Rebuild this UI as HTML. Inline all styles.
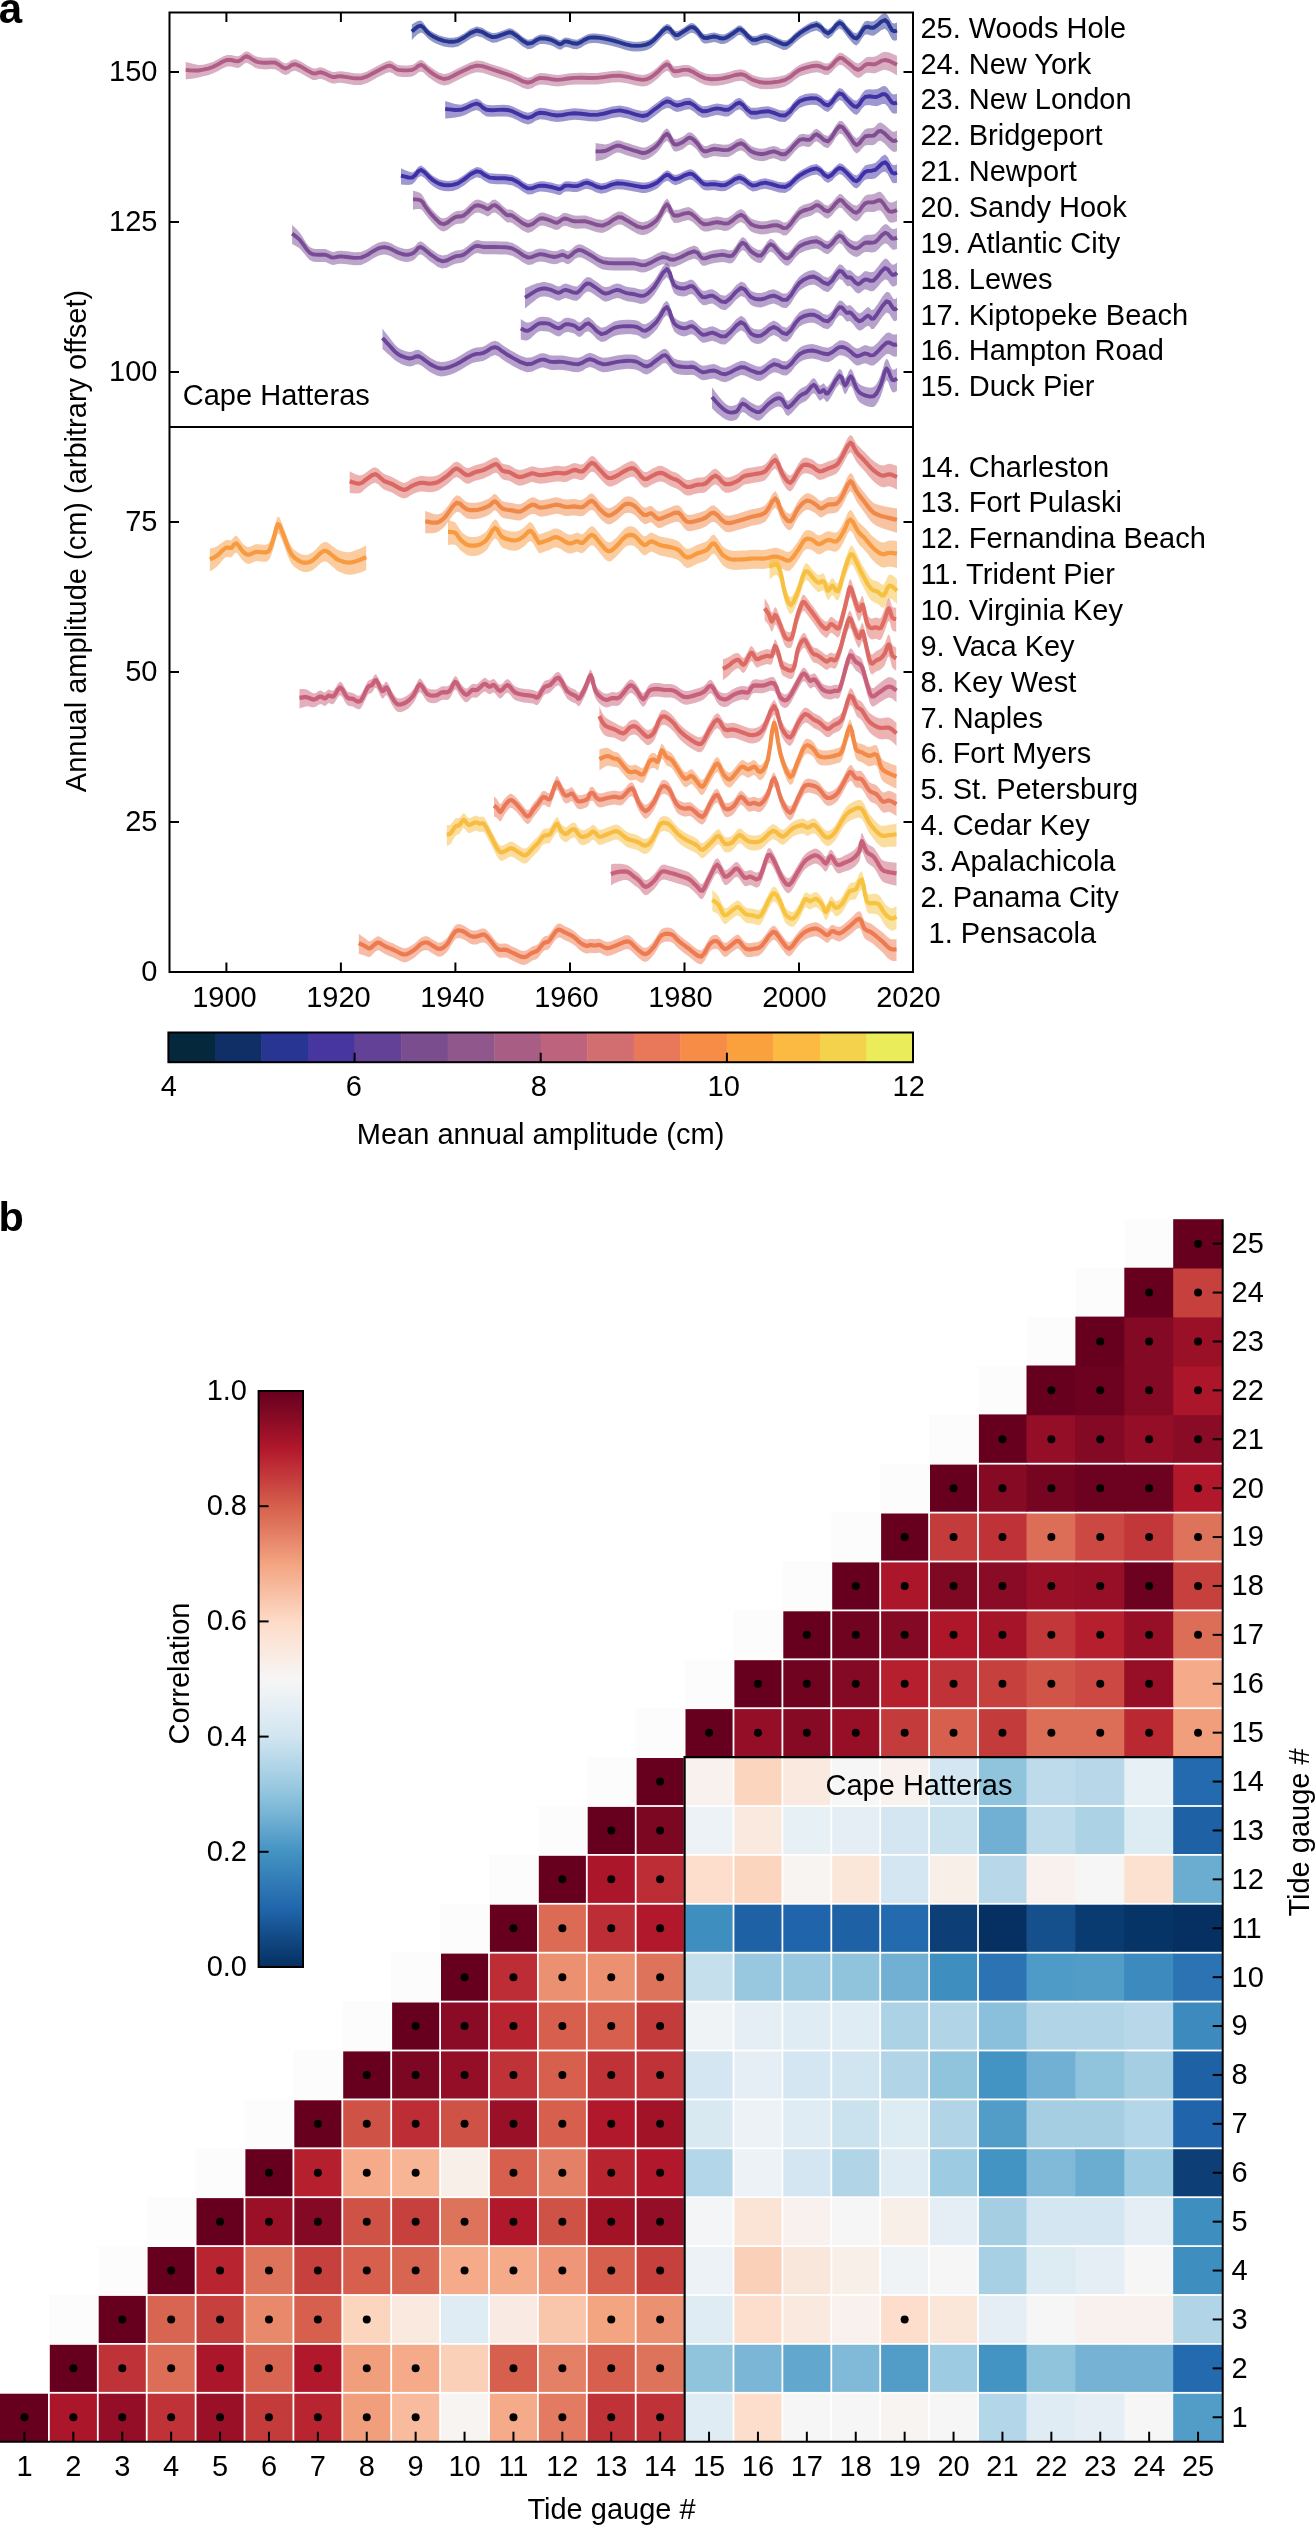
<!DOCTYPE html><html><head><meta charset="utf-8"><style>html,body{margin:0;padding:0;background:#fff;}svg{display:block;will-change:transform;}text{font-family:"Liberation Sans", sans-serif;}</style></head><body>
<svg width="1315" height="2526" viewBox="0 0 1315 2526">
<rect width="1315" height="2526" fill="#fff"/>
<text x="-1.2" y="23.3" font-size="42" font-weight="bold">a</text>
<g>
<path d="M411.8,24.4 L414.2,22.9 L417.6,20.9 L421.0,20.5 L423.6,22.9 L426.3,26.9 L429.5,30.2 L433.8,32.8 L438.8,35.2 L443.8,36.8 L448.4,37.7 L453.0,37.8 L458.0,36.8 L464.0,33.5 L470.4,29.1 L476.6,26.5 L482.2,27.8 L487.4,31.0 L492.2,33.1 L496.5,32.8 L500.2,31.4 L503.7,30.2 L506.4,29.2 L508.9,28.3 L512.2,28.8 L517.0,32.1 L522.7,36.8 L527.9,39.7 L532.2,38.9 L536.1,36.3 L540.0,34.5 L544.0,34.4 L547.8,35.0 L551.4,35.9 L554.6,37.4 L557.4,39.2 L560.0,40.2 L561.9,39.6 L563.4,38.2 L565.7,37.4 L569.0,38.0 L573.1,39.3 L577.1,39.7 L580.9,38.1 L584.7,35.7 L588.5,33.9 L592.2,33.4 L595.9,33.5 L599.9,33.9 L604.3,34.6 L609.1,35.6 L614.1,36.8 L619.7,38.5 L625.7,40.4 L631.3,41.6 L636.4,41.9 L641.3,41.6 L645.5,40.8 L648.6,39.7 L651.1,38.3 L654.1,35.9 L658.2,31.7 L662.8,26.6 L666.9,23.7 L670.1,25.1 L672.9,28.7 L675.5,31.1 L677.9,31.0 L680.2,29.7 L682.6,28.2 L685.4,26.4 L688.4,24.3 L691.1,23.1 L693.2,23.3 L694.9,24.3 L696.8,26.0 L699.0,28.6 L701.3,31.8 L704.0,33.9 L707.1,34.0 L710.5,33.1 L714.0,32.5 L717.3,33.2 L720.6,34.3 L723.9,34.5 L727.4,33.1 L730.8,30.8 L733.9,28.8 L736.3,27.0 L738.5,25.4 L741.0,25.4 L744.5,28.4 L748.4,32.9 L752.5,35.9 L756.7,35.7 L761.1,34.0 L765.3,33.1 L769.2,34.0 L773.0,35.8 L776.7,37.4 L780.0,38.9 L783.2,40.3 L786.7,40.2 L790.6,37.5 L794.8,33.3 L799.5,29.4 L805.1,25.7 L811.2,22.3 L816.6,20.8 L820.8,23.1 L824.4,27.3 L828.0,29.4 L831.9,26.6 L835.8,21.6 L839.4,18.7 L842.5,20.0 L845.2,23.4 L848.0,26.7 L850.8,29.6 L853.7,32.5 L856.5,33.2 L859.4,30.2 L862.2,25.0 L865.1,21.2 L867.8,20.7 L870.6,21.4 L873.7,21.2 L877.4,18.4 L881.5,14.5 L885.1,12.8 L887.8,15.2 L890.1,19.6 L892.2,22.9 L894.2,23.5 L895.9,23.0 L897.0,22.5 L897.0,40.1 L895.9,40.4 L894.2,40.7 L892.2,39.8 L890.1,36.3 L887.8,31.5 L885.1,28.8 L881.5,30.1 L877.4,33.3 L873.7,35.7 L870.6,35.5 L867.8,34.4 L865.1,34.6 L862.2,38.0 L859.4,42.7 L856.5,45.4 L853.7,44.3 L850.8,41.1 L848.0,37.7 L845.2,34.1 L842.5,30.3 L839.4,28.6 L835.8,31.2 L831.9,36.2 L828.0,39.0 L824.4,36.9 L820.8,32.7 L816.6,30.4 L811.2,31.9 L805.1,35.3 L799.5,39.0 L794.8,42.9 L790.6,47.1 L786.7,49.8 L783.2,49.9 L780.0,48.5 L776.7,47.0 L773.0,45.4 L769.2,43.6 L765.3,42.7 L761.1,43.6 L756.7,45.3 L752.5,45.5 L748.4,42.5 L744.5,38.0 L741.0,35.0 L738.5,35.0 L736.3,36.6 L733.9,38.4 L730.8,40.4 L727.4,42.7 L723.9,44.1 L720.6,43.9 L717.3,42.8 L714.0,42.1 L710.5,42.7 L707.1,43.6 L704.0,43.5 L701.3,41.4 L699.0,38.2 L696.8,35.6 L694.9,33.9 L693.2,32.9 L691.1,32.7 L688.4,33.9 L685.4,36.0 L682.6,37.8 L680.2,39.3 L677.9,40.6 L675.5,40.7 L672.9,38.3 L670.1,34.7 L666.9,33.3 L662.8,36.2 L658.2,41.3 L654.1,45.5 L651.1,47.9 L648.6,49.3 L645.5,50.4 L641.3,51.2 L636.4,51.5 L631.3,51.2 L625.7,50.0 L619.7,48.1 L614.1,46.4 L609.1,45.2 L604.3,44.2 L599.9,43.5 L595.9,43.1 L592.2,43.0 L588.5,43.5 L584.7,45.3 L580.9,47.7 L577.1,49.3 L573.1,48.9 L569.0,47.6 L565.7,47.0 L563.4,47.8 L561.9,49.2 L560.0,49.8 L557.4,48.8 L554.6,47.0 L551.4,45.5 L547.8,44.6 L544.0,44.0 L540.0,44.1 L536.1,45.9 L532.2,48.5 L527.9,49.3 L522.7,46.4 L517.0,41.7 L512.2,38.4 L508.9,37.9 L506.4,38.8 L503.7,39.8 L500.2,41.0 L496.5,42.4 L492.2,42.7 L487.4,40.6 L482.2,37.4 L476.6,36.1 L470.4,38.7 L464.0,43.1 L458.0,46.4 L453.0,47.4 L448.4,47.3 L443.8,46.4 L438.8,44.8 L433.8,42.4 L429.5,39.8 L426.3,36.7 L423.6,33.8 L421.0,32.5 L417.6,34.2 L414.2,37.5 L411.8,40.0 Z" fill="#263492" fill-opacity="0.5" stroke="none"/>
<path d="M185.7,61.9 L189.0,62.8 L193.7,64.1 L198.5,65.0 L203.2,64.7 L208.0,63.6 L212.8,62.0 L217.6,59.6 L222.5,56.8 L227.0,54.9 L231.2,55.0 L235.0,56.0 L238.4,56.3 L241.3,54.7 L243.8,52.4 L246.4,51.2 L249.4,52.3 L252.5,54.5 L255.6,56.3 L258.3,57.1 L261.1,57.5 L264.1,57.8 L267.8,57.7 L271.7,57.4 L275.5,57.8 L278.9,59.6 L282.2,62.1 L285.5,63.5 L288.6,62.3 L291.6,60.0 L295.5,59.2 L301.0,61.6 L307.3,65.5 L312.6,68.3 L316.0,68.5 L318.4,67.5 L321.1,67.2 L324.8,68.6 L328.9,70.6 L332.5,72.0 L335.2,72.0 L337.5,71.4 L341.1,71.2 L347.0,72.1 L354.2,73.3 L361.1,73.4 L367.2,71.4 L373.0,68.3 L378.2,65.5 L382.5,63.3 L386.2,61.4 L389.6,60.6 L392.4,61.5 L395.0,63.4 L398.1,64.9 L402.7,65.4 L407.9,65.4 L412.4,64.9 L415.7,63.1 L418.3,60.8 L421.0,59.8 L423.6,61.0 L426.2,63.6 L429.5,66.3 L433.8,69.3 L438.8,72.4 L443.8,74.0 L448.4,73.2 L453.0,70.9 L458.0,68.3 L463.9,65.4 L470.3,62.4 L476.6,60.6 L482.3,61.1 L487.9,62.9 L493.7,64.9 L499.8,66.8 L506.2,69.0 L512.2,71.2 L517.8,73.7 L523.0,76.4 L527.9,77.7 L532.0,76.7 L535.7,74.4 L540.0,72.9 L545.3,73.2 L551.2,74.2 L557.1,74.9 L562.6,74.4 L568.1,73.5 L574.2,72.9 L581.4,72.8 L589.2,73.0 L597.0,72.9 L604.6,72.0 L612.2,70.9 L619.8,70.6 L627.9,71.9 L635.9,73.9 L642.7,74.9 L647.3,74.1 L650.6,72.4 L654.1,70.0 L658.5,66.2 L663.0,61.7 L666.9,59.2 L669.4,60.5 L671.3,63.9 L674.0,66.3 L678.1,66.1 L683.1,64.9 L688.3,64.9 L693.8,67.3 L699.6,70.9 L705.4,73.4 L711.0,74.2 L716.7,74.1 L722.5,73.4 L728.8,72.0 L735.3,70.0 L741.0,69.2 L745.3,70.4 L748.8,72.8 L752.5,74.9 L756.4,76.2 L760.4,77.3 L765.3,77.7 L771.6,77.5 L778.8,76.6 L785.2,74.9 L790.3,71.9 L794.8,68.1 L799.5,64.9 L805.2,62.8 L811.2,61.3 L816.6,60.6 L820.8,61.5 L824.4,63.2 L828.0,63.5 L831.9,60.4 L835.8,55.8 L839.4,52.7 L842.4,52.9 L845.1,54.9 L848.0,57.0 L851.3,59.5 L854.7,62.2 L858.0,63.5 L860.9,62.1 L863.7,59.4 L866.5,57.2 L869.3,56.8 L872.1,56.9 L875.1,56.6 L878.2,55.0 L881.5,52.8 L885.1,51.7 L889.3,52.5 L893.9,54.4 L897.0,55.8 L897.0,75.4 L893.9,73.5 L889.3,71.1 L885.1,69.7 L881.5,70.4 L878.2,72.1 L875.1,73.3 L872.1,73.2 L869.3,72.7 L866.5,72.7 L863.7,74.5 L860.9,76.9 L858.0,77.9 L854.7,76.2 L851.3,73.0 L848.0,70.1 L845.1,67.5 L842.4,65.3 L839.4,64.7 L835.8,67.4 L831.9,72.0 L828.0,75.1 L824.4,74.8 L820.8,73.1 L816.6,72.2 L811.2,72.9 L805.2,74.4 L799.5,76.5 L794.8,79.7 L790.3,83.5 L785.2,86.5 L778.8,88.2 L771.6,89.1 L765.3,89.3 L760.4,88.9 L756.4,87.8 L752.5,86.5 L748.8,84.4 L745.3,82.0 L741.0,80.8 L735.3,81.6 L728.8,83.6 L722.5,85.0 L716.7,85.7 L711.0,85.8 L705.4,85.0 L699.6,82.5 L693.8,78.9 L688.3,76.5 L683.1,76.5 L678.1,77.7 L674.0,77.9 L671.3,75.5 L669.4,72.1 L666.9,70.8 L663.0,73.3 L658.5,77.8 L654.1,81.6 L650.6,84.0 L647.3,85.7 L642.7,86.5 L635.9,85.5 L627.9,83.5 L619.8,82.2 L612.2,82.5 L604.6,83.6 L597.0,84.5 L589.2,84.6 L581.4,84.4 L574.2,84.5 L568.1,85.1 L562.6,86.0 L557.1,86.5 L551.2,85.8 L545.3,84.8 L540.0,84.5 L535.7,86.0 L532.0,88.3 L527.9,89.3 L523.0,88.0 L517.8,85.3 L512.2,82.8 L506.2,80.6 L499.8,78.4 L493.7,76.5 L487.9,74.5 L482.3,72.7 L476.6,72.2 L470.3,74.0 L463.9,77.0 L458.0,79.9 L453.0,82.5 L448.4,84.8 L443.8,85.6 L438.8,84.0 L433.8,80.9 L429.5,77.9 L426.2,75.2 L423.6,72.6 L421.0,71.4 L418.3,72.4 L415.7,74.7 L412.4,76.5 L407.9,77.0 L402.7,77.0 L398.1,76.5 L395.0,75.0 L392.4,73.1 L389.6,72.2 L386.2,73.0 L382.5,74.9 L378.2,77.1 L373.0,79.9 L367.2,83.0 L361.1,85.0 L354.2,84.9 L347.0,83.7 L341.1,82.8 L337.5,83.0 L335.2,83.6 L332.5,83.6 L328.9,82.2 L324.8,80.2 L321.1,78.8 L318.4,79.1 L316.0,80.1 L312.6,79.9 L307.3,77.1 L301.0,73.2 L295.5,70.8 L291.6,71.6 L288.6,73.9 L285.5,75.1 L282.2,73.7 L278.9,71.2 L275.5,69.4 L271.7,69.0 L267.8,69.3 L264.1,69.4 L261.1,69.1 L258.3,68.7 L255.6,67.9 L252.5,66.1 L249.4,63.9 L246.4,62.8 L243.8,64.0 L241.3,66.3 L238.4,67.9 L235.0,67.6 L231.2,66.6 L227.0,66.5 L222.5,68.4 L217.6,71.2 L212.8,73.6 L208.0,75.2 L203.2,76.3 L198.5,77.5 L193.7,78.5 L189.0,79.1 L185.7,79.5 Z" fill="#b05e86" fill-opacity="0.5" stroke="none"/>
<path d="M445.2,101.0 L449.3,102.3 L455.1,104.0 L460.9,104.8 L466.3,102.8 L471.8,100.0 L476.6,98.5 L480.0,99.9 L482.9,102.7 L486.5,104.8 L492.0,105.2 L498.3,104.9 L503.7,104.8 L506.9,105.0 L509.1,105.3 L512.2,106.2 L517.0,108.5 L522.7,111.3 L527.9,112.8 L532.0,111.7 L535.7,109.2 L540.0,107.7 L545.3,108.2 L551.2,109.6 L557.1,110.5 L562.6,110.0 L568.1,108.9 L574.2,108.2 L581.4,108.7 L589.2,109.7 L597.0,109.9 L604.6,108.5 L612.2,106.4 L619.8,105.4 L627.9,107.0 L635.9,109.7 L642.7,111.1 L647.3,110.0 L650.6,107.5 L654.1,104.8 L658.3,101.7 L662.8,98.2 L666.9,96.3 L670.3,97.0 L673.4,99.2 L676.9,100.5 L680.9,99.7 L685.3,98.1 L689.7,97.7 L693.9,100.1 L698.2,103.8 L702.5,106.2 L707.3,106.0 L712.2,104.4 L716.8,103.4 L720.8,103.9 L724.5,104.8 L728.2,104.8 L732.0,102.4 L735.8,99.1 L739.6,97.7 L743.2,100.2 L746.8,104.5 L751.0,107.7 L756.3,107.8 L762.2,106.7 L768.1,106.2 L773.9,107.9 L779.8,110.2 L785.2,110.5 L790.1,106.7 L794.6,100.8 L799.5,96.3 L805.2,94.1 L811.2,93.2 L816.6,93.4 L820.8,95.8 L824.4,99.2 L828.0,100.5 L831.9,97.2 L835.8,91.6 L839.4,88.1 L842.5,89.0 L845.2,92.0 L848.0,95.0 L850.8,97.5 L853.7,100.0 L856.5,100.7 L859.3,98.0 L862.0,93.5 L865.1,90.1 L868.8,89.2 L872.8,89.4 L876.5,89.3 L879.6,88.0 L882.4,86.3 L885.1,85.9 L887.6,88.1 L890.0,91.5 L892.2,94.0 L894.2,94.5 L895.9,94.1 L897.0,93.7 L897.0,113.3 L895.9,113.5 L894.2,113.7 L892.2,113.0 L890.0,110.2 L887.6,106.4 L885.1,103.9 L882.4,104.0 L879.6,105.3 L876.5,106.2 L872.8,105.8 L868.8,105.1 L865.1,105.4 L862.0,108.4 L859.3,112.5 L856.5,114.9 L853.7,113.8 L850.8,111.0 L848.0,108.0 L845.2,104.7 L842.5,101.3 L839.4,100.0 L835.8,103.2 L831.9,108.8 L828.0,112.1 L824.4,110.8 L820.8,107.4 L816.6,105.0 L811.2,104.8 L805.2,105.7 L799.5,107.9 L794.6,112.4 L790.1,118.3 L785.2,122.1 L779.8,121.8 L773.9,119.5 L768.1,117.8 L762.2,118.3 L756.3,119.4 L751.0,119.3 L746.8,116.1 L743.2,111.8 L739.6,109.3 L735.8,110.7 L732.0,114.0 L728.2,116.4 L724.5,116.4 L720.8,115.5 L716.8,115.0 L712.2,116.0 L707.3,117.6 L702.5,117.8 L698.2,115.4 L693.9,111.7 L689.7,109.3 L685.3,109.7 L680.9,111.3 L676.9,112.1 L673.4,110.8 L670.3,108.6 L666.9,107.9 L662.8,109.8 L658.3,113.3 L654.1,116.4 L650.6,119.1 L647.3,121.6 L642.7,122.7 L635.9,121.3 L627.9,118.6 L619.8,117.0 L612.2,118.0 L604.6,120.1 L597.0,121.5 L589.2,121.3 L581.4,120.3 L574.2,119.8 L568.1,120.5 L562.6,121.6 L557.1,122.1 L551.2,121.2 L545.3,119.8 L540.0,119.3 L535.7,120.8 L532.0,123.3 L527.9,124.4 L522.7,122.9 L517.0,120.1 L512.2,117.8 L509.1,116.9 L506.9,116.6 L503.7,116.4 L498.3,116.5 L492.0,116.8 L486.5,116.4 L482.9,114.3 L480.0,111.5 L476.6,110.1 L471.8,111.6 L466.3,114.4 L460.9,116.4 L455.1,117.6 L449.3,118.2 L445.2,118.6 Z" fill="#4032a2" fill-opacity="0.5" stroke="none"/>
<path d="M595.6,142.9 L598.1,143.5 L601.8,144.1 L605.6,144.4 L609.4,143.5 L613.4,141.6 L617.0,140.2 L620.0,140.4 L622.6,141.4 L625.6,142.5 L629.2,143.6 L633.3,144.9 L637.0,145.9 L639.9,146.9 L642.6,147.6 L645.5,147.4 L649.2,145.8 L653.1,143.3 L656.9,140.2 L660.5,135.8 L663.8,130.8 L666.9,128.3 L669.4,130.6 L671.7,135.4 L674.0,138.8 L676.8,139.2 L679.8,138.1 L682.6,136.8 L685.1,135.1 L687.4,133.1 L689.7,132.2 L692.1,133.1 L694.5,135.1 L696.8,137.4 L699.1,140.4 L701.4,143.8 L704.0,145.9 L706.9,145.9 L710.2,144.6 L714.0,143.6 L718.4,144.0 L723.4,144.7 L728.2,144.5 L732.7,142.3 L737.0,139.3 L741.0,137.9 L744.5,139.7 L747.7,143.1 L751.0,145.9 L754.7,147.5 L758.6,148.4 L762.4,148.8 L766.2,148.0 L770.0,146.7 L773.8,145.9 L777.5,147.1 L781.2,148.9 L785.2,148.8 L789.9,144.8 L795.0,138.9 L799.5,134.5 L803.3,133.7 L806.5,134.4 L809.5,134.5 L811.9,132.6 L814.0,130.0 L816.6,128.8 L820.1,131.1 L824.1,134.7 L828.0,135.9 L831.9,131.7 L835.8,125.0 L839.4,120.7 L842.5,121.3 L845.2,124.5 L848.0,128.1 L850.8,132.0 L853.7,136.3 L856.5,138.4 L859.4,136.5 L862.2,132.4 L865.1,129.2 L868.0,128.3 L870.9,128.3 L873.7,127.8 L876.0,125.8 L878.1,123.3 L880.8,122.5 L884.5,124.8 L888.7,128.6 L892.2,131.4 L894.5,131.8 L896.0,131.1 L897.0,130.5 L897.0,150.9 L896.0,151.4 L894.5,151.9 L892.2,151.2 L888.7,147.9 L884.5,143.5 L880.8,140.7 L878.1,141.2 L876.0,143.4 L873.7,145.1 L870.9,145.2 L868.0,144.9 L865.1,145.4 L862.2,148.2 L859.4,151.8 L856.5,153.4 L853.7,150.9 L850.8,146.3 L848.0,142.0 L845.2,138.0 L842.5,134.4 L839.4,133.4 L835.8,137.4 L831.9,144.1 L828.0,148.3 L824.1,147.1 L820.1,143.5 L816.6,141.2 L814.0,142.4 L811.9,145.0 L809.5,146.9 L806.5,146.8 L803.3,146.1 L799.5,146.9 L795.0,151.3 L789.9,157.2 L785.2,161.2 L781.2,161.3 L777.5,159.5 L773.8,158.3 L770.0,159.1 L766.2,160.4 L762.4,161.2 L758.6,160.8 L754.7,159.9 L751.0,158.3 L747.7,155.5 L744.5,152.1 L741.0,150.3 L737.0,151.7 L732.7,154.7 L728.2,156.9 L723.4,157.1 L718.4,156.4 L714.0,156.0 L710.2,157.0 L706.9,158.3 L704.0,158.3 L701.4,156.2 L699.1,152.8 L696.8,149.8 L694.5,147.5 L692.1,145.5 L689.7,144.6 L687.4,145.5 L685.1,147.5 L682.6,149.2 L679.8,150.5 L676.8,151.6 L674.0,151.2 L671.7,147.8 L669.4,143.0 L666.9,140.7 L663.8,143.2 L660.5,148.2 L656.9,152.6 L653.1,155.7 L649.2,158.2 L645.5,159.8 L642.6,160.0 L639.9,159.3 L637.0,158.3 L633.3,157.3 L629.2,156.0 L625.6,154.9 L622.6,153.8 L620.0,152.8 L617.0,152.6 L613.4,154.0 L609.4,156.4 L605.6,158.8 L601.8,160.1 L598.1,160.8 L595.6,161.3 Z" fill="#804c92" fill-opacity="0.5" stroke="none"/>
<path d="M401.0,168.2 L404.1,169.7 L408.4,171.6 L412.4,172.4 L415.4,170.5 L418.0,167.1 L421.0,165.5 L424.5,167.7 L428.4,171.8 L432.4,175.4 L436.1,177.8 L439.8,179.6 L443.8,180.6 L448.1,180.9 L452.8,180.5 L458.0,178.9 L464.1,175.0 L470.6,169.9 L476.6,166.9 L480.9,167.8 L484.6,170.7 L489.4,173.2 L496.5,173.8 L504.8,173.9 L512.2,174.9 L518.1,177.8 L523.2,181.6 L527.9,184.0 L532.2,183.8 L536.1,182.2 L540.0,181.2 L544.0,181.3 L547.8,181.9 L551.4,182.6 L554.6,183.4 L557.4,184.3 L560.0,184.6 L561.9,183.7 L563.4,182.2 L565.7,181.2 L569.1,181.2 L573.2,181.7 L577.1,181.7 L580.3,180.6 L583.5,179.0 L587.1,178.3 L591.4,179.7 L596.3,182.1 L601.3,183.4 L606.4,182.4 L611.6,180.2 L617.0,178.9 L622.8,179.2 L628.8,180.2 L634.1,181.2 L638.3,181.9 L641.9,182.6 L645.5,182.6 L649.4,181.7 L653.2,180.2 L656.9,178.3 L660.4,175.4 L663.7,172.2 L666.9,170.3 L669.6,171.3 L672.2,173.7 L675.5,174.9 L680.1,173.4 L685.3,170.7 L689.7,169.2 L692.6,169.7 L694.7,171.3 L696.8,173.2 L699.1,175.4 L701.4,177.9 L704.0,179.7 L707.0,180.2 L710.4,179.9 L714.0,179.7 L717.5,180.3 L721.3,180.9 L725.4,180.6 L730.0,178.2 L734.9,174.8 L739.6,173.2 L744.0,175.1 L748.2,178.7 L752.5,181.2 L756.5,180.7 L760.5,179.1 L765.3,178.3 L771.6,179.8 L778.8,182.0 L785.2,182.6 L790.3,179.8 L794.8,175.2 L799.5,171.2 L805.2,167.9 L811.2,165.1 L816.6,164.0 L820.8,166.4 L824.4,170.5 L828.0,172.6 L831.9,170.3 L835.8,166.0 L839.4,163.3 L842.5,164.0 L845.2,166.5 L848.0,169.0 L850.8,171.7 L853.7,174.6 L856.5,175.6 L859.3,173.2 L862.1,169.0 L865.1,165.6 L868.3,164.4 L871.7,164.0 L875.1,162.9 L878.5,159.9 L881.9,156.2 L885.1,154.6 L887.7,156.9 L890.1,161.4 L892.2,164.6 L894.2,165.3 L895.9,164.8 L897.0,164.3 L897.0,182.7 L895.9,183.0 L894.2,183.3 L892.2,182.4 L890.1,178.8 L887.7,174.1 L885.1,171.4 L881.9,172.6 L878.5,175.8 L875.1,178.4 L871.7,179.0 L868.3,178.9 L865.1,179.7 L862.1,182.7 L859.3,186.6 L856.5,188.6 L853.7,187.2 L850.8,184.0 L848.0,180.9 L845.2,178.0 L842.5,175.2 L839.4,174.0 L835.8,176.4 L831.9,180.7 L828.0,183.0 L824.4,180.9 L820.8,176.8 L816.6,174.4 L811.2,175.5 L805.2,178.3 L799.5,181.6 L794.8,185.6 L790.3,190.2 L785.2,193.0 L778.8,192.4 L771.6,190.2 L765.3,188.7 L760.5,189.5 L756.5,191.1 L752.5,191.6 L748.2,189.1 L744.0,185.5 L739.6,183.6 L734.9,185.2 L730.0,188.6 L725.4,191.0 L721.3,191.3 L717.5,190.7 L714.0,190.1 L710.4,190.3 L707.0,190.6 L704.0,190.1 L701.4,188.3 L699.1,185.8 L696.8,183.6 L694.7,181.7 L692.6,180.1 L689.7,179.6 L685.3,181.1 L680.1,183.8 L675.5,185.3 L672.2,184.1 L669.6,181.7 L666.9,180.7 L663.7,182.6 L660.4,185.8 L656.9,188.7 L653.2,190.6 L649.4,192.1 L645.5,193.0 L641.9,193.0 L638.3,192.3 L634.1,191.6 L628.8,190.6 L622.8,189.6 L617.0,189.3 L611.6,190.6 L606.4,192.8 L601.3,193.8 L596.3,192.5 L591.4,190.1 L587.1,188.7 L583.5,189.4 L580.3,191.0 L577.1,192.1 L573.2,192.1 L569.1,191.6 L565.7,191.6 L563.4,192.6 L561.9,194.1 L560.0,195.0 L557.4,194.7 L554.6,193.8 L551.4,193.0 L547.8,192.3 L544.0,191.7 L540.0,191.6 L536.1,192.6 L532.2,194.2 L527.9,194.4 L523.2,192.0 L518.1,188.2 L512.2,185.3 L504.8,184.3 L496.5,184.2 L489.4,183.6 L484.6,181.1 L480.9,178.2 L476.6,177.3 L470.6,180.3 L464.1,185.4 L458.0,189.3 L452.8,190.9 L448.1,191.3 L443.8,191.0 L439.8,190.0 L436.1,188.2 L432.4,185.8 L428.4,182.2 L424.5,178.1 L421.0,175.9 L418.0,177.5 L415.4,181.2 L412.4,184.3 L408.4,185.1 L404.1,184.8 L401.0,184.6 Z" fill="#3e30a6" fill-opacity="0.5" stroke="none"/>
<path d="M413.0,190.7 L415.1,191.2 L418.2,191.9 L421.0,193.4 L422.9,195.9 L424.6,199.1 L426.7,202.6 L429.3,206.2 L432.3,209.7 L435.2,212.8 L438.0,215.5 L440.7,217.7 L443.8,218.5 L447.5,216.9 L451.5,213.8 L455.2,211.4 L458.1,210.8 L460.8,210.8 L463.7,209.9 L467.4,206.8 L471.4,202.8 L475.1,200.0 L478.4,199.6 L481.3,200.5 L483.7,201.4 L485.3,202.2 L486.5,203.1 L488.0,203.4 L490.0,202.0 L492.3,199.9 L495.1,199.4 L498.8,201.9 L503.0,206.0 L506.5,209.1 L508.5,209.7 L509.8,209.3 L512.2,209.9 L516.8,213.2 L522.6,217.5 L527.9,219.9 L532.3,218.5 L536.4,215.2 L540.0,212.8 L543.1,212.6 L545.8,213.3 L548.6,214.2 L551.5,215.3 L554.4,216.6 L557.1,217.1 L559.5,215.9 L561.7,214.0 L564.2,212.8 L567.3,213.3 L570.7,214.6 L574.2,215.6 L577.7,215.7 L581.3,215.4 L585.6,215.6 L591.0,217.2 L596.9,219.3 L602.7,219.9 L608.3,217.6 L613.7,213.7 L618.4,211.4 L622.0,211.8 L625.0,213.6 L628.4,215.6 L632.8,218.2 L637.8,221.0 L642.7,222.2 L647.6,220.9 L652.5,218.0 L656.9,214.2 L660.7,208.6 L663.9,202.0 L666.9,198.5 L669.2,200.9 L671.2,206.2 L674.0,209.9 L678.5,209.8 L683.8,208.0 L688.3,207.1 L691.1,207.9 L693.2,209.5 L695.4,211.4 L698.0,213.9 L700.8,216.7 L704.0,218.5 L708.0,218.4 L712.5,217.3 L716.8,216.5 L720.7,217.0 L724.4,217.9 L728.2,217.6 L732.5,214.8 L736.9,211.0 L741.0,209.1 L744.5,211.1 L747.7,215.2 L751.0,218.5 L754.6,220.1 L758.4,221.0 L762.4,221.4 L767.1,220.9 L772.2,219.8 L776.7,219.4 L780.2,220.6 L783.3,222.4 L786.7,222.2 L790.8,218.1 L795.2,212.0 L799.5,207.1 L803.6,204.8 L807.5,203.8 L810.9,202.8 L813.5,201.3 L815.6,199.8 L818.0,199.4 L821.1,201.4 L824.5,204.5 L828.0,205.7 L831.9,202.5 L835.9,197.5 L839.4,194.1 L842.0,194.5 L844.1,196.9 L846.6,199.3 L849.7,202.0 L853.2,204.8 L856.5,205.8 L859.5,203.4 L862.3,199.1 L865.1,195.8 L868.0,194.6 L870.9,194.4 L873.7,194.1 L876.1,192.9 L878.4,191.7 L880.8,191.9 L883.6,194.9 L886.5,199.2 L889.3,202.2 L892.2,202.4 L895.1,201.2 L897.0,200.2 L897.0,221.2 L895.1,221.9 L892.2,222.7 L889.3,222.2 L886.5,218.8 L883.6,214.1 L880.8,210.7 L878.4,210.2 L876.1,211.2 L873.7,212.0 L870.9,211.9 L868.0,211.8 L865.1,212.6 L862.3,215.5 L859.5,219.4 L856.5,221.4 L853.2,220.0 L849.7,216.7 L846.6,213.6 L844.1,210.8 L842.0,208.2 L839.4,207.4 L835.9,210.5 L831.9,215.5 L828.0,218.7 L824.5,217.5 L821.1,214.4 L818.0,212.4 L815.6,212.8 L813.5,214.3 L810.9,215.8 L807.5,216.8 L803.6,217.8 L799.5,220.1 L795.2,225.0 L790.8,231.1 L786.7,235.2 L783.3,235.4 L780.2,233.6 L776.7,232.4 L772.2,232.8 L767.1,233.9 L762.4,234.4 L758.4,234.0 L754.6,233.1 L751.0,231.5 L747.7,228.2 L744.5,224.1 L741.0,222.1 L736.9,224.0 L732.5,227.8 L728.2,230.6 L724.4,230.9 L720.7,230.0 L716.8,229.5 L712.5,230.3 L708.0,231.4 L704.0,231.5 L700.8,229.7 L698.0,226.9 L695.4,224.4 L693.2,222.5 L691.1,220.9 L688.3,220.1 L683.8,221.0 L678.5,222.8 L674.0,222.9 L671.2,219.2 L669.2,213.9 L666.9,211.5 L663.9,215.0 L660.7,221.6 L656.9,227.2 L652.5,231.0 L647.6,233.9 L642.7,235.2 L637.8,234.0 L632.8,231.2 L628.4,228.6 L625.0,226.6 L622.0,224.8 L618.4,224.4 L613.7,226.7 L608.3,230.6 L602.7,232.9 L596.9,232.3 L591.0,230.2 L585.6,228.6 L581.3,228.4 L577.7,228.7 L574.2,228.6 L570.7,227.6 L567.3,226.3 L564.2,225.8 L561.7,227.0 L559.5,228.9 L557.1,230.1 L554.4,229.6 L551.5,228.3 L548.6,227.2 L545.8,226.3 L543.1,225.6 L540.0,225.8 L536.4,228.2 L532.3,231.5 L527.9,232.9 L522.6,230.5 L516.8,226.2 L512.2,222.9 L509.8,222.3 L508.5,222.7 L506.5,222.1 L503.0,219.0 L498.8,214.9 L495.1,212.4 L492.3,212.9 L490.0,215.0 L488.0,216.4 L486.5,216.1 L485.3,215.2 L483.7,214.4 L481.3,213.5 L478.4,212.6 L475.1,213.0 L471.4,215.8 L467.4,219.8 L463.7,222.9 L460.8,223.8 L458.1,223.8 L455.2,224.4 L451.5,226.8 L447.5,229.9 L443.8,231.5 L440.7,230.7 L438.0,228.5 L435.2,225.8 L432.3,222.7 L429.3,219.2 L426.7,216.1 L424.6,213.4 L422.9,210.9 L421.0,209.2 L418.2,208.9 L415.1,209.3 L413.0,209.7 Z" fill="#845092" fill-opacity="0.5" stroke="none"/>
<path d="M292.1,224.9 L294.0,226.7 L296.7,229.3 L299.8,232.7 L303.0,237.6 L306.4,243.2 L309.7,247.0 L312.7,248.6 L315.6,248.9 L318.3,249.0 L320.8,249.1 L323.1,248.9 L325.4,249.0 L327.7,249.9 L330.1,251.1 L332.5,251.9 L334.9,251.7 L337.4,251.1 L341.1,250.7 L347.0,251.3 L354.2,252.2 L361.1,251.9 L367.2,249.3 L373.1,245.5 L378.2,242.7 L382.0,241.7 L385.1,241.6 L388.2,242.2 L391.5,243.5 L394.9,245.4 L398.1,247.0 L401.1,248.0 L404.0,248.8 L406.7,249.0 L409.2,248.8 L411.5,248.1 L413.8,247.0 L416.0,244.9 L418.0,242.4 L420.4,241.3 L423.1,242.6 L426.1,245.1 L429.5,247.9 L433.5,250.8 L437.9,253.9 L442.3,255.6 L446.8,254.8 L451.2,252.6 L455.2,250.7 L458.2,250.2 L460.8,250.0 L463.7,249.0 L467.4,246.3 L471.4,242.9 L475.1,240.5 L478.1,240.1 L480.7,240.7 L483.7,241.3 L487.1,241.3 L490.8,241.2 L495.1,241.3 L500.4,241.4 L506.4,241.6 L512.2,242.7 L517.7,245.7 L523.0,249.5 L527.9,251.9 L532.1,251.4 L535.9,249.6 L540.0,248.4 L544.8,249.1 L549.8,250.5 L554.3,251.3 L557.6,250.7 L560.4,249.6 L562.8,249.0 L564.8,249.8 L566.4,251.1 L568.5,251.3 L571.5,249.2 L574.9,246.0 L578.5,244.2 L582.1,244.8 L585.9,246.8 L589.9,249.0 L593.9,251.5 L598.1,254.3 L602.7,256.4 L608.2,257.3 L614.2,257.5 L619.8,257.6 L624.9,257.6 L629.7,257.5 L634.1,257.6 L637.9,258.4 L641.4,259.4 L645.5,259.3 L651.0,256.9 L657.1,253.5 L662.6,251.3 L666.5,251.9 L669.8,253.6 L674.0,254.1 L680.5,251.6 L687.9,247.7 L694.0,245.6 L697.7,247.1 L700.1,250.4 L702.5,252.7 L705.3,252.7 L708.0,251.7 L711.1,250.7 L714.7,250.0 L718.7,249.4 L722.5,249.0 L725.9,249.6 L729.2,250.5 L732.5,249.9 L735.9,245.8 L739.3,240.2 L742.5,237.0 L745.4,238.5 L748.1,242.3 L751.0,245.6 L754.3,247.9 L757.7,249.8 L761.0,249.9 L764.2,246.5 L767.3,241.4 L770.4,238.5 L773.5,239.9 L776.6,243.6 L779.5,247.0 L782.3,249.8 L785.1,252.3 L788.1,252.7 L791.5,249.7 L795.2,244.7 L799.5,240.5 L805.0,237.9 L811.1,236.2 L816.6,235.6 L820.8,237.4 L824.4,240.3 L828.0,241.3 L831.9,238.0 L835.8,232.9 L839.4,229.7 L842.5,231.1 L845.2,234.6 L848.0,237.7 L850.8,239.7 L853.7,241.1 L856.5,241.4 L859.3,239.9 L862.1,237.3 L865.1,235.2 L868.3,234.7 L871.7,234.8 L875.1,233.9 L878.5,230.7 L881.9,226.4 L885.1,223.9 L887.7,224.7 L890.1,227.2 L892.2,229.1 L894.2,229.1 L895.9,228.4 L897.0,227.9 L897.0,248.9 L895.9,249.3 L894.2,249.7 L892.2,249.4 L890.1,247.3 L887.7,244.5 L885.1,243.3 L881.9,245.4 L878.5,249.2 L875.1,252.0 L871.7,252.4 L868.3,251.9 L865.1,251.9 L862.1,253.6 L859.3,255.9 L856.5,257.0 L853.7,256.3 L850.8,254.5 L848.0,252.2 L845.2,248.7 L842.5,244.8 L839.4,243.1 L835.8,245.9 L831.9,251.0 L828.0,254.3 L824.4,253.3 L820.8,250.4 L816.6,248.6 L811.1,249.2 L805.0,250.9 L799.5,253.5 L795.2,257.7 L791.5,262.7 L788.1,265.7 L785.1,265.3 L782.3,262.8 L779.5,260.0 L776.6,256.6 L773.5,252.9 L770.4,251.5 L767.3,254.4 L764.2,259.5 L761.0,262.9 L757.7,262.8 L754.3,260.9 L751.0,258.6 L748.1,255.3 L745.4,251.5 L742.5,250.0 L739.3,253.2 L735.9,258.8 L732.5,262.9 L729.2,263.5 L725.9,262.6 L722.5,262.0 L718.7,262.4 L714.7,263.0 L711.1,263.7 L708.0,264.7 L705.3,265.7 L702.5,265.7 L700.1,263.4 L697.7,260.1 L694.0,258.6 L687.9,260.7 L680.5,264.6 L674.0,267.1 L669.8,266.6 L666.5,264.9 L662.6,264.3 L657.1,266.5 L651.0,269.9 L645.5,272.3 L641.4,272.4 L637.9,271.4 L634.1,270.6 L629.7,270.5 L624.9,270.6 L619.8,270.6 L614.2,270.5 L608.2,270.3 L602.7,269.4 L598.1,267.3 L593.9,264.5 L589.9,262.0 L585.9,259.8 L582.1,257.8 L578.5,257.2 L574.9,259.0 L571.5,262.2 L568.5,264.3 L566.4,264.1 L564.8,262.8 L562.8,262.0 L560.4,262.6 L557.6,263.7 L554.3,264.3 L549.8,263.5 L544.8,262.1 L540.0,261.4 L535.9,262.6 L532.1,264.4 L527.9,264.9 L523.0,262.5 L517.7,258.7 L512.2,255.7 L506.4,254.6 L500.4,254.4 L495.1,254.3 L490.8,254.2 L487.1,254.3 L483.7,254.3 L480.7,253.7 L478.1,253.1 L475.1,253.5 L471.4,255.9 L467.4,259.3 L463.7,262.0 L460.8,263.0 L458.2,263.2 L455.2,263.7 L451.2,265.6 L446.8,267.8 L442.3,268.6 L437.9,266.9 L433.5,263.8 L429.5,260.9 L426.1,258.1 L423.1,255.6 L420.4,254.3 L418.0,255.4 L416.0,257.9 L413.8,260.0 L411.5,261.1 L409.2,261.8 L406.7,262.0 L404.0,261.8 L401.1,261.0 L398.1,260.0 L394.9,258.4 L391.5,256.5 L388.2,255.2 L385.1,254.6 L382.0,254.7 L378.2,255.7 L373.1,258.5 L367.2,262.3 L361.1,264.9 L354.2,265.2 L347.0,264.3 L341.1,263.7 L337.4,264.1 L334.9,264.7 L332.5,264.9 L330.1,264.1 L327.7,262.9 L325.4,262.0 L323.1,261.9 L320.8,262.1 L318.3,262.0 L315.6,261.9 L312.7,261.6 L309.7,260.0 L306.4,256.4 L303.0,252.2 L299.8,248.6 L296.7,246.4 L294.0,244.9 L292.1,243.9 Z" fill="#7a4c96" fill-opacity="0.5" stroke="none"/>
<path d="M525.0,288.2 L527.8,287.0 L531.7,285.3 L535.0,284.0 L537.0,283.3 L538.5,282.9 L540.0,282.7 L541.6,282.3 L543.2,282.1 L545.0,282.1 L547.0,282.4 L549.2,282.9 L551.4,283.5 L553.7,284.6 L556.1,285.8 L558.5,286.4 L560.8,285.7 L563.0,284.3 L565.7,283.5 L569.2,284.5 L573.2,286.1 L577.1,286.4 L580.5,283.6 L583.8,279.5 L587.1,277.0 L590.4,277.6 L593.8,279.9 L597.0,282.1 L599.9,284.2 L602.6,286.2 L605.6,287.3 L609.3,286.4 L613.3,284.6 L617.0,283.5 L620.1,284.1 L622.8,285.3 L625.6,286.4 L628.4,287.0 L631.1,287.4 L634.1,287.8 L637.3,288.7 L640.7,289.5 L644.1,289.2 L647.3,287.5 L650.5,284.6 L654.1,280.7 L658.3,274.1 L662.9,266.5 L666.9,262.7 L669.6,266.0 L671.7,273.0 L674.0,278.7 L677.2,281.0 L680.7,281.9 L684.0,282.1 L686.9,281.3 L689.7,279.8 L692.6,279.8 L695.8,282.9 L699.2,287.5 L702.5,290.7 L705.8,290.8 L709.0,289.6 L712.5,289.2 L716.5,291.6 L720.8,294.9 L725.4,295.8 L730.6,291.7 L736.1,285.3 L741.0,281.5 L744.8,283.1 L747.9,287.3 L751.0,290.7 L754.2,292.2 L757.5,292.9 L761.0,293.0 L765.1,291.9 L769.5,290.1 L773.8,289.2 L778.1,290.9 L782.4,293.4 L786.7,293.5 L790.9,289.0 L795.1,282.1 L799.5,276.4 L804.2,273.0 L809.0,270.8 L813.8,270.1 L818.6,272.5 L823.5,276.3 L828.0,277.8 L832.2,274.2 L836.0,268.2 L839.4,264.3 L842.2,264.9 L844.6,267.8 L846.6,270.1 L848.1,270.4 L849.3,270.0 L850.8,270.4 L853.0,272.4 L855.5,275.0 L858.0,276.4 L860.3,275.3 L862.6,272.9 L865.1,271.1 L867.7,271.4 L870.5,272.3 L873.7,271.7 L877.4,267.6 L881.5,261.9 L885.1,258.4 L887.8,259.4 L890.1,262.5 L892.2,264.8 L894.2,264.5 L895.9,263.4 L897.0,262.4 L897.0,284.8 L895.9,285.6 L894.2,286.6 L892.2,286.5 L890.1,284.0 L887.8,280.5 L885.1,279.2 L881.5,282.2 L877.4,287.3 L873.7,291.0 L870.5,291.2 L867.7,289.9 L865.1,289.3 L862.6,290.7 L860.3,292.8 L858.0,293.6 L855.5,291.9 L853.0,288.9 L850.8,286.6 L849.3,286.1 L848.1,286.2 L846.6,285.7 L844.6,283.2 L842.2,280.0 L839.4,279.0 L836.0,282.6 L832.2,288.6 L828.0,292.2 L823.5,290.7 L818.6,286.9 L813.8,284.5 L809.0,285.2 L804.2,287.4 L799.5,290.8 L795.1,296.5 L790.9,303.4 L786.7,307.9 L782.4,307.8 L778.1,305.3 L773.8,303.6 L769.5,304.5 L765.1,306.3 L761.0,307.4 L757.5,307.3 L754.2,306.6 L751.0,305.1 L747.9,301.7 L744.8,297.5 L741.0,295.9 L736.1,299.7 L730.6,306.1 L725.4,310.2 L720.8,309.3 L716.5,306.0 L712.5,303.6 L709.0,304.0 L705.8,305.2 L702.5,305.1 L699.2,301.9 L695.8,297.3 L692.6,294.2 L689.7,294.2 L686.9,295.7 L684.0,296.5 L680.7,296.3 L677.2,295.4 L674.0,293.1 L671.7,287.4 L669.6,280.4 L666.9,277.1 L662.9,280.9 L658.3,288.5 L654.1,295.1 L650.5,299.0 L647.3,301.9 L644.1,303.6 L640.7,303.9 L637.3,303.1 L634.1,302.2 L631.1,301.8 L628.4,301.4 L625.6,300.8 L622.8,299.7 L620.1,298.5 L617.0,297.9 L613.3,299.0 L609.3,300.8 L605.6,301.7 L602.6,300.6 L599.9,298.6 L597.0,296.5 L593.8,294.3 L590.4,292.0 L587.1,291.4 L583.8,293.9 L580.5,298.0 L577.1,300.8 L573.2,300.5 L569.2,298.9 L565.7,297.9 L563.0,298.7 L560.8,300.1 L558.5,300.8 L556.1,300.2 L553.7,299.0 L551.4,297.9 L549.2,297.3 L547.0,296.8 L545.0,296.5 L543.2,296.5 L541.6,296.7 L540.0,297.1 L538.5,297.9 L537.0,298.8 L535.0,300.4 L531.7,303.1 L527.8,306.3 L525.0,308.6 Z" fill="#6c4499" fill-opacity="0.5" stroke="none"/>
<path d="M520.8,319.0 L522.6,320.3 L525.1,321.9 L527.9,322.7 L530.8,321.9 L533.9,320.2 L536.4,318.6 L537.9,317.7 L538.9,317.2 L540.0,316.9 L541.6,316.7 L543.3,316.8 L545.0,316.9 L546.5,317.0 L548.1,317.2 L550.0,317.8 L552.6,319.3 L555.7,321.1 L558.5,322.0 L561.0,321.0 L563.2,319.1 L565.7,317.8 L568.5,317.7 L571.5,318.4 L574.2,319.2 L576.2,320.5 L577.9,322.1 L579.9,322.6 L582.4,320.8 L585.2,317.9 L588.5,316.9 L592.4,319.9 L596.9,324.8 L601.3,327.7 L605.6,326.8 L610.0,323.9 L614.1,321.5 L618.1,320.5 L621.8,320.0 L625.6,319.8 L629.5,319.7 L633.4,320.0 L637.0,320.6 L639.9,322.1 L642.6,324.0 L645.5,324.3 L649.2,322.3 L653.1,318.9 L656.9,314.9 L660.5,309.4 L663.8,303.3 L666.9,300.7 L669.4,304.2 L671.5,311.2 L674.0,316.9 L677.2,319.7 L680.7,321.3 L684.0,322.0 L686.9,321.4 L689.7,320.0 L692.6,319.8 L695.8,322.2 L699.2,325.8 L702.5,328.3 L705.8,328.2 L709.0,327.0 L712.5,326.3 L716.5,327.8 L720.8,329.9 L725.4,330.0 L730.6,325.7 L736.1,319.3 L741.0,315.8 L744.8,318.0 L747.9,323.1 L751.0,327.2 L754.2,328.9 L757.5,329.6 L761.0,329.2 L765.1,326.5 L769.5,322.7 L773.8,320.6 L778.1,322.7 L782.4,326.5 L786.7,327.7 L790.9,323.8 L795.1,317.2 L799.5,312.1 L804.2,309.6 L809.0,308.4 L813.8,308.4 L818.6,310.5 L823.5,313.9 L828.0,314.9 L832.2,311.0 L836.0,304.7 L839.4,300.5 L842.2,300.9 L844.6,303.6 L846.6,305.7 L848.0,305.7 L849.2,305.1 L850.8,305.4 L853.4,308.0 L856.4,311.5 L859.4,313.4 L862.3,312.1 L865.3,309.1 L867.9,307.1 L869.8,308.1 L871.3,310.0 L873.7,309.6 L877.6,304.2 L882.4,296.5 L886.5,291.7 L889.4,292.5 L891.7,296.2 L893.6,298.9 L895.2,299.0 L896.3,298.2 L897.0,297.5 L897.0,319.9 L896.3,320.5 L895.2,321.2 L893.6,320.8 L891.7,317.9 L889.4,313.9 L886.5,312.6 L882.4,317.0 L877.6,324.0 L873.7,328.9 L871.3,329.0 L869.8,326.8 L867.9,325.7 L865.3,327.3 L862.3,329.8 L859.4,330.8 L856.4,328.5 L853.4,324.6 L850.8,321.7 L849.2,321.1 L848.0,321.6 L846.6,321.4 L844.6,319.0 L842.2,316.0 L839.4,315.2 L836.0,319.1 L832.2,325.4 L828.0,329.3 L823.5,328.3 L818.6,324.9 L813.8,322.8 L809.0,322.8 L804.2,324.0 L799.5,326.5 L795.1,331.6 L790.9,338.2 L786.7,342.1 L782.4,340.9 L778.1,337.1 L773.8,335.0 L769.5,337.1 L765.1,340.9 L761.0,343.6 L757.5,344.0 L754.2,343.3 L751.0,341.6 L747.9,337.5 L744.8,332.4 L741.0,330.2 L736.1,333.7 L730.6,340.1 L725.4,344.4 L720.8,344.3 L716.5,342.2 L712.5,340.7 L709.0,341.4 L705.8,342.6 L702.5,342.7 L699.2,340.2 L695.8,336.6 L692.6,334.2 L689.7,334.4 L686.9,335.8 L684.0,336.4 L680.7,335.7 L677.2,334.1 L674.0,331.3 L671.5,325.6 L669.4,318.6 L666.9,315.1 L663.8,317.7 L660.5,323.8 L656.9,329.3 L653.1,333.3 L649.2,336.7 L645.5,338.7 L642.6,338.4 L639.9,336.5 L637.0,335.0 L633.4,334.4 L629.5,334.1 L625.6,334.2 L621.8,334.4 L618.1,334.9 L614.1,335.9 L610.0,338.3 L605.6,341.2 L601.3,342.1 L596.9,339.2 L592.4,334.3 L588.5,331.3 L585.2,332.3 L582.4,335.2 L579.9,337.0 L577.9,336.5 L576.2,334.9 L574.2,333.6 L571.5,332.8 L568.5,332.1 L565.7,332.2 L563.2,333.5 L561.0,335.4 L558.5,336.4 L555.7,335.5 L552.6,333.7 L550.0,332.2 L548.1,331.6 L546.5,331.4 L545.0,331.3 L543.3,331.2 L541.6,331.1 L540.0,331.3 L538.9,331.6 L537.9,332.1 L536.4,333.0 L533.9,335.3 L530.8,338.3 L527.9,340.3 L525.1,340.6 L522.6,340.0 L520.8,339.4 Z" fill="#6c4499" fill-opacity="0.5" stroke="none"/>
<path d="M382.5,328.6 L384.2,330.9 L386.8,334.2 L389.6,337.7 L392.2,341.2 L395.0,344.8 L398.1,347.8 L401.8,349.8 L405.8,351.3 L409.5,352.1 L412.7,351.5 L415.6,350.1 L418.7,349.8 L422.1,351.7 L425.8,354.6 L429.5,357.3 L433.2,359.4 L436.9,361.2 L440.9,362.1 L445.3,361.7 L450.1,360.4 L455.2,358.4 L460.9,355.3 L466.9,351.6 L472.3,348.7 L476.5,347.5 L480.1,347.2 L483.7,346.4 L487.5,344.3 L491.3,341.8 L495.1,340.7 L498.6,342.0 L502.1,344.8 L506.5,347.8 L512.8,351.5 L520.0,355.4 L526.5,357.8 L531.8,357.3 L536.4,355.2 L540.0,353.5 L542.2,353.2 L543.5,353.2 L545.0,353.5 L546.8,354.1 L548.8,354.9 L551.4,355.5 L554.7,355.6 L558.5,355.4 L562.8,355.5 L567.9,356.4 L573.4,357.5 L578.5,357.8 L582.6,356.3 L586.2,353.9 L589.9,352.7 L594.0,353.9 L598.3,356.3 L602.7,357.8 L607.5,357.6 L612.4,356.5 L617.0,355.5 L621.1,355.0 L624.9,354.6 L628.4,354.4 L631.4,354.5 L634.1,354.8 L637.0,355.5 L640.2,357.2 L643.6,359.3 L646.9,360.1 L650.3,358.7 L653.7,356.0 L656.9,353.5 L659.9,351.3 L662.7,349.2 L665.5,348.7 L668.2,351.1 L671.0,355.2 L674.0,358.4 L677.7,359.8 L681.7,360.4 L685.4,360.7 L688.5,360.7 L691.2,360.4 L694.0,360.7 L696.7,362.3 L699.5,364.4 L702.5,365.8 L706.1,365.5 L710.0,364.5 L714.0,364.1 L717.6,365.3 L721.2,367.2 L725.4,367.8 L730.5,365.8 L736.1,362.7 L741.0,360.7 L744.8,361.1 L747.9,362.6 L751.0,364.1 L754.2,365.3 L757.5,366.5 L761.0,366.4 L765.1,363.9 L769.5,360.2 L773.8,357.8 L778.1,358.7 L782.4,360.9 L786.7,361.2 L791.0,357.7 L795.2,352.2 L799.5,347.8 L803.7,345.6 L807.8,344.5 L812.3,344.1 L817.5,345.2 L823.0,347.1 L828.0,347.8 L832.2,345.9 L836.0,342.8 L839.4,340.6 L842.5,340.2 L845.2,341.0 L848.0,342.3 L850.8,344.4 L853.7,347.0 L856.5,348.5 L859.4,347.9 L862.2,346.3 L865.1,345.1 L867.8,345.7 L870.5,346.8 L873.7,346.3 L877.8,342.4 L882.5,337.0 L886.5,333.1 L889.4,332.6 L891.7,333.8 L893.6,334.7 L895.2,334.5 L896.3,334.2 L897.0,333.9 L897.0,356.3 L896.3,356.5 L895.2,356.7 L893.6,356.6 L891.7,355.5 L889.4,354.0 L886.5,354.1 L882.5,357.4 L877.8,362.2 L873.7,365.5 L870.5,365.6 L867.8,364.2 L865.1,363.3 L862.2,364.0 L859.4,365.3 L856.5,365.5 L853.7,363.6 L850.8,360.6 L848.0,358.1 L845.2,356.5 L842.5,355.4 L839.4,355.3 L836.0,357.2 L832.2,360.3 L828.0,362.2 L823.0,361.5 L817.5,359.6 L812.3,358.5 L807.8,358.9 L803.7,360.0 L799.5,362.2 L795.2,366.6 L791.0,372.1 L786.7,375.6 L782.4,375.3 L778.1,373.1 L773.8,372.2 L769.5,374.6 L765.1,378.3 L761.0,380.8 L757.5,380.9 L754.2,379.7 L751.0,378.5 L747.9,377.0 L744.8,375.5 L741.0,375.1 L736.1,377.1 L730.5,380.2 L725.4,382.2 L721.2,381.6 L717.6,379.7 L714.0,378.5 L710.0,378.9 L706.1,379.9 L702.5,380.2 L699.5,378.8 L696.7,376.7 L694.0,375.1 L691.2,374.8 L688.5,375.1 L685.4,375.1 L681.7,374.8 L677.7,374.2 L674.0,372.8 L671.0,369.6 L668.2,365.5 L665.5,363.1 L662.7,363.6 L659.9,365.7 L656.9,367.9 L653.7,370.4 L650.3,373.1 L646.9,374.5 L643.6,373.7 L640.2,371.6 L637.0,369.9 L634.1,369.2 L631.4,368.9 L628.4,368.8 L624.9,369.0 L621.1,369.4 L617.0,369.9 L612.4,370.9 L607.5,372.0 L602.7,372.2 L598.3,370.7 L594.0,368.3 L589.9,367.1 L586.2,368.3 L582.6,370.7 L578.5,372.2 L573.4,371.9 L567.9,370.8 L562.8,369.9 L558.5,369.8 L554.7,370.0 L551.4,369.9 L548.8,369.3 L546.8,368.5 L545.0,367.9 L543.5,367.6 L542.2,367.6 L540.0,367.9 L536.4,369.6 L531.8,371.7 L526.5,372.2 L520.0,369.8 L512.8,365.9 L506.5,362.2 L502.1,359.2 L498.6,356.4 L495.1,355.1 L491.3,356.2 L487.5,358.7 L483.7,360.8 L480.1,361.6 L476.5,361.9 L472.3,363.1 L466.9,366.0 L460.9,369.7 L455.2,372.8 L450.1,374.8 L445.3,376.1 L440.9,376.5 L436.9,375.6 L433.2,373.8 L429.5,371.7 L425.8,369.0 L422.1,366.1 L418.7,364.2 L415.6,364.5 L412.7,365.9 L409.5,366.5 L405.8,365.7 L401.8,364.2 L398.1,362.2 L395.0,360.2 L392.2,357.7 L389.6,355.3 L386.8,352.9 L384.2,350.6 L382.5,349.0 Z" fill="#6c4499" fill-opacity="0.5" stroke="none"/>
<path d="M712.0,387.3 L713.9,390.0 L716.7,393.8 L719.7,397.4 L722.4,400.6 L725.3,403.5 L728.2,405.4 L731.2,405.9 L734.1,405.6 L736.8,404.6 L738.8,402.0 L740.5,398.7 L742.5,396.9 L745.1,397.9 L748.1,400.4 L751.0,402.6 L753.9,404.1 L756.7,405.4 L759.6,405.4 L762.4,403.5 L765.3,400.3 L768.1,397.4 L771.1,395.1 L774.1,393.0 L776.7,391.7 L778.8,391.5 L780.6,392.0 L782.4,393.2 L784.1,396.0 L785.8,399.5 L788.1,400.9 L791.6,398.2 L795.8,393.4 L799.5,389.5 L802.2,387.7 L804.4,386.8 L806.6,385.5 L809.1,382.7 L811.5,379.6 L813.8,378.1 L815.8,379.8 L817.7,383.2 L819.5,385.5 L821.0,385.2 L822.4,383.9 L823.7,383.2 L824.9,384.7 L826.1,386.8 L828.0,386.6 L831.5,381.3 L835.8,373.6 L839.4,368.8 L841.8,370.6 L843.4,375.6 L845.1,378.4 L847.0,375.7 L848.9,371.0 L850.8,368.6 L852.7,371.2 L854.6,376.2 L856.5,380.5 L858.2,382.9 L859.9,384.6 L862.2,385.8 L865.8,387.0 L870.0,387.7 L873.7,387.0 L876.4,384.2 L878.7,379.9 L880.8,375.1 L882.8,368.9 L884.6,362.2 L886.5,358.5 L888.4,360.6 L890.3,365.8 L892.2,369.5 L894.0,369.8 L895.8,368.7 L897.0,367.8 L897.0,390.8 L895.8,391.5 L894.0,392.4 L892.2,391.9 L890.3,387.9 L888.4,382.5 L886.5,380.1 L884.6,383.5 L882.8,390.0 L880.8,396.0 L878.7,400.5 L876.4,404.5 L873.7,406.9 L870.0,407.1 L865.8,405.8 L862.2,404.1 L859.9,402.6 L858.2,400.7 L856.5,398.1 L854.6,393.5 L852.7,388.3 L850.8,385.4 L848.9,387.5 L847.0,392.1 L845.1,394.4 L843.4,391.4 L841.8,386.2 L839.4,384.1 L835.8,388.6 L831.5,396.3 L828.0,401.6 L826.1,401.8 L824.9,399.7 L823.7,398.2 L822.4,398.9 L821.0,400.2 L819.5,400.5 L817.7,398.2 L815.8,394.8 L813.8,393.1 L811.5,394.6 L809.1,397.7 L806.6,400.5 L804.4,401.8 L802.2,402.7 L799.5,404.5 L795.8,408.4 L791.6,413.2 L788.1,415.9 L785.8,414.5 L784.1,411.0 L782.4,408.2 L780.6,407.0 L778.8,406.5 L776.7,406.7 L774.1,408.0 L771.1,410.1 L768.1,412.4 L765.3,415.3 L762.4,418.5 L759.6,420.4 L756.7,420.4 L753.9,419.1 L751.0,417.6 L748.1,415.4 L745.1,412.9 L742.5,411.9 L740.5,413.7 L738.8,417.0 L736.8,419.6 L734.1,420.6 L731.2,420.9 L728.2,420.4 L725.3,419.2 L722.4,417.4 L719.7,415.3 L716.7,412.9 L713.9,410.2 L712.0,408.3 Z" fill="#6c4499" fill-opacity="0.5" stroke="none"/>
<path d="M349.7,471.3 L352.4,472.7 L356.2,474.6 L359.6,475.6 L362.2,475.1 L364.4,473.8 L366.8,472.0 L369.5,470.0 L372.4,468.0 L375.3,467.2 L378.2,468.7 L381.0,471.4 L383.9,473.8 L386.6,475.0 L389.4,476.0 L392.4,477.2 L396.1,479.3 L400.1,481.6 L403.8,482.9 L406.9,482.1 L409.6,480.3 L412.4,478.6 L415.2,477.4 L418.1,476.4 L421.0,475.8 L423.8,475.9 L426.7,476.4 L429.5,476.6 L432.3,476.4 L435.1,475.9 L438.1,474.9 L441.3,473.0 L444.8,470.5 L448.0,468.1 L450.9,465.4 L453.7,462.7 L456.6,461.5 L459.9,463.1 L463.3,466.1 L466.6,468.1 L469.5,467.8 L472.3,466.5 L475.1,465.2 L478.1,464.4 L481.0,463.7 L483.7,462.9 L485.7,462.0 L487.5,461.0 L489.4,460.1 L491.7,458.8 L494.2,457.5 L496.5,457.2 L498.5,458.8 L500.3,461.4 L502.2,463.5 L504.4,464.3 L506.7,464.6 L509.4,465.2 L512.5,466.9 L515.9,468.9 L519.3,470.1 L522.9,469.6 L526.5,468.3 L529.3,467.2 L530.6,466.7 L531.1,466.4 L532.2,466.3 L534.4,466.8 L537.2,467.6 L540.0,468.1 L542.8,468.0 L545.7,467.6 L548.6,467.2 L551.4,466.7 L554.3,466.1 L557.1,465.8 L560.0,466.0 L562.8,466.4 L565.7,466.3 L568.5,465.3 L571.4,463.9 L574.2,462.9 L577.1,463.4 L579.9,464.4 L582.8,464.3 L585.8,461.7 L588.9,457.9 L591.9,455.8 L594.6,457.0 L597.2,459.9 L599.9,462.9 L602.7,465.9 L605.6,469.0 L608.4,470.9 L611.3,471.0 L614.1,470.0 L617.0,468.6 L619.8,467.0 L622.7,465.1 L625.6,463.5 L628.4,462.1 L631.1,461.1 L634.1,461.5 L637.4,464.6 L640.8,469.1 L644.1,472.0 L647.0,471.9 L649.8,470.2 L652.6,468.6 L655.4,467.3 L658.2,466.1 L661.2,465.8 L664.5,467.0 L668.0,469.1 L671.2,470.9 L673.7,471.9 L675.9,472.6 L678.3,473.8 L681.0,475.9 L683.9,478.4 L686.9,480.0 L690.1,479.9 L693.6,478.7 L696.8,477.8 L699.7,477.5 L702.5,477.5 L705.4,476.6 L708.6,473.8 L712.0,470.3 L715.4,468.6 L718.7,470.7 L721.9,474.6 L725.4,477.2 L729.2,477.2 L733.2,475.9 L736.8,474.3 L739.4,472.7 L741.5,470.8 L743.9,469.2 L747.0,468.3 L750.3,467.8 L753.9,467.2 L757.6,466.6 L761.5,466.0 L765.3,464.3 L768.8,460.2 L772.2,455.2 L775.3,452.9 L777.8,456.0 L780.1,461.9 L782.4,467.2 L785.0,471.2 L787.7,474.6 L790.4,475.8 L793.0,473.3 L795.7,468.5 L798.1,464.3 L800.0,461.5 L801.7,459.2 L803.8,457.8 L806.5,457.6 L809.5,458.4 L812.3,459.5 L814.8,461.2 L817.0,463.2 L819.5,464.3 L822.2,464.0 L825.1,462.8 L828.0,461.5 L831.0,460.5 L833.9,459.4 L836.6,457.8 L838.6,455.4 L840.3,452.4 L842.3,448.9 L844.8,443.8 L847.6,438.1 L850.3,435.0 L852.4,436.3 L854.3,440.1 L856.5,443.9 L859.2,446.8 L862.2,449.7 L865.1,452.5 L867.9,455.5 L870.8,458.5 L873.7,461.1 L876.6,463.1 L879.5,464.7 L882.2,465.6 L884.7,465.3 L887.0,464.3 L889.3,463.7 L892.1,464.3 L895.0,465.3 L897.0,466.1 L897.0,489.7 L895.0,488.6 L892.1,487.2 L889.3,486.3 L887.0,486.5 L884.7,487.3 L882.2,487.2 L879.5,486.0 L876.6,484.0 L873.7,481.5 L870.8,478.6 L867.9,475.2 L865.1,471.8 L862.2,468.6 L859.2,465.4 L856.5,462.1 L854.3,458.0 L852.4,453.9 L850.3,452.3 L847.6,455.1 L844.8,460.4 L842.3,465.2 L840.3,468.4 L838.6,471.2 L836.6,473.4 L833.9,475.0 L831.0,476.1 L828.0,477.1 L825.1,478.4 L822.2,479.6 L819.5,479.9 L817.0,478.8 L814.8,476.8 L812.3,475.1 L809.5,474.0 L806.5,473.2 L803.8,473.4 L801.7,474.8 L800.0,477.1 L798.1,479.9 L795.7,484.1 L793.0,488.9 L790.4,491.4 L787.7,490.2 L785.0,486.8 L782.4,482.8 L780.1,477.5 L777.8,471.6 L775.3,468.5 L772.2,470.8 L768.8,475.8 L765.3,479.9 L761.5,481.6 L757.6,482.2 L753.9,482.8 L750.3,483.4 L747.0,483.9 L743.9,484.8 L741.5,486.4 L739.4,488.3 L736.8,489.9 L733.2,491.5 L729.2,492.8 L725.4,492.8 L721.9,490.2 L718.7,486.3 L715.4,484.2 L712.0,485.9 L708.6,489.4 L705.4,492.2 L702.5,493.1 L699.7,493.1 L696.8,493.4 L693.6,494.3 L690.1,495.5 L686.9,495.6 L683.9,494.0 L681.0,491.5 L678.3,489.4 L675.9,488.2 L673.7,487.5 L671.2,486.5 L668.0,484.7 L664.5,482.6 L661.2,481.4 L658.2,481.7 L655.4,482.9 L652.6,484.2 L649.8,485.8 L647.0,487.5 L644.1,487.6 L640.8,484.7 L637.4,480.2 L634.1,477.1 L631.1,476.7 L628.4,477.7 L625.6,479.1 L622.7,480.7 L619.8,482.6 L617.0,484.2 L614.1,485.6 L611.3,486.6 L608.4,486.5 L605.6,484.6 L602.7,481.5 L599.9,478.5 L597.2,475.5 L594.6,472.6 L591.9,471.4 L588.9,473.5 L585.8,477.3 L582.8,479.9 L579.9,480.0 L577.1,479.0 L574.2,478.5 L571.4,479.5 L568.5,480.9 L565.7,481.9 L562.8,482.0 L560.0,481.6 L557.1,481.4 L554.3,481.7 L551.4,482.3 L548.6,482.8 L545.7,483.2 L542.8,483.6 L540.0,483.7 L537.2,483.2 L534.4,482.4 L532.2,481.9 L531.1,482.0 L530.6,482.3 L529.3,482.8 L526.5,483.9 L522.9,485.2 L519.3,485.7 L515.9,484.5 L512.5,482.5 L509.4,480.8 L506.7,480.2 L504.4,479.9 L502.2,479.1 L500.3,477.0 L498.5,474.4 L496.5,472.8 L494.2,473.1 L491.7,474.4 L489.4,475.7 L487.5,476.6 L485.7,477.6 L483.7,478.5 L481.0,479.3 L478.1,480.0 L475.1,480.8 L472.3,482.1 L469.5,483.4 L466.6,483.7 L463.3,481.7 L459.9,478.7 L456.6,477.1 L453.7,478.3 L450.9,481.0 L448.0,483.7 L444.8,486.1 L441.3,488.6 L438.1,490.5 L435.1,491.5 L432.3,492.0 L429.5,492.2 L426.7,492.0 L423.8,491.5 L421.0,491.4 L418.1,492.0 L415.2,493.0 L412.4,494.2 L409.6,495.9 L406.9,497.7 L403.8,498.5 L400.1,497.2 L396.1,494.9 L392.4,492.8 L389.4,491.6 L386.6,490.6 L383.9,489.4 L381.0,487.0 L378.2,484.3 L375.3,482.8 L372.4,483.6 L369.5,485.6 L366.8,487.6 L364.4,489.5 L362.2,491.7 L359.6,493.2 L356.2,493.6 L352.4,493.2 L349.7,492.9 Z" fill="#d96864" fill-opacity="0.5" stroke="none"/>
<path d="M425.2,510.9 L428.3,512.1 L432.6,513.8 L436.6,514.6 L439.6,514.1 L442.2,512.4 L445.2,509.6 L448.8,504.7 L452.8,498.8 L456.6,495.3 L460.0,496.2 L463.2,499.4 L466.6,501.9 L470.3,502.7 L474.1,502.8 L478.0,502.4 L482.0,501.4 L486.0,499.8 L489.4,498.2 L491.7,496.3 L493.3,494.5 L495.1,493.9 L497.3,495.6 L499.6,498.6 L502.2,501.0 L505.4,502.1 L508.9,502.6 L512.2,503.0 L515.1,503.7 L517.8,504.2 L520.8,503.9 L524.5,501.9 L528.5,499.1 L532.2,497.3 L535.0,497.7 L537.5,499.2 L540.0,500.2 L542.8,500.1 L545.7,499.6 L548.6,499.0 L551.4,498.3 L554.3,497.6 L557.1,497.3 L560.0,497.9 L562.8,498.9 L565.7,499.6 L568.5,499.6 L571.4,499.2 L574.2,499.0 L577.1,499.4 L579.9,499.9 L582.8,499.6 L585.8,497.5 L588.9,494.6 L591.9,493.3 L594.6,495.2 L597.2,498.6 L599.9,501.9 L602.7,504.5 L605.6,506.9 L608.4,508.2 L611.3,507.6 L614.1,505.9 L617.0,503.9 L619.8,501.4 L622.7,498.6 L625.6,496.7 L628.4,496.3 L631.1,496.8 L634.1,498.2 L637.4,501.1 L640.9,505.0 L644.1,507.6 L646.7,507.6 L648.9,506.3 L651.2,505.9 L653.5,507.5 L655.9,510.0 L658.3,511.6 L661.0,511.3 L663.8,510.0 L666.9,508.7 L670.6,507.2 L674.6,505.5 L678.3,505.3 L681.3,507.8 L684.0,511.7 L686.9,514.4 L690.1,514.9 L693.6,514.2 L696.8,513.3 L699.8,512.5 L702.6,511.6 L705.4,510.4 L708.1,508.3 L710.9,506.0 L714.0,505.3 L717.5,507.9 L721.5,512.2 L725.4,515.3 L729.1,515.8 L732.8,515.0 L736.8,513.9 L741.3,512.6 L746.2,511.1 L751.0,509.6 L755.9,508.5 L760.8,507.5 L765.3,505.3 L769.0,500.2 L772.3,493.9 L775.3,491.0 L777.8,494.4 L780.1,501.0 L782.4,506.7 L785.0,510.5 L787.7,513.3 L790.4,513.9 L792.9,510.9 L795.5,505.7 L798.1,501.0 L800.9,497.7 L803.8,494.9 L806.6,493.3 L809.6,493.6 L812.5,495.1 L815.2,496.7 L817.2,498.4 L819.0,500.2 L820.9,501.0 L823.1,500.3 L825.5,498.7 L828.0,497.3 L830.9,497.0 L833.9,496.9 L836.6,496.2 L838.6,494.3 L840.3,491.8 L842.3,488.4 L844.8,482.9 L847.6,476.6 L850.3,473.0 L852.4,474.3 L854.3,478.4 L856.5,482.6 L859.2,486.2 L862.2,489.9 L865.1,493.4 L867.8,496.9 L870.6,500.2 L873.7,502.9 L877.2,504.5 L881.1,505.5 L885.1,506.4 L889.5,507.2 L893.9,508.0 L897.0,508.4 L897.0,532.8 L893.9,531.9 L889.5,530.6 L885.1,529.2 L881.1,527.8 L877.2,526.3 L873.7,524.1 L870.6,521.1 L867.8,517.4 L865.1,513.6 L862.2,509.6 L859.2,505.5 L856.5,501.6 L854.3,497.1 L852.4,492.8 L850.3,491.2 L847.6,494.4 L844.8,500.4 L842.3,505.5 L840.3,508.6 L838.6,510.9 L836.6,512.6 L833.9,513.3 L830.9,513.4 L828.0,513.7 L825.5,515.1 L823.1,516.7 L820.9,517.4 L819.0,516.6 L817.2,514.8 L815.2,513.1 L812.5,511.5 L809.6,510.0 L806.6,509.7 L803.8,511.3 L800.9,514.1 L798.1,517.4 L795.5,522.1 L792.9,527.3 L790.4,530.3 L787.7,529.7 L785.0,526.9 L782.4,523.1 L780.1,517.4 L777.8,510.8 L775.3,507.4 L772.3,510.3 L769.0,516.6 L765.3,521.7 L760.8,523.9 L755.9,524.9 L751.0,526.0 L746.2,527.5 L741.3,529.0 L736.8,530.3 L732.8,531.4 L729.1,532.2 L725.4,531.7 L721.5,528.6 L717.5,524.3 L714.0,521.7 L710.9,522.4 L708.1,524.7 L705.4,526.8 L702.6,528.0 L699.8,528.9 L696.8,529.7 L693.6,530.6 L690.1,531.3 L686.9,530.8 L684.0,528.1 L681.3,524.2 L678.3,521.7 L674.6,521.9 L670.6,523.6 L666.9,525.1 L663.8,526.4 L661.0,527.7 L658.3,528.0 L655.9,526.4 L653.5,523.9 L651.2,522.3 L648.9,522.7 L646.7,524.0 L644.1,524.0 L640.9,521.4 L637.4,517.5 L634.1,514.6 L631.1,513.2 L628.4,512.7 L625.6,513.1 L622.7,515.0 L619.8,517.8 L617.0,520.3 L614.1,522.3 L611.3,524.0 L608.4,524.6 L605.6,523.3 L602.7,520.9 L599.9,518.3 L597.2,515.0 L594.6,511.6 L591.9,509.7 L588.9,511.0 L585.8,513.9 L582.8,516.0 L579.9,516.3 L577.1,515.8 L574.2,515.4 L571.4,515.6 L568.5,516.0 L565.7,516.0 L562.8,515.3 L560.0,514.3 L557.1,513.7 L554.3,514.0 L551.4,514.7 L548.6,515.4 L545.7,516.0 L542.8,516.5 L540.0,516.6 L537.5,515.6 L535.0,514.1 L532.2,513.7 L528.5,515.5 L524.5,518.3 L520.8,520.3 L517.8,520.6 L515.1,520.1 L512.2,519.4 L508.9,519.0 L505.4,518.5 L502.2,517.4 L499.6,515.0 L497.3,512.0 L495.1,510.3 L493.3,510.9 L491.7,512.7 L489.4,514.6 L486.0,516.2 L482.0,517.8 L478.0,518.8 L474.1,519.2 L470.3,519.1 L466.6,518.3 L463.2,515.8 L460.0,512.6 L456.6,511.7 L452.8,515.2 L448.8,521.1 L445.2,526.0 L442.2,528.8 L439.6,530.8 L436.6,532.4 L432.6,533.2 L428.3,533.3 L425.2,533.3 Z" fill="#f08848" fill-opacity="0.5" stroke="none"/>
<path d="M448.0,520.2 L449.9,520.6 L452.6,521.2 L455.2,522.5 L457.1,524.9 L458.9,527.9 L460.9,530.8 L463.0,533.3 L465.4,535.1 L468.0,536.4 L471.2,536.9 L474.7,536.9 L478.0,536.4 L480.9,535.3 L483.7,533.6 L486.5,531.2 L489.4,527.0 L492.3,521.9 L495.1,519.2 L497.4,520.9 L499.5,525.0 L502.2,528.4 L506.2,530.2 L510.9,531.4 L515.1,531.8 L518.3,531.1 L521.0,529.5 L523.6,527.8 L526.1,525.4 L528.4,522.9 L530.7,522.1 L533.3,524.7 L535.9,529.2 L537.9,532.6 L538.7,534.0 L539.0,534.3 L540.0,534.1 L542.4,533.4 L545.5,532.3 L548.6,531.2 L551.3,529.9 L554.0,528.6 L557.1,528.4 L560.8,530.1 L564.8,532.8 L568.5,534.6 L571.7,534.5 L574.5,533.4 L577.1,532.6 L579.1,533.2 L580.7,534.2 L582.8,534.1 L585.6,531.5 L588.8,527.9 L591.9,526.1 L594.6,527.5 L597.2,530.8 L599.9,534.1 L602.7,537.4 L605.6,540.8 L608.4,542.6 L611.3,541.9 L614.1,539.6 L617.0,536.9 L619.8,533.8 L622.7,530.4 L625.6,527.8 L628.4,526.5 L631.1,526.2 L634.1,526.9 L637.4,529.8 L640.9,533.8 L644.1,536.4 L646.6,535.8 L648.8,533.8 L651.2,532.6 L653.9,533.4 L656.8,535.0 L659.8,536.4 L663.0,537.1 L666.5,537.7 L669.8,538.4 L672.7,539.1 L675.5,539.9 L678.3,541.2 L681.1,543.8 L683.9,547.0 L686.9,548.9 L690.1,548.4 L693.5,546.7 L696.8,544.9 L700.3,543.8 L703.7,542.6 L706.8,541.2 L709.4,538.6 L711.6,535.6 L714.0,534.6 L716.7,537.4 L719.6,542.1 L722.5,546.1 L725.3,548.2 L728.0,549.7 L731.1,550.6 L734.7,551.0 L738.6,550.8 L742.5,550.6 L746.3,550.4 L750.1,550.0 L753.9,549.8 L757.7,549.8 L761.6,549.9 L765.3,549.8 L768.8,549.1 L772.2,548.2 L775.3,547.8 L777.9,548.1 L780.1,548.9 L782.4,549.8 L784.7,550.9 L787.0,552.0 L789.5,551.8 L792.3,549.2 L795.3,545.2 L798.1,541.2 L800.6,537.3 L802.9,533.3 L805.2,530.7 L807.6,529.9 L810.0,530.3 L812.3,531.2 L814.5,532.7 L816.5,534.6 L818.9,535.5 L821.8,534.5 L824.9,532.5 L828.0,531.2 L831.0,531.7 L833.9,532.8 L836.6,532.6 L839.1,530.1 L841.4,526.3 L843.7,522.2 L845.9,517.3 L848.0,512.3 L850.3,509.8 L852.8,512.0 L855.4,516.9 L858.0,521.3 L860.3,523.7 L862.6,525.7 L865.1,527.9 L867.8,531.0 L870.7,534.4 L873.7,537.3 L876.6,539.6 L879.5,541.4 L882.2,542.5 L884.7,542.3 L887.0,541.3 L889.3,540.6 L892.1,540.5 L895.0,540.7 L897.0,540.9 L897.0,567.9 L895.0,567.5 L892.1,566.9 L889.3,566.5 L887.0,567.0 L884.7,567.6 L882.2,567.5 L879.5,566.1 L876.6,563.9 L873.7,561.2 L870.7,557.9 L867.8,554.1 L865.1,550.7 L862.6,548.1 L860.3,545.9 L858.0,543.1 L855.4,538.4 L852.8,533.1 L850.3,530.6 L848.0,532.7 L845.9,537.5 L843.7,542.1 L841.4,545.9 L839.1,549.4 L836.6,551.6 L833.9,551.8 L831.0,550.7 L828.0,550.2 L824.9,551.5 L821.8,553.5 L818.9,554.5 L816.5,553.6 L814.5,551.7 L812.3,550.2 L810.0,549.3 L807.6,548.9 L805.2,549.7 L802.9,552.3 L800.6,556.3 L798.1,560.2 L795.3,564.2 L792.3,568.2 L789.5,570.8 L787.0,571.0 L784.7,569.9 L782.4,568.8 L780.1,567.9 L777.9,567.1 L775.3,566.8 L772.2,567.2 L768.8,568.1 L765.3,568.8 L761.6,568.9 L757.7,568.8 L753.9,568.8 L750.1,569.0 L746.3,569.4 L742.5,569.6 L738.6,569.8 L734.7,570.0 L731.1,569.6 L728.0,568.7 L725.3,567.2 L722.5,565.1 L719.6,561.1 L716.7,556.4 L714.0,553.6 L711.6,554.6 L709.4,557.6 L706.8,560.2 L703.7,561.6 L700.3,562.8 L696.8,563.9 L693.5,565.7 L690.1,567.4 L686.9,567.9 L683.9,566.0 L681.1,562.8 L678.3,560.2 L675.5,558.9 L672.7,558.1 L669.8,557.4 L666.5,556.7 L663.0,556.1 L659.8,555.4 L656.8,554.0 L653.9,552.4 L651.2,551.6 L648.8,552.8 L646.6,554.8 L644.1,555.4 L640.9,552.8 L637.4,548.8 L634.1,545.9 L631.1,545.2 L628.4,545.5 L625.6,546.8 L622.7,549.4 L619.8,552.8 L617.0,555.9 L614.1,558.6 L611.3,560.9 L608.4,561.6 L605.6,559.8 L602.7,556.4 L599.9,553.1 L597.2,549.8 L594.6,546.5 L591.9,545.1 L588.8,546.9 L585.6,550.5 L582.8,553.1 L580.7,553.2 L579.1,552.2 L577.1,551.6 L574.5,552.4 L571.7,553.5 L568.5,553.6 L564.8,551.8 L560.8,549.1 L557.1,547.4 L554.0,547.6 L551.3,548.9 L548.6,550.2 L545.5,551.3 L542.4,552.4 L540.0,553.1 L539.0,553.3 L538.7,553.0 L537.9,551.6 L535.9,548.2 L533.3,543.7 L530.7,541.1 L528.4,541.9 L526.1,544.4 L523.6,546.8 L521.0,548.5 L518.3,550.1 L515.1,550.8 L510.9,550.4 L506.2,549.2 L502.2,547.4 L499.5,544.0 L497.4,539.9 L495.1,538.2 L492.3,540.9 L489.4,546.0 L486.5,550.2 L483.7,552.6 L480.9,554.3 L478.0,555.4 L474.7,555.9 L471.2,555.9 L468.0,555.4 L465.4,554.1 L463.0,552.3 L460.9,550.7 L458.9,548.6 L457.1,546.3 L455.2,544.7 L452.6,544.4 L449.9,544.8 L448.0,545.2 Z" fill="#f89a40" fill-opacity="0.5" stroke="none"/>
<path d="M209.9,548.6 L211.7,548.2 L214.3,547.5 L217.1,546.3 L219.9,544.3 L222.9,542.0 L225.6,540.2 L227.8,539.8 L229.6,540.3 L231.3,540.2 L232.9,538.6 L234.4,536.4 L236.2,535.6 L238.3,537.5 L240.5,540.8 L242.7,543.6 L244.6,545.3 L246.4,546.5 L248.4,547.1 L250.7,546.5 L253.2,545.2 L255.6,544.2 L257.5,544.1 L259.3,544.4 L261.3,544.5 L263.6,544.7 L266.1,544.7 L268.4,543.6 L270.2,540.8 L271.7,536.7 L273.2,532.2 L274.8,526.4 L276.3,520.1 L277.8,516.5 L279.3,517.2 L280.8,520.6 L282.6,525.1 L284.9,531.0 L287.4,537.9 L289.8,543.6 L291.7,547.0 L293.4,549.0 L295.5,550.8 L298.1,552.6 L301.1,554.2 L304.0,555.0 L306.8,555.0 L309.5,554.1 L312.6,552.3 L316.3,548.9 L320.3,544.5 L324.0,541.9 L327.2,542.2 L330.0,544.2 L332.5,546.2 L334.5,547.5 L336.1,548.9 L338.3,550.0 L341.3,551.1 L344.7,552.0 L348.2,552.2 L351.6,551.7 L355.0,550.5 L358.2,549.3 L361.3,547.9 L364.2,546.4 L366.2,545.3 L366.2,570.3 L364.2,571.1 L361.3,572.2 L358.2,573.2 L355.0,574.0 L351.6,574.7 L348.2,574.8 L344.7,574.1 L341.3,572.8 L338.3,571.3 L336.1,569.9 L334.5,568.3 L332.5,566.7 L330.0,564.4 L327.2,562.0 L324.0,561.2 L320.3,563.4 L316.3,567.2 L312.6,570.2 L309.5,571.5 L306.8,572.1 L304.0,572.0 L301.1,571.2 L298.1,569.6 L295.5,567.8 L293.4,566.0 L291.7,564.0 L289.8,560.6 L287.4,554.9 L284.9,548.0 L282.6,542.1 L280.8,537.6 L279.3,534.2 L277.8,533.5 L276.3,537.1 L274.8,543.4 L273.2,549.2 L271.7,553.7 L270.2,557.8 L268.4,560.6 L266.1,561.7 L263.6,561.7 L261.3,561.5 L259.3,561.4 L257.5,561.1 L255.6,561.2 L253.2,562.2 L250.7,563.5 L248.4,564.1 L246.4,563.5 L244.6,562.3 L242.7,560.6 L240.5,557.8 L238.3,554.5 L236.2,552.6 L234.4,553.4 L232.9,555.6 L231.3,557.2 L229.6,557.3 L227.8,556.8 L225.6,557.2 L222.9,559.8 L219.9,563.4 L217.1,566.5 L214.3,568.7 L211.7,570.4 L209.9,571.6 Z" fill="#f89a40" fill-opacity="0.5" stroke="none"/>
<path d="M769.6,556.3 L771.5,555.5 L774.3,554.5 L776.7,554.9 L778.3,557.2 L779.6,560.9 L781.0,565.7 L782.3,572.3 L783.7,579.9 L785.2,586.4 L787.0,591.6 L788.9,595.8 L791.0,597.2 L793.2,594.7 L795.7,589.5 L798.1,583.6 L800.5,576.4 L802.8,568.6 L805.2,563.6 L807.6,563.6 L810.1,566.4 L812.3,569.3 L814.3,571.5 L816.2,573.6 L818.0,575.0 L820.0,574.7 L821.9,573.5 L823.7,573.6 L825.3,576.4 L826.6,580.5 L828.0,583.0 L829.4,581.9 L830.8,579.3 L832.3,577.9 L834.1,579.8 L836.0,583.0 L838.0,583.5 L839.9,579.0 L841.7,571.8 L843.7,564.6 L846.0,557.3 L848.5,549.9 L850.8,545.6 L852.8,546.0 L854.7,549.4 L856.5,553.2 L858.3,556.7 L860.1,560.6 L862.2,564.8 L864.9,569.6 L867.9,574.6 L870.8,578.5 L873.3,580.2 L875.7,580.8 L877.9,581.4 L879.9,583.0 L881.8,584.6 L883.6,584.7 L885.5,581.7 L887.3,577.2 L889.3,574.4 L892.0,575.0 L895.0,577.2 L897.0,579.0 L897.0,604.0 L895.0,602.0 L892.0,599.3 L889.3,598.3 L887.3,600.9 L885.5,605.2 L883.6,607.9 L881.8,607.6 L879.9,605.7 L877.9,603.9 L875.7,602.9 L873.3,602.1 L870.8,600.0 L867.9,595.7 L864.9,590.3 L862.2,585.1 L860.1,580.7 L858.3,576.5 L856.5,572.8 L854.7,568.7 L852.8,565.1 L850.8,564.4 L848.5,568.5 L846.0,575.5 L843.7,582.5 L841.7,589.4 L839.9,596.4 L838.0,600.6 L836.0,600.0 L834.1,596.8 L832.3,594.9 L830.8,596.3 L829.4,598.9 L828.0,600.0 L826.6,597.5 L825.3,593.4 L823.7,590.6 L821.9,590.5 L820.0,591.7 L818.0,592.0 L816.2,590.6 L814.3,588.5 L812.3,586.3 L810.1,583.4 L807.6,580.6 L805.2,580.6 L802.8,585.6 L800.5,593.4 L798.1,600.6 L795.7,606.5 L793.2,611.7 L791.0,614.2 L788.9,612.8 L787.0,608.6 L785.2,603.4 L783.7,597.2 L782.3,590.1 L781.0,584.2 L779.6,579.9 L778.3,576.7 L776.7,575.0 L774.3,575.6 L771.5,577.7 L769.6,579.3 Z" fill="#f7c040" fill-opacity="0.5" stroke="none"/>
<path d="M764.6,598.2 L765.7,599.9 L767.2,602.2 L768.7,604.8 L769.8,607.8 L770.9,611.1 L771.9,612.8 L773.0,611.4 L774.1,608.5 L775.2,606.9 L776.3,608.0 L777.4,610.5 L778.5,613.3 L779.6,616.0 L780.7,618.8 L781.7,621.7 L782.8,624.6 L783.9,627.5 L785.0,629.8 L786.4,631.3 L787.8,632.1 L789.1,632.3 L790.2,632.1 L791.3,631.3 L792.4,629.0 L793.7,624.1 L795.1,617.5 L796.5,611.8 L797.6,607.9 L798.6,604.9 L799.7,602.0 L800.9,599.0 L802.0,596.1 L803.3,594.7 L804.8,595.3 L806.3,597.4 L807.9,599.6 L809.5,601.7 L811.2,603.9 L812.8,606.1 L814.2,608.1 L815.5,609.9 L816.9,611.8 L818.5,614.1 L820.1,616.4 L821.8,618.4 L823.5,620.0 L825.1,621.3 L826.7,621.7 L828.1,620.4 L829.5,618.1 L830.8,616.8 L832.2,617.1 L833.5,618.2 L834.9,619.2 L836.2,620.4 L837.6,621.4 L839.0,620.7 L840.3,617.2 L841.7,612.0 L843.1,606.5 L844.5,600.9 L845.9,595.1 L847.1,589.9 L848.2,585.1 L849.1,581.0 L850.1,579.0 L851.3,580.4 L852.5,584.0 L853.7,587.8 L854.8,591.4 L855.9,595.2 L857.0,598.2 L857.8,600.4 L858.6,601.8 L859.4,602.1 L860.4,599.9 L861.5,596.5 L862.7,595.7 L864.0,600.2 L865.4,607.3 L866.8,613.1 L868.1,616.0 L869.4,617.6 L870.9,618.5 L872.4,618.6 L874.1,617.9 L875.8,617.4 L877.4,617.8 L879.1,618.4 L880.7,617.9 L882.1,615.6 L883.4,612.2 L884.8,608.6 L886.1,604.4 L887.5,599.9 L888.8,597.7 L890.0,599.5 L891.0,603.4 L892.1,606.5 L893.6,607.5 L895.1,607.8 L896.2,607.8 L896.2,631.8 L895.1,631.6 L893.6,631.2 L892.1,629.9 L891.0,626.7 L890.0,622.6 L888.8,620.7 L887.5,622.8 L886.1,627.0 L884.8,631.1 L883.4,634.5 L882.1,637.7 L880.7,639.8 L879.1,640.1 L877.4,639.3 L875.8,638.7 L874.1,638.9 L872.4,639.4 L870.9,639.2 L869.4,638.1 L868.1,636.3 L866.8,633.2 L865.4,627.2 L864.0,619.9 L862.7,615.2 L861.5,615.8 L860.4,619.1 L859.4,621.2 L858.6,620.8 L857.8,619.3 L857.0,617.0 L855.9,613.8 L854.8,609.9 L853.7,606.1 L852.5,602.2 L851.3,598.5 L850.1,596.9 L849.1,598.7 L848.2,602.7 L847.1,607.3 L845.9,612.4 L844.5,618.0 L843.1,623.4 L841.7,628.7 L840.3,633.7 L839.0,637.0 L837.6,637.6 L836.2,636.4 L834.9,635.2 L833.5,634.2 L832.2,633.1 L830.8,632.8 L829.5,634.1 L828.1,636.4 L826.7,637.7 L825.1,637.3 L823.5,636.0 L821.8,634.4 L820.1,632.4 L818.5,630.1 L816.9,627.8 L815.5,625.9 L814.2,624.1 L812.8,622.1 L811.2,619.9 L809.5,617.7 L807.9,615.6 L806.3,613.4 L804.8,611.3 L803.3,610.7 L802.0,612.1 L800.9,615.0 L799.7,618.0 L798.6,620.9 L797.6,623.9 L796.5,627.8 L795.1,633.5 L793.7,640.1 L792.4,645.0 L791.3,647.3 L790.2,648.1 L789.1,648.3 L787.8,648.1 L786.4,647.3 L785.0,645.8 L783.9,643.5 L782.8,640.6 L781.7,637.7 L780.7,634.8 L779.6,632.0 L778.5,629.7 L777.4,627.4 L776.3,625.3 L775.2,624.6 L774.1,626.6 L773.0,630.0 L771.9,631.8 L770.9,630.6 L769.8,627.7 L768.7,625.1 L767.2,623.2 L765.7,621.4 L764.6,620.2 Z" fill="#e06c62" fill-opacity="0.5" stroke="none"/>
<path d="M722.9,659.2 L724.4,658.7 L726.6,658.0 L728.6,657.1 L730.3,656.0 L731.9,654.9 L733.5,654.0 L735.2,653.3 L736.8,653.0 L738.4,653.2 L740.1,654.8 L741.8,657.0 L743.3,658.1 L744.8,657.0 L746.1,654.8 L747.4,652.4 L748.7,649.8 L750.1,647.1 L751.5,645.9 L753.1,647.4 L754.7,650.3 L756.4,652.4 L758.0,652.5 L759.6,651.6 L761.3,650.8 L763.2,650.2 L765.2,649.6 L767.0,649.1 L768.8,649.4 L770.5,649.8 L771.9,649.1 L773.0,646.0 L773.9,641.7 L774.9,639.3 L776.0,640.3 L777.3,643.2 L778.5,646.7 L779.6,650.7 L780.6,655.3 L781.7,658.9 L783.0,660.8 L784.3,661.6 L785.8,662.2 L787.7,663.2 L789.8,663.9 L791.6,663.9 L792.8,662.9 L793.8,661.1 L794.8,658.1 L795.8,653.2 L796.8,647.1 L798.1,641.8 L799.9,637.7 L801.9,634.4 L803.8,632.8 L805.3,633.5 L806.5,635.9 L807.9,638.5 L809.5,641.3 L811.2,644.4 L812.8,646.7 L814.2,647.7 L815.5,647.9 L816.9,648.3 L818.5,649.3 L820.1,650.4 L821.8,651.6 L823.5,652.9 L825.1,654.2 L826.7,654.9 L828.1,654.3 L829.4,653.2 L830.8,652.4 L832.4,652.9 L834.0,653.8 L835.7,653.2 L837.4,650.1 L839.0,645.6 L840.6,640.7 L842.0,635.6 L843.3,630.1 L844.7,624.9 L846.3,619.2 L848.0,613.6 L849.6,610.6 L851.1,611.9 L852.4,615.7 L853.7,619.4 L854.9,622.3 L856.0,625.1 L857.0,627.3 L857.8,628.8 L858.6,629.7 L859.4,629.6 L860.4,627.1 L861.5,623.7 L862.7,622.8 L864.0,626.8 L865.4,633.4 L866.8,639.7 L868.1,645.4 L869.4,650.7 L870.9,654.2 L872.4,654.5 L874.1,653.0 L875.8,651.4 L877.4,650.6 L879.1,649.7 L880.7,648.6 L882.1,647.2 L883.4,645.6 L884.8,643.4 L886.1,639.9 L887.5,636.0 L888.8,634.2 L890.0,636.5 L891.0,640.9 L892.1,644.6 L893.6,646.3 L895.1,647.1 L896.2,647.6 L896.2,670.6 L895.1,669.9 L893.6,668.9 L892.1,667.0 L891.0,663.2 L890.0,658.6 L888.8,656.2 L887.5,657.8 L886.1,661.6 L884.8,664.9 L883.4,666.9 L882.1,668.3 L880.7,669.6 L879.1,670.4 L877.4,671.1 L875.8,671.7 L874.1,673.0 L872.4,674.4 L870.9,673.8 L869.4,670.2 L868.1,664.6 L866.8,658.8 L865.4,652.3 L864.0,645.5 L862.7,641.4 L861.5,642.1 L860.4,645.4 L859.4,647.7 L858.6,647.7 L857.8,646.7 L857.0,645.1 L856.0,642.7 L854.9,639.8 L853.7,636.7 L852.4,632.8 L851.1,628.9 L849.6,627.4 L848.0,630.2 L846.3,635.5 L844.7,641.0 L843.3,646.1 L842.0,651.4 L840.6,656.3 L839.0,661.0 L837.4,665.3 L835.7,668.2 L834.0,668.8 L832.4,667.9 L830.8,667.4 L829.4,668.2 L828.1,669.3 L826.7,669.9 L825.1,669.2 L823.5,667.9 L821.8,666.6 L820.1,665.4 L818.5,664.3 L816.9,663.3 L815.5,662.9 L814.2,662.7 L812.8,661.7 L811.2,659.4 L809.5,656.3 L807.9,653.5 L806.5,650.9 L805.3,648.5 L803.8,647.8 L801.9,649.4 L799.9,652.7 L798.1,656.8 L796.8,662.1 L795.8,668.2 L794.8,673.1 L793.8,676.1 L792.8,677.9 L791.6,678.9 L789.8,678.9 L787.7,678.2 L785.8,677.2 L784.3,676.6 L783.0,675.8 L781.7,673.9 L780.6,670.3 L779.6,665.7 L778.5,661.7 L777.3,658.2 L776.0,655.3 L774.9,654.3 L773.9,656.7 L773.0,661.0 L771.9,664.1 L770.5,664.8 L768.8,664.4 L767.0,664.1 L765.2,664.6 L763.2,665.2 L761.3,665.8 L759.6,666.6 L758.0,667.5 L756.4,667.4 L754.7,665.3 L753.1,662.4 L751.5,660.9 L750.1,662.1 L748.7,664.8 L747.4,667.4 L746.1,669.8 L744.8,672.0 L743.3,673.1 L741.8,672.0 L740.1,669.8 L738.4,668.2 L736.8,668.4 L735.2,669.4 L733.5,670.7 L731.9,672.3 L730.3,674.1 L728.6,675.8 L726.6,677.5 L724.4,679.1 L722.9,680.2 Z" fill="#dc6a64" fill-opacity="0.5" stroke="none"/>
<path d="M299.5,688.9 L301.4,689.0 L304.1,689.1 L306.8,689.6 L309.2,690.9 L311.7,692.6 L314.1,693.5 L316.2,692.8 L318.3,691.3 L320.2,690.5 L321.9,690.9 L323.5,691.9 L325.0,692.4 L326.3,691.6 L327.4,690.3 L328.7,689.5 L330.1,689.9 L331.7,690.7 L333.5,690.5 L335.7,687.5 L338.0,683.4 L340.3,681.5 L342.6,683.6 L344.8,687.8 L346.9,691.2 L348.9,692.3 L350.9,692.6 L353.0,692.9 L355.3,694.3 L357.8,695.7 L360.3,695.3 L362.8,691.5 L365.4,685.8 L367.6,681.5 L369.3,679.9 L370.7,679.6 L372.0,679.0 L373.3,677.0 L374.6,674.7 L376.1,674.2 L378.1,677.2 L380.2,681.9 L382.2,685.1 L383.8,684.5 L385.1,682.2 L386.6,681.5 L388.3,683.8 L390.1,687.6 L391.9,691.2 L393.8,694.2 L395.8,696.9 L398.0,698.5 L400.7,698.6 L403.7,697.6 L406.5,696.1 L409.1,694.1 L411.5,691.6 L413.8,688.8 L415.9,684.8 L417.9,680.4 L419.9,678.3 L422.2,680.3 L424.7,684.6 L427.2,688.0 L430.1,689.3 L433.0,689.6 L435.7,689.5 L437.9,688.7 L439.8,687.4 L441.8,686.3 L444.2,686.2 L446.7,686.4 L449.1,685.6 L451.3,682.4 L453.3,678.2 L455.2,675.9 L456.9,676.9 L458.4,679.8 L460.1,682.7 L462.0,685.2 L464.1,687.6 L466.2,688.8 L468.2,687.8 L470.3,685.6 L472.2,683.9 L473.9,683.8 L475.4,684.2 L477.1,683.9 L479.5,682.0 L482.1,679.4 L484.4,677.8 L486.2,678.3 L487.7,679.8 L489.3,680.7 L490.9,680.2 L492.4,679.2 L494.1,679.0 L496.0,680.9 L498.1,683.7 L500.2,685.1 L502.6,683.5 L505.0,680.5 L507.5,679.0 L509.9,680.6 L512.3,683.8 L514.8,686.3 L517.5,687.5 L520.4,688.2 L523.3,688.8 L526.7,689.2 L530.2,689.6 L533.1,690.0 L535.0,690.8 L536.4,691.6 L537.9,691.2 L539.9,688.5 L542.0,684.6 L544.0,681.5 L546.0,680.3 L547.9,679.9 L550.1,679.0 L552.8,676.2 L555.7,672.8 L558.6,671.7 L561.5,675.0 L564.3,680.5 L567.1,685.1 L570.2,687.4 L573.2,688.8 L575.7,690.0 L577.2,691.5 L578.1,692.7 L579.3,692.4 L581.2,689.8 L583.3,685.7 L585.4,681.5 L587.3,676.5 L589.1,671.5 L590.7,669.3 L592.2,672.3 L593.5,678.3 L594.9,683.4 L596.5,686.4 L598.1,688.6 L599.9,690.3 L601.9,692.0 L604.0,693.2 L606.1,693.8 L608.1,693.6 L610.1,692.8 L612.2,692.1 L614.5,692.2 L617.0,692.4 L619.7,691.3 L622.9,687.7 L626.4,682.9 L629.5,679.7 L631.8,679.4 L633.7,680.8 L635.7,682.9 L638.1,686.6 L640.7,691.0 L643.1,693.3 L645.2,691.6 L647.2,687.7 L649.3,684.7 L651.7,683.5 L654.2,683.1 L656.7,682.9 L659.1,683.1 L661.5,683.5 L664.1,683.9 L667.3,684.0 L670.6,684.0 L674.0,684.7 L677.3,686.6 L680.6,689.1 L683.9,690.8 L687.2,691.1 L690.5,690.5 L693.8,689.6 L697.2,688.6 L700.6,687.4 L703.7,685.9 L706.3,683.4 L708.7,680.6 L711.1,679.7 L713.6,682.5 L716.0,687.1 L718.5,690.8 L721.0,692.6 L723.5,693.3 L725.9,693.3 L728.4,692.3 L730.8,690.5 L733.3,688.9 L736.2,687.6 L739.3,686.6 L742.0,685.9 L744.3,686.1 L746.3,686.6 L748.2,686.4 L749.7,684.5 L751.1,681.7 L753.1,679.7 L756.0,679.3 L759.4,679.7 L763.0,679.7 L766.8,678.5 L770.7,676.9 L774.1,677.3 L776.5,681.2 L778.3,686.9 L780.3,691.3 L782.6,693.6 L785.0,694.5 L787.7,693.3 L791.0,688.8 L794.5,682.2 L797.6,676.5 L799.9,672.3 L801.9,668.9 L803.8,667.4 L805.9,668.9 L808.0,672.3 L810.0,674.8 L811.6,674.6 L813.1,673.5 L814.9,673.5 L817.2,676.3 L819.8,680.3 L822.3,683.4 L824.9,684.9 L827.4,685.6 L829.7,685.9 L831.6,685.8 L833.1,685.2 L834.7,684.7 L836.3,684.8 L838.0,684.9 L839.6,683.2 L841.2,678.5 L842.9,672.0 L844.6,665.6 L846.3,659.0 L848.2,652.4 L850.0,648.4 L851.9,648.8 L853.7,651.7 L855.7,654.5 L857.8,655.7 L859.9,656.7 L861.9,659.0 L863.6,663.7 L865.2,669.6 L866.8,675.2 L868.4,680.4 L869.9,685.1 L871.7,688.0 L873.9,687.9 L876.4,685.8 L879.2,683.5 L882.4,681.1 L885.8,678.5 L889.0,677.0 L892.0,677.6 L894.6,679.3 L896.5,680.7 L896.5,702.3 L894.6,700.7 L892.0,698.6 L889.0,697.6 L885.8,698.7 L882.4,700.8 L879.2,702.8 L876.4,704.8 L873.9,706.5 L871.7,706.3 L869.9,703.2 L868.4,698.2 L866.8,692.9 L865.2,687.1 L863.6,680.9 L861.9,676.0 L859.9,673.4 L857.8,672.1 L855.7,670.6 L853.7,667.6 L851.9,664.4 L850.0,663.8 L848.2,667.6 L846.3,673.9 L844.6,680.3 L842.9,686.5 L841.2,692.8 L839.6,697.2 L838.0,698.7 L836.3,698.4 L834.7,698.3 L833.1,698.8 L831.6,699.4 L829.7,699.5 L827.4,699.2 L824.9,698.5 L822.3,697.0 L819.8,693.9 L817.2,689.9 L814.9,687.1 L813.1,687.1 L811.6,688.2 L810.0,688.4 L808.0,685.9 L805.9,682.5 L803.8,681.0 L801.9,682.5 L799.9,685.9 L797.6,690.1 L794.5,695.8 L791.0,702.4 L787.7,706.9 L785.0,708.1 L782.6,707.2 L780.3,704.9 L778.3,700.5 L776.5,694.8 L774.1,690.9 L770.7,690.5 L766.8,692.1 L763.0,693.3 L759.4,693.3 L756.0,692.9 L753.1,693.3 L751.1,695.3 L749.7,698.1 L748.2,700.0 L746.3,700.2 L744.3,699.7 L742.0,699.5 L739.3,700.2 L736.2,701.2 L733.3,702.5 L730.8,704.1 L728.4,705.9 L725.9,706.9 L723.5,706.9 L721.0,706.2 L718.5,704.4 L716.0,700.7 L713.6,696.1 L711.1,693.3 L708.7,694.2 L706.3,697.0 L703.7,699.5 L700.6,701.0 L697.2,702.2 L693.8,703.2 L690.5,704.1 L687.2,704.7 L683.9,704.4 L680.6,702.7 L677.3,700.2 L674.0,698.3 L670.6,697.6 L667.3,697.6 L664.1,697.5 L661.5,697.1 L659.1,696.7 L656.7,696.5 L654.2,696.7 L651.7,697.1 L649.3,698.3 L647.2,701.3 L645.2,705.2 L643.1,706.9 L640.7,704.6 L638.1,700.2 L635.7,696.5 L633.7,694.4 L631.8,693.0 L629.5,693.3 L626.4,696.5 L622.9,701.3 L619.7,704.9 L617.0,706.0 L614.5,705.8 L612.2,705.7 L610.1,706.4 L608.1,707.2 L606.1,707.4 L604.0,706.8 L601.9,705.6 L599.9,703.9 L598.1,702.2 L596.5,700.0 L594.9,697.0 L593.5,691.9 L592.2,685.9 L590.7,682.9 L589.1,685.1 L587.3,690.1 L585.4,695.1 L583.3,699.3 L581.2,703.4 L579.3,706.0 L578.1,706.3 L577.2,705.1 L575.7,703.6 L573.2,702.4 L570.2,701.0 L567.1,698.7 L564.3,694.1 L561.5,688.6 L558.6,685.3 L555.7,686.4 L552.8,689.8 L550.1,692.6 L547.9,693.5 L546.0,693.9 L544.0,695.1 L542.0,698.2 L539.9,702.1 L537.9,704.8 L536.4,705.2 L535.0,704.4 L533.1,703.6 L530.2,703.2 L526.7,702.8 L523.3,702.4 L520.4,701.8 L517.5,701.1 L514.8,699.9 L512.3,697.4 L509.9,694.2 L507.5,692.6 L505.0,694.1 L502.6,697.1 L500.2,698.7 L498.1,697.3 L496.0,694.5 L494.1,692.6 L492.4,692.8 L490.9,693.8 L489.3,694.3 L487.7,693.4 L486.2,691.9 L484.4,691.4 L482.1,693.0 L479.5,695.6 L477.1,697.5 L475.4,697.8 L473.9,697.4 L472.2,697.5 L470.3,699.2 L468.2,701.4 L466.2,702.4 L464.1,701.2 L462.0,698.8 L460.1,696.3 L458.4,693.4 L456.9,690.5 L455.2,689.5 L453.3,691.8 L451.3,696.0 L449.1,699.2 L446.7,700.0 L444.2,699.8 L441.8,699.9 L439.8,701.0 L437.9,702.3 L435.7,703.1 L433.0,703.2 L430.1,702.9 L427.2,701.6 L424.7,698.2 L422.2,693.9 L419.9,691.9 L417.9,694.0 L415.9,698.4 L413.8,702.4 L411.5,705.2 L409.1,707.7 L406.5,709.7 L403.7,711.2 L400.7,712.2 L398.0,712.1 L395.8,710.5 L393.8,707.8 L391.9,704.8 L390.1,701.2 L388.3,697.4 L386.6,695.1 L385.1,695.8 L383.8,698.1 L382.2,698.7 L380.2,695.5 L378.1,690.8 L376.1,687.8 L374.6,688.3 L373.3,690.6 L372.0,692.6 L370.7,693.2 L369.3,693.5 L367.6,695.1 L365.4,699.4 L362.8,705.1 L360.3,708.9 L357.8,709.3 L355.3,707.9 L353.0,706.5 L350.9,706.2 L348.9,705.9 L346.9,704.8 L344.8,701.4 L342.6,697.2 L340.3,695.1 L338.0,697.0 L335.7,701.1 L333.5,704.1 L331.7,704.3 L330.1,703.5 L328.7,703.1 L327.4,703.9 L326.3,705.2 L325.0,706.0 L323.5,705.5 L321.9,704.5 L320.2,704.1 L318.3,704.9 L316.2,706.4 L314.1,707.3 L311.7,707.3 L309.2,706.6 L306.8,706.3 L304.1,706.9 L301.4,707.8 L299.5,708.5 Z" fill="#c8607a" fill-opacity="0.5" stroke="none"/>
<path d="M599.4,706.4 L600.6,709.2 L602.5,713.2 L604.8,716.7 L607.8,719.0 L611.3,721.0 L614.7,722.8 L617.8,724.5 L620.7,726.1 L623.4,726.7 L625.6,725.4 L627.6,723.0 L629.5,721.0 L631.6,720.0 L633.6,719.4 L635.7,719.8 L638.2,721.6 L640.8,724.4 L643.1,726.7 L644.9,728.4 L646.4,729.8 L648.1,730.2 L650.0,729.5 L652.1,728.0 L654.3,725.2 L656.5,720.2 L659.0,713.9 L661.7,709.9 L664.8,709.7 L668.3,711.7 L671.6,714.4 L674.4,717.4 L677.2,721.2 L680.2,724.7 L683.8,727.9 L687.6,730.9 L691.3,733.4 L694.8,735.6 L698.2,737.2 L701.2,737.1 L703.8,734.2 L706.2,729.4 L708.6,724.7 L711.5,719.9 L714.4,715.2 L717.3,712.9 L719.8,714.9 L722.2,719.4 L724.7,722.8 L727.4,723.4 L730.3,722.9 L733.3,722.8 L736.5,723.6 L739.9,724.8 L743.2,726.0 L746.5,727.2 L749.8,728.3 L753.1,728.5 L756.4,727.8 L759.6,726.3 L763.0,722.8 L766.8,714.7 L770.6,704.6 L774.1,699.5 L776.8,703.8 L779.1,713.1 L781.5,721.0 L784.4,726.1 L787.4,729.8 L790.2,730.9 L792.8,728.0 L795.2,722.5 L797.6,717.3 L800.0,713.2 L802.5,709.5 L805.0,707.4 L807.9,708.2 L810.9,710.7 L813.7,712.9 L815.9,714.0 L817.8,714.9 L819.8,716.1 L822.3,718.3 L824.8,720.8 L827.3,722.3 L829.3,721.9 L831.2,720.4 L833.4,718.6 L836.2,717.3 L839.2,715.6 L842.1,712.0 L844.8,704.0 L847.5,694.1 L850.0,688.0 L852.5,689.3 L854.8,694.4 L856.9,698.7 L858.6,700.1 L860.1,700.7 L861.9,702.0 L864.1,705.2 L866.5,709.2 L869.3,712.7 L872.4,715.1 L875.8,717.0 L879.2,718.2 L882.6,718.2 L885.9,717.5 L889.0,717.5 L892.0,719.0 L894.6,721.2 L896.5,722.7 L896.5,745.7 L894.6,743.9 L892.0,741.4 L889.0,739.5 L885.9,739.1 L882.6,739.4 L879.2,738.9 L875.8,737.2 L872.4,734.9 L869.3,732.0 L866.5,728.2 L864.1,723.9 L861.9,720.4 L860.1,718.8 L858.6,718.0 L856.9,716.4 L854.8,711.8 L852.5,706.4 L850.0,704.8 L847.5,710.5 L844.8,720.1 L842.1,727.8 L839.2,731.0 L836.2,732.3 L833.4,733.6 L831.2,735.4 L829.3,736.9 L827.3,737.3 L824.8,735.8 L822.3,733.3 L819.8,731.1 L817.8,729.9 L815.9,729.0 L813.7,727.9 L810.9,725.7 L807.9,723.2 L805.0,722.4 L802.5,724.5 L800.0,728.2 L797.6,732.3 L795.2,737.5 L792.8,743.0 L790.2,745.9 L787.4,744.8 L784.4,741.1 L781.5,736.0 L779.1,728.1 L776.8,718.8 L774.1,714.5 L770.6,719.6 L766.8,729.7 L763.0,737.8 L759.6,741.3 L756.4,742.8 L753.1,743.5 L749.8,743.3 L746.5,742.2 L743.2,741.0 L739.9,739.8 L736.5,738.6 L733.3,737.8 L730.3,737.9 L727.4,738.4 L724.7,737.8 L722.2,734.4 L719.8,729.9 L717.3,727.9 L714.4,730.2 L711.5,734.9 L708.6,739.7 L706.2,744.4 L703.8,749.2 L701.2,752.1 L698.2,752.2 L694.8,750.6 L691.3,748.4 L687.6,745.9 L683.8,742.9 L680.2,739.7 L677.2,736.2 L674.4,732.4 L671.6,729.4 L668.3,726.7 L664.8,724.7 L661.7,724.9 L659.0,728.9 L656.5,735.2 L654.3,740.2 L652.1,743.0 L650.0,744.5 L648.1,745.2 L646.4,744.8 L644.9,743.4 L643.1,741.7 L640.8,739.4 L638.2,736.6 L635.7,734.8 L633.6,734.4 L631.6,735.0 L629.5,736.0 L627.6,738.0 L625.6,740.4 L623.4,741.7 L620.7,741.1 L617.8,739.5 L614.7,737.8 L611.3,737.2 L607.8,736.7 L604.8,735.5 L602.5,732.9 L600.6,729.7 L599.4,727.4 Z" fill="#dc6866" fill-opacity="0.5" stroke="none"/>
<path d="M599.4,749.5 L601.5,748.8 L604.5,748.0 L607.3,747.8 L609.5,748.7 L611.6,750.2 L613.5,751.5 L615.2,752.0 L616.8,752.2 L618.4,753.0 L620.0,754.7 L621.6,756.9 L623.4,759.1 L625.3,761.4 L627.4,763.7 L629.5,765.3 L631.6,765.5 L633.6,765.0 L635.7,764.8 L638.1,766.1 L640.7,767.8 L643.1,767.8 L645.3,764.3 L647.4,759.0 L649.3,754.9 L651.1,753.3 L652.7,752.9 L654.3,753.0 L655.6,753.8 L656.8,755.1 L658.0,754.9 L659.2,751.5 L660.3,746.5 L661.7,743.6 L663.2,744.7 L664.9,747.8 L666.6,750.5 L668.2,751.3 L669.7,751.7 L671.6,753.0 L673.9,756.1 L676.5,760.3 L679.0,764.1 L681.1,767.4 L683.1,770.5 L685.2,772.2 L687.3,771.7 L689.4,769.9 L691.3,769.0 L693.0,770.0 L694.6,771.9 L696.3,774.0 L698.2,776.6 L700.3,779.4 L702.5,780.1 L704.8,777.4 L707.3,772.5 L709.9,767.8 L712.4,763.2 L714.9,758.7 L717.3,756.7 L719.4,759.0 L721.4,763.7 L723.5,767.8 L725.5,770.3 L727.6,772.1 L729.6,772.7 L731.7,771.5 L733.8,769.1 L735.8,766.6 L737.9,764.0 L739.9,761.4 L742.0,759.9 L744.1,760.4 L746.1,761.9 L748.2,762.8 L750.2,762.0 L752.3,760.5 L754.4,759.9 L756.4,761.7 L758.4,764.5 L760.5,765.3 L763.0,763.4 L765.5,759.5 L767.9,753.0 L770.1,740.0 L772.1,724.3 L774.1,716.1 L776.0,721.6 L778.0,734.6 L780.3,746.8 L783.4,756.6 L786.9,765.5 L790.2,770.3 L792.8,768.2 L795.2,761.9 L797.6,755.4 L800.1,749.5 L802.5,743.4 L805.0,739.4 L807.5,738.4 L810.1,739.4 L812.4,741.1 L814.5,743.6 L816.4,746.8 L818.6,749.3 L821.3,750.3 L824.3,750.6 L827.3,750.5 L830.2,750.1 L833.2,749.5 L835.9,748.5 L838.1,747.9 L840.0,747.1 L842.1,743.9 L844.7,735.4 L847.5,724.6 L850.0,718.9 L852.0,723.4 L853.8,733.0 L855.7,740.6 L857.7,743.0 L859.7,743.4 L861.9,743.9 L864.2,745.1 L866.8,746.4 L869.3,747.1 L871.8,746.3 L874.4,745.0 L876.7,745.3 L878.4,749.0 L879.9,754.3 L881.6,758.6 L883.9,760.8 L886.5,762.0 L889.0,763.0 L891.8,764.2 L894.5,765.1 L896.5,765.8 L896.5,788.8 L894.5,787.9 L891.8,786.6 L889.0,785.1 L886.5,783.7 L883.9,782.1 L881.6,779.6 L879.9,775.1 L878.4,769.6 L876.7,765.7 L874.4,765.0 L871.8,766.0 L869.3,766.4 L866.8,765.4 L864.2,763.8 L861.9,762.2 L859.7,761.5 L857.7,760.8 L855.7,758.1 L853.8,750.3 L852.0,740.4 L850.0,735.7 L847.5,741.0 L844.7,751.5 L842.1,759.7 L840.0,762.5 L838.1,763.1 L835.9,763.5 L833.2,764.5 L830.2,765.1 L827.3,765.5 L824.3,765.6 L821.3,765.3 L818.6,764.3 L816.4,761.8 L814.5,758.6 L812.4,756.1 L810.1,754.4 L807.5,753.4 L805.0,754.4 L802.5,758.4 L800.1,764.5 L797.6,770.4 L795.2,776.9 L792.8,783.2 L790.2,785.3 L786.9,780.5 L783.4,771.6 L780.3,761.8 L778.0,749.6 L776.0,736.6 L774.1,731.1 L772.1,739.3 L770.1,755.0 L767.9,768.0 L765.5,774.5 L763.0,778.4 L760.5,780.3 L758.4,779.5 L756.4,776.7 L754.4,774.9 L752.3,775.5 L750.2,777.0 L748.2,777.8 L746.1,776.9 L744.1,775.4 L742.0,774.9 L739.9,776.4 L737.9,779.0 L735.8,781.6 L733.8,784.1 L731.7,786.5 L729.6,787.7 L727.6,787.1 L725.5,785.3 L723.5,782.8 L721.4,778.7 L719.4,774.0 L717.3,771.7 L714.9,773.7 L712.4,778.2 L709.9,782.8 L707.3,787.5 L704.8,792.4 L702.5,795.1 L700.3,794.4 L698.2,791.6 L696.3,789.0 L694.6,786.9 L693.0,785.0 L691.3,784.0 L689.4,784.9 L687.3,786.7 L685.2,787.2 L683.1,785.5 L681.1,782.4 L679.0,779.1 L676.5,775.3 L673.9,771.1 L671.6,768.0 L669.7,766.7 L668.2,766.3 L666.6,765.5 L664.9,762.8 L663.2,759.7 L661.7,758.6 L660.3,761.5 L659.2,766.5 L658.0,769.9 L656.8,770.1 L655.6,768.8 L654.3,768.0 L652.7,767.9 L651.1,768.3 L649.3,769.9 L647.4,774.0 L645.3,779.3 L643.1,782.8 L640.7,782.8 L638.1,781.1 L635.7,779.8 L633.6,780.0 L631.6,780.5 L629.5,780.3 L627.4,778.7 L625.3,776.4 L623.4,774.1 L621.6,771.9 L620.0,769.7 L618.4,768.0 L616.8,767.2 L615.2,767.0 L613.5,766.9 L611.6,766.3 L609.5,765.7 L607.3,765.7 L604.5,767.0 L601.5,769.0 L599.4,770.5 Z" fill="#f38a48" fill-opacity="0.5" stroke="none"/>
<path d="M494.0,796.4 L494.8,797.1 L496.0,798.3 L497.2,799.6 L498.3,801.4 L499.3,803.3 L500.5,804.1 L501.6,803.1 L502.9,801.1 L504.3,799.1 L506.2,797.1 L508.2,795.0 L510.2,793.8 L511.9,794.0 L513.6,795.2 L515.3,796.8 L517.0,798.4 L518.6,800.4 L520.5,802.6 L522.8,805.6 L525.3,808.8 L527.6,810.3 L529.7,809.0 L531.6,806.1 L533.4,803.2 L535.2,801.0 L536.9,798.9 L538.6,796.8 L540.2,794.4 L541.8,792.1 L543.5,790.7 L545.6,791.3 L547.7,792.9 L549.6,793.3 L550.8,791.4 L551.8,788.3 L552.8,785.1 L554.1,781.7 L555.4,778.1 L556.7,776.1 L557.8,776.5 L558.8,778.3 L559.9,780.6 L561.4,783.3 L562.9,786.4 L564.4,788.6 L565.8,789.4 L567.1,789.3 L568.3,789.0 L569.6,788.3 L570.8,787.3 L572.2,787.3 L573.8,789.3 L575.6,792.3 L577.4,794.6 L579.1,795.3 L580.8,795.2 L582.5,794.8 L584.4,794.3 L586.2,793.6 L587.7,792.5 L588.7,790.9 L589.3,789.0 L590.0,787.6 L591.0,786.9 L592.1,786.7 L593.1,787.1 L594.1,788.2 L595.1,789.8 L596.1,791.2 L597.2,792.3 L598.3,793.1 L599.9,793.5 L602.1,793.2 L604.7,792.5 L607.3,791.8 L609.8,791.3 L612.2,790.8 L614.7,790.5 L617.1,790.9 L619.5,791.5 L622.1,791.0 L625.4,787.8 L628.9,783.6 L632.0,781.9 L634.3,784.9 L636.2,790.4 L638.2,795.5 L640.5,799.6 L643.0,803.3 L645.6,804.9 L648.4,803.3 L651.4,799.7 L654.3,795.5 L656.8,790.3 L659.2,784.5 L661.7,780.6 L664.1,779.7 L666.6,780.7 L669.1,783.1 L671.6,787.5 L674.0,793.3 L676.5,797.9 L679.0,800.4 L681.4,801.6 L683.9,802.4 L686.3,802.4 L688.6,801.9 L691.3,802.4 L694.9,805.4 L698.9,809.3 L702.5,810.8 L705.2,808.0 L707.5,802.8 L709.9,797.9 L712.3,793.7 L714.8,789.8 L717.3,788.6 L719.7,792.0 L722.1,798.1 L724.7,802.4 L727.5,803.2 L730.5,802.2 L733.3,800.4 L735.9,797.1 L738.3,792.9 L740.8,790.5 L743.3,791.9 L745.8,795.1 L748.2,797.5 L750.3,797.7 L752.3,797.1 L754.4,796.7 L756.4,797.4 L758.4,798.3 L760.5,797.9 L763.0,795.7 L765.5,792.2 L767.9,788.1 L770.1,781.7 L772.0,774.7 L774.1,772.0 L776.5,776.9 L778.9,786.1 L781.5,794.2 L784.4,800.0 L787.4,804.8 L790.2,806.6 L792.8,804.0 L795.2,798.5 L797.6,793.0 L800.0,787.9 L802.4,782.9 L805.0,779.4 L808.3,778.5 L811.9,779.2 L814.9,780.1 L816.8,780.9 L818.2,782.0 L819.8,783.6 L822.1,786.4 L824.6,789.7 L827.3,791.8 L830.1,791.8 L833.2,790.5 L835.9,788.6 L838.1,786.0 L840.0,782.8 L842.1,779.0 L844.7,773.9 L847.5,768.3 L850.0,764.9 L852.0,765.6 L853.8,768.4 L855.7,770.7 L857.7,771.0 L859.7,770.7 L861.9,771.5 L864.2,774.6 L866.8,778.8 L869.3,782.2 L871.8,783.6 L874.3,784.3 L876.7,785.4 L878.8,787.8 L880.9,790.5 L882.9,792.4 L884.9,792.3 L886.9,791.2 L889.0,790.7 L891.7,791.6 L894.5,792.9 L896.5,793.9 L896.5,815.9 L894.5,814.7 L891.7,812.9 L889.0,811.7 L886.9,812.0 L884.9,812.7 L882.9,812.6 L880.9,810.5 L878.8,807.4 L876.7,804.7 L874.3,803.3 L871.8,802.4 L869.3,800.5 L866.8,796.8 L864.2,792.3 L861.9,788.9 L859.7,787.8 L857.7,787.8 L855.7,787.3 L853.8,784.7 L852.0,781.6 L850.0,780.7 L847.5,783.8 L844.7,789.0 L842.1,793.8 L840.0,797.2 L838.1,800.2 L835.9,802.6 L833.2,804.5 L830.1,805.8 L827.3,805.8 L824.6,803.7 L822.1,800.4 L819.8,797.6 L818.2,796.0 L816.8,794.9 L814.9,794.1 L811.9,793.2 L808.3,792.5 L805.0,793.4 L802.4,796.9 L800.0,801.9 L797.6,807.0 L795.2,812.5 L792.8,818.0 L790.2,820.6 L787.4,818.8 L784.4,814.0 L781.5,808.2 L778.9,800.1 L776.5,790.9 L774.1,786.0 L772.0,788.7 L770.1,795.7 L767.9,802.1 L765.5,806.2 L763.0,809.7 L760.5,811.9 L758.4,812.3 L756.4,811.4 L754.4,810.7 L752.3,811.1 L750.3,811.7 L748.2,811.5 L745.8,809.1 L743.3,805.9 L740.8,804.5 L738.3,806.9 L735.9,811.1 L733.3,814.4 L730.5,816.2 L727.5,817.2 L724.7,816.4 L722.1,812.1 L719.7,806.0 L717.3,802.6 L714.8,803.8 L712.3,807.7 L709.9,811.9 L707.5,816.8 L705.2,822.0 L702.5,824.8 L698.9,823.3 L694.9,819.4 L691.3,816.4 L688.6,815.9 L686.3,816.4 L683.9,816.4 L681.4,815.6 L679.0,814.4 L676.5,811.9 L674.0,807.3 L671.6,801.5 L669.1,797.1 L666.6,794.7 L664.1,793.7 L661.7,794.6 L659.2,798.5 L656.8,804.3 L654.3,809.5 L651.4,813.7 L648.4,817.3 L645.6,818.9 L643.0,817.3 L640.5,813.6 L638.2,809.5 L636.2,804.4 L634.3,798.9 L632.0,795.9 L628.9,797.6 L625.4,801.8 L622.1,805.0 L619.5,805.5 L617.1,804.9 L614.7,804.5 L612.2,804.8 L609.8,805.3 L607.3,805.8 L604.7,806.5 L602.1,807.2 L599.9,807.5 L598.3,807.1 L597.2,806.3 L596.1,805.2 L595.1,803.8 L594.1,802.2 L593.1,801.1 L592.1,800.7 L591.0,800.9 L590.0,801.6 L589.3,803.0 L588.7,804.9 L587.7,806.5 L586.2,807.6 L584.4,808.3 L582.5,808.8 L580.8,809.2 L579.1,809.3 L577.4,808.6 L575.6,806.3 L573.8,803.3 L572.2,801.3 L570.8,801.3 L569.6,802.3 L568.3,803.0 L567.1,803.3 L565.8,803.4 L564.4,802.6 L562.9,800.4 L561.4,797.3 L559.9,794.6 L558.8,792.3 L557.8,790.5 L556.7,790.1 L555.4,792.1 L554.1,795.7 L552.8,799.1 L551.8,802.3 L550.8,805.4 L549.6,807.3 L547.7,806.9 L545.6,805.3 L543.5,804.7 L541.8,806.1 L540.2,808.4 L538.6,810.8 L536.9,812.9 L535.2,815.0 L533.4,817.2 L531.6,820.1 L529.7,823.0 L527.6,824.3 L525.3,822.8 L522.8,819.6 L520.5,816.6 L518.6,814.4 L517.0,812.4 L515.3,810.8 L513.6,809.2 L511.9,808.0 L510.2,807.8 L508.2,809.4 L506.2,812.2 L504.3,814.9 L502.9,817.5 L501.6,820.1 L500.5,821.5 L499.3,821.1 L498.3,819.6 L497.2,818.3 L496.0,817.5 L494.8,816.8 L494.0,816.4 Z" fill="#ea7858" fill-opacity="0.5" stroke="none"/>
<path d="M446.8,824.9 L447.8,825.0 L449.2,825.0 L450.7,824.4 L452.1,822.7 L453.7,820.4 L455.2,818.6 L456.7,818.1 L458.3,818.2 L459.7,817.8 L461.0,816.2 L462.2,814.2 L463.6,813.1 L465.2,814.3 L466.9,816.7 L468.8,818.2 L470.9,817.8 L473.2,816.5 L475.2,815.7 L476.9,815.8 L478.3,816.4 L479.8,817.0 L481.2,816.8 L482.6,816.6 L484.3,817.6 L486.2,820.5 L488.4,824.7 L490.8,829.2 L493.5,834.7 L496.5,840.6 L499.2,844.7 L501.3,845.9 L503.1,845.4 L505.0,844.5 L507.0,843.4 L509.2,842.0 L511.4,841.5 L514.0,842.5 L516.7,844.4 L519.2,846.0 L521.4,847.4 L523.5,848.6 L525.7,848.6 L528.3,846.7 L531.0,843.6 L533.4,840.9 L535.3,839.0 L537.0,837.4 L538.6,835.7 L540.2,833.4 L541.8,831.1 L543.5,829.2 L545.6,828.6 L547.7,828.5 L549.6,827.9 L550.8,826.5 L551.7,824.7 L552.8,822.8 L554.3,820.4 L555.9,818.0 L557.3,817.0 L558.4,818.3 L559.4,821.0 L560.6,823.4 L562.2,825.2 L564.0,826.6 L565.7,827.3 L567.3,826.7 L568.8,825.3 L570.3,824.1 L571.8,823.2 L573.3,822.6 L574.8,822.8 L576.1,824.1 L577.4,826.2 L578.7,827.9 L579.9,829.1 L581.2,829.9 L582.5,830.3 L584.3,830.0 L586.2,829.3 L587.7,828.6 L588.7,828.1 L589.3,827.7 L590.0,827.1 L591.0,826.2 L592.0,825.1 L593.1,824.7 L594.3,825.3 L595.6,826.5 L596.8,827.7 L597.6,828.7 L598.5,829.7 L599.9,830.1 L602.4,829.5 L605.4,828.3 L608.5,827.1 L611.4,825.9 L614.2,824.7 L617.2,824.6 L620.4,826.5 L623.7,829.5 L627.1,832.0 L630.4,833.3 L633.8,834.1 L637.0,835.0 L640.0,836.7 L642.9,838.4 L645.6,839.0 L648.2,837.8 L650.6,835.3 L653.0,832.0 L655.4,827.1 L657.9,821.3 L660.4,817.2 L663.2,815.9 L666.2,816.3 L669.1,817.7 L672.0,820.3 L674.9,823.9 L677.7,827.1 L680.6,829.4 L683.4,831.4 L686.4,833.3 L689.7,835.0 L693.2,836.6 L696.3,838.2 L698.5,840.3 L700.3,842.4 L702.5,843.2 L705.2,841.6 L708.2,838.6 L711.1,835.8 L713.7,832.9 L716.2,830.2 L718.5,829.1 L720.6,831.0 L722.6,834.5 L724.7,837.0 L727.1,837.5 L729.6,837.0 L732.1,835.8 L734.5,833.2 L737.0,830.0 L739.5,828.3 L742.2,829.6 L745.0,832.4 L748.2,834.5 L752.0,835.4 L756.3,835.5 L760.5,834.5 L764.7,831.2 L769.0,826.8 L772.9,824.1 L776.4,825.4 L779.6,828.5 L782.8,830.1 L786.1,828.1 L789.4,824.6 L792.7,821.7 L796.1,820.0 L799.6,818.9 L802.5,818.5 L804.5,819.0 L805.8,820.3 L807.5,820.9 L809.6,819.9 L812.1,818.4 L814.9,818.5 L818.4,822.1 L822.4,827.4 L826.0,830.8 L829.0,830.9 L831.8,829.0 L834.7,825.9 L838.0,820.9 L841.4,814.5 L844.6,809.3 L847.1,806.1 L849.5,804.1 L852.0,802.6 L855.0,800.9 L858.3,799.7 L861.4,800.2 L864.0,803.6 L866.5,808.8 L869.3,813.8 L872.8,818.3 L876.8,822.5 L880.4,825.4 L883.5,826.1 L886.3,825.5 L889.0,824.8 L891.9,824.4 L894.6,823.9 L896.5,823.6 L896.5,846.6 L894.6,846.7 L891.9,846.8 L889.0,846.8 L886.3,847.2 L883.5,847.4 L880.4,846.3 L876.8,842.9 L872.8,838.1 L869.3,833.2 L866.5,827.8 L864.0,822.3 L861.4,818.6 L858.3,817.6 L855.0,818.4 L852.0,819.7 L849.5,820.9 L847.1,822.6 L844.6,825.3 L841.4,830.2 L838.0,836.1 L834.7,840.9 L831.8,844.0 L829.0,845.9 L826.0,845.8 L822.4,842.4 L818.4,837.1 L814.9,833.5 L812.1,833.4 L809.6,834.9 L807.5,835.9 L805.8,835.3 L804.5,834.0 L802.5,833.5 L799.6,833.9 L796.1,835.0 L792.7,836.7 L789.4,839.6 L786.1,843.1 L782.8,845.1 L779.6,843.5 L776.4,840.4 L772.9,839.1 L769.0,841.8 L764.7,846.2 L760.5,849.5 L756.3,850.5 L752.0,850.4 L748.2,849.5 L745.0,847.4 L742.2,844.6 L739.5,843.3 L737.0,845.0 L734.5,848.2 L732.1,850.8 L729.6,852.0 L727.1,852.5 L724.7,852.0 L722.6,849.5 L720.6,846.0 L718.5,844.1 L716.2,845.2 L713.7,847.9 L711.1,850.8 L708.2,853.6 L705.2,856.6 L702.5,858.2 L700.3,857.4 L698.5,855.3 L696.3,853.2 L693.2,851.6 L689.7,850.0 L686.4,848.3 L683.4,846.4 L680.6,844.4 L677.7,842.1 L674.9,838.9 L672.0,835.3 L669.1,832.7 L666.2,831.3 L663.2,830.9 L660.4,832.2 L657.9,836.3 L655.4,842.1 L653.0,847.0 L650.6,850.3 L648.2,852.8 L645.6,854.0 L642.9,853.4 L640.0,851.7 L637.0,850.0 L633.8,849.1 L630.4,848.3 L627.1,847.0 L623.7,844.5 L620.4,841.5 L617.2,839.6 L614.2,839.7 L611.4,840.9 L608.5,842.1 L605.4,843.3 L602.4,844.5 L599.9,845.1 L598.5,844.7 L597.6,843.7 L596.8,842.7 L595.6,841.5 L594.3,840.3 L593.1,839.7 L592.0,840.1 L591.0,841.2 L590.0,842.1 L589.3,842.7 L588.7,843.1 L587.7,843.6 L586.2,844.3 L584.3,845.0 L582.5,845.3 L581.2,844.9 L579.9,844.1 L578.7,842.9 L577.4,841.2 L576.1,839.1 L574.8,837.8 L573.3,837.6 L571.8,838.2 L570.3,839.1 L568.8,840.3 L567.3,841.7 L565.7,842.3 L564.0,841.6 L562.2,840.2 L560.6,838.4 L559.4,836.0 L558.4,833.3 L557.3,832.0 L555.9,833.0 L554.3,835.4 L552.8,837.8 L551.7,839.7 L550.8,841.5 L549.6,842.9 L547.7,843.5 L545.6,843.6 L543.5,844.2 L541.8,846.1 L540.2,848.4 L538.6,850.7 L537.0,852.4 L535.3,854.0 L533.4,855.9 L531.0,858.6 L528.3,861.7 L525.7,863.6 L523.5,863.6 L521.4,862.4 L519.2,861.0 L516.7,859.4 L514.0,857.5 L511.4,856.5 L509.2,857.0 L507.0,858.4 L505.0,859.5 L503.1,860.4 L501.3,860.9 L499.2,859.7 L496.5,855.6 L493.5,849.7 L490.8,844.2 L488.4,839.7 L486.2,835.5 L484.3,832.6 L482.6,831.6 L481.2,831.8 L479.8,832.0 L478.3,831.4 L476.9,830.8 L475.2,830.7 L473.2,831.5 L470.9,832.8 L468.8,833.2 L466.9,831.7 L465.2,829.3 L463.6,828.1 L462.2,829.2 L461.0,831.6 L459.7,833.7 L458.3,834.6 L456.7,835.1 L455.2,836.2 L453.7,838.6 L452.1,841.6 L450.7,843.9 L449.2,845.0 L447.8,845.6 L446.8,845.9 Z" fill="#f8bc40" fill-opacity="0.5" stroke="none"/>
<path d="M611.0,864.4 L612.5,864.1 L614.6,863.8 L617.2,863.7 L620.3,863.8 L623.8,864.2 L627.1,864.9 L629.8,866.4 L632.3,868.5 L634.5,870.4 L636.3,871.6 L637.8,872.7 L639.4,874.1 L641.3,876.4 L643.3,879.0 L645.6,880.3 L648.4,879.2 L651.4,876.8 L654.3,874.1 L656.8,870.9 L659.2,867.3 L661.7,864.9 L664.1,864.5 L666.5,865.1 L669.1,865.9 L671.8,866.6 L674.6,867.4 L677.7,868.4 L681.4,869.5 L685.3,870.8 L688.9,872.3 L691.7,874.4 L694.0,876.8 L696.3,879.0 L698.4,881.5 L700.3,883.8 L702.5,884.0 L704.8,880.6 L707.3,875.1 L709.9,869.9 L712.3,864.9 L714.8,860.1 L717.3,858.0 L719.8,860.8 L722.3,866.2 L724.7,869.9 L726.8,870.0 L728.9,868.4 L730.9,866.7 L732.9,864.6 L734.9,862.4 L737.1,861.7 L739.5,864.1 L742.0,868.0 L744.5,870.9 L746.5,871.2 L748.4,870.4 L750.6,869.9 L753.3,871.2 L756.3,872.8 L759.3,871.6 L762.3,864.7 L765.2,855.1 L767.9,848.6 L770.1,848.0 L772.1,850.6 L774.1,854.3 L776.5,859.2 L779.0,865.2 L781.5,870.4 L784.0,874.4 L786.4,877.5 L789.0,878.3 L791.8,875.5 L794.8,870.4 L797.6,865.4 L800.1,861.4 L802.4,857.5 L805.0,854.3 L808.3,851.7 L811.8,849.7 L814.9,848.6 L817.3,849.0 L819.3,850.3 L821.1,851.8 L822.8,853.8 L824.4,856.0 L826.0,856.8 L827.6,854.6 L829.2,851.1 L831.0,849.4 L832.9,851.5 L835.0,855.3 L837.1,858.0 L839.5,858.0 L842.0,856.9 L844.6,855.5 L847.4,854.2 L850.5,852.6 L853.2,850.7 L855.6,848.4 L857.7,845.8 L859.4,842.9 L860.4,839.0 L861.0,834.8 L861.9,832.8 L863.2,835.0 L864.9,839.4 L866.8,843.1 L869.1,844.9 L871.7,846.2 L874.2,848.1 L876.7,851.7 L879.2,856.1 L881.6,859.5 L884.1,861.0 L886.6,861.6 L889.0,861.9 L891.8,862.3 L894.5,862.5 L896.5,862.7 L896.5,885.7 L894.5,885.3 L891.8,884.7 L889.0,883.9 L886.6,883.2 L884.1,882.4 L881.6,880.5 L879.2,876.8 L876.7,872.1 L874.2,868.1 L871.7,865.9 L869.1,864.3 L866.8,862.2 L864.9,858.1 L863.2,853.5 L861.9,851.2 L861.0,853.0 L860.4,857.1 L859.4,861.0 L857.7,863.6 L855.6,866.0 L853.2,868.0 L850.5,869.5 L847.4,870.7 L844.6,871.6 L842.0,872.6 L839.5,873.4 L837.1,873.1 L835.0,870.3 L832.9,866.5 L831.0,864.4 L829.2,866.1 L827.6,869.6 L826.0,871.8 L824.4,871.0 L822.8,868.8 L821.1,866.8 L819.3,865.3 L817.3,864.0 L814.9,863.6 L811.8,864.7 L808.3,866.7 L805.0,869.3 L802.4,872.5 L800.1,876.4 L797.6,880.4 L794.8,885.4 L791.8,890.5 L789.0,893.3 L786.4,892.5 L784.0,889.4 L781.5,885.4 L779.0,880.2 L776.5,874.2 L774.1,869.3 L772.1,865.6 L770.1,863.0 L767.9,863.6 L765.2,870.1 L762.3,879.7 L759.3,886.6 L756.3,887.8 L753.3,886.2 L750.6,884.9 L748.4,885.4 L746.5,886.2 L744.5,885.9 L742.0,883.0 L739.5,879.1 L737.1,876.7 L734.9,877.4 L732.9,879.6 L730.9,881.7 L728.9,883.4 L726.8,885.0 L724.7,884.9 L722.3,881.2 L719.8,875.8 L717.3,873.0 L714.8,875.1 L712.3,879.9 L709.9,884.9 L707.3,890.1 L704.8,895.6 L702.5,899.0 L700.3,898.8 L698.4,896.5 L696.3,894.0 L694.0,891.8 L691.7,889.4 L688.9,887.3 L685.3,885.8 L681.4,884.5 L677.7,883.4 L674.6,882.4 L671.8,881.6 L669.1,880.9 L666.5,880.1 L664.1,879.5 L661.7,879.9 L659.2,882.3 L656.8,885.9 L654.3,889.1 L651.4,891.8 L648.4,894.2 L645.6,895.3 L643.3,894.0 L641.3,891.4 L639.4,889.1 L637.8,887.7 L636.3,886.6 L634.5,885.4 L632.3,883.5 L629.8,881.4 L627.1,879.9 L623.8,880.0 L620.3,881.1 L617.2,882.2 L614.6,883.3 L612.5,884.5 L611.0,885.4 Z" fill="#c8627a" fill-opacity="0.5" stroke="none"/>
<path d="M712.3,890.1 L713.9,891.5 L716.2,893.6 L718.5,896.3 L720.5,900.4 L722.5,905.1 L724.7,908.2 L727.1,908.1 L729.7,905.8 L732.1,903.7 L734.2,902.2 L736.2,900.8 L738.3,900.5 L740.7,902.3 L743.2,905.2 L745.7,907.4 L748.2,908.3 L750.6,908.5 L753.1,908.7 L755.6,909.5 L758.1,910.3 L760.5,909.4 L763.0,905.5 L765.6,900.0 L767.9,895.1 L770.1,891.1 L772.1,887.8 L774.1,886.4 L776.2,887.9 L778.3,891.3 L780.3,895.1 L782.0,899.2 L783.5,903.8 L785.2,907.4 L787.6,909.9 L790.2,911.5 L792.7,911.9 L794.8,910.6 L796.8,908.1 L798.8,905.0 L800.9,900.7 L803.1,895.9 L805.0,892.6 L806.7,892.4 L808.3,893.7 L810.0,894.6 L811.9,893.8 L814.0,892.5 L816.1,892.1 L818.3,893.4 L820.4,895.7 L822.3,898.1 L823.7,901.0 L824.8,904.2 L826.0,905.5 L827.6,903.1 L829.3,898.9 L831.0,896.3 L832.6,897.3 L834.2,899.8 L835.9,901.3 L837.8,900.8 L839.9,899.2 L842.1,896.7 L844.5,892.6 L847.1,887.7 L849.5,883.8 L851.7,882.6 L853.7,882.4 L855.7,881.4 L857.8,877.4 L859.9,872.5 L861.9,871.2 L863.5,876.7 L865.0,885.8 L866.8,892.6 L869.2,894.5 L871.8,894.1 L874.2,893.8 L876.0,894.0 L877.5,894.2 L879.2,895.2 L881.1,897.8 L883.2,901.3 L885.3,904.2 L887.4,906.1 L889.6,907.5 L891.5,908.2 L893.4,907.8 L895.2,906.7 L896.5,905.9 L896.5,928.9 L895.2,929.6 L893.4,930.4 L891.5,930.6 L889.6,929.6 L887.4,927.9 L885.3,925.7 L883.2,922.5 L881.1,918.8 L879.2,915.9 L877.5,914.6 L876.0,914.3 L874.2,913.8 L871.8,913.8 L869.2,913.8 L866.8,911.6 L865.0,904.6 L863.5,895.3 L861.9,889.5 L859.9,890.7 L857.8,895.3 L855.7,899.0 L853.7,899.7 L851.7,899.6 L849.5,900.6 L847.1,904.1 L844.5,908.7 L842.1,912.4 L839.9,914.6 L837.8,915.9 L835.9,916.3 L834.2,914.8 L832.6,912.3 L831.0,911.3 L829.3,913.9 L827.6,918.1 L826.0,920.5 L824.8,919.2 L823.7,916.0 L822.3,913.1 L820.4,910.7 L818.3,908.4 L816.1,907.1 L814.0,907.5 L811.9,908.8 L810.0,909.6 L808.3,908.7 L806.7,907.4 L805.0,907.6 L803.1,910.9 L800.9,915.7 L798.8,920.0 L796.8,923.1 L794.8,925.6 L792.7,926.9 L790.2,926.5 L787.6,924.9 L785.2,922.4 L783.5,918.8 L782.0,914.2 L780.3,910.1 L778.3,906.3 L776.2,902.9 L774.1,901.4 L772.1,902.8 L770.1,906.1 L767.9,910.1 L765.6,915.0 L763.0,920.5 L760.5,924.4 L758.1,925.3 L755.6,924.5 L753.1,923.7 L750.6,923.5 L748.2,923.3 L745.7,922.4 L743.2,920.2 L740.7,917.3 L738.3,915.5 L736.2,915.8 L734.2,917.2 L732.1,918.7 L729.7,920.8 L727.1,923.2 L724.7,924.2 L722.5,922.0 L720.5,918.1 L718.5,914.8 L716.2,913.0 L713.9,911.9 L712.3,911.1 Z" fill="#f8c440" fill-opacity="0.5" stroke="none"/>
<path d="M358.8,933.9 L360.4,934.9 L362.6,936.4 L364.7,937.9 L366.4,939.3 L368.0,940.7 L369.7,941.4 L371.3,940.8 L373.0,939.5 L374.6,938.3 L375.9,937.3 L377.1,936.5 L378.6,936.3 L380.6,937.2 L383.0,938.8 L385.5,940.3 L388.0,941.4 L390.6,942.4 L393.4,943.6 L396.7,945.3 L400.2,947.1 L403.3,948.2 L405.5,948.3 L407.3,947.7 L409.2,946.8 L411.5,945.5 L413.9,943.9 L416.1,942.2 L417.9,940.6 L419.4,939.0 L421.1,937.7 L423.0,936.8 L425.0,936.3 L427.0,936.3 L428.9,937.1 L430.9,938.4 L432.9,939.7 L435.2,941.0 L437.5,942.4 L439.8,942.8 L442.2,942.0 L444.6,940.3 L446.8,938.3 L448.6,935.8 L450.1,933.0 L451.7,930.4 L453.3,928.0 L454.9,925.8 L456.7,924.4 L458.8,924.1 L461.2,924.6 L463.6,925.4 L465.9,926.8 L468.3,928.5 L470.5,929.8 L472.5,930.4 L474.3,930.5 L476.4,930.4 L479.0,929.6 L481.7,928.5 L484.3,928.4 L486.7,930.0 L489.0,932.6 L491.3,935.3 L493.5,938.2 L495.8,941.1 L498.2,943.2 L500.7,943.8 L503.4,943.5 L506.1,943.6 L508.6,944.6 L511.2,945.9 L514.0,947.2 L517.2,948.8 L520.7,950.4 L523.9,951.1 L526.7,950.2 L529.4,948.4 L531.8,946.8 L533.9,946.0 L535.8,945.4 L537.7,944.2 L539.7,941.9 L541.7,939.1 L543.7,936.9 L545.4,936.1 L547.0,936.0 L548.6,935.3 L550.2,933.3 L551.9,930.8 L553.5,928.4 L555.1,926.3 L556.7,924.4 L558.5,923.5 L560.6,923.8 L562.9,925.1 L565.4,926.4 L568.0,927.6 L570.6,928.8 L573.3,930.4 L576.0,932.6 L578.7,935.2 L581.2,937.3 L583.5,938.5 L585.5,939.3 L587.1,939.7 L588.2,939.6 L589.0,939.1 L590.0,938.8 L591.5,938.9 L593.3,939.1 L595.1,939.3 L596.6,939.1 L598.1,938.7 L599.9,938.8 L602.1,939.9 L604.6,941.3 L607.3,942.1 L610.4,941.5 L613.7,940.2 L617.2,938.8 L620.9,937.2 L624.7,935.6 L628.3,935.1 L631.4,936.9 L634.2,939.8 L637.0,942.5 L639.8,945.0 L642.7,947.2 L645.6,948.0 L648.5,946.5 L651.5,943.4 L654.3,940.1 L656.7,936.2 L659.1,932.0 L661.7,929.0 L664.9,927.7 L668.4,927.5 L671.6,928.2 L674.1,929.9 L676.4,932.5 L679.0,935.1 L682.0,937.5 L685.3,940.0 L688.9,942.5 L692.9,945.9 L697.3,949.3 L701.2,950.5 L704.4,947.3 L707.2,941.9 L709.9,937.6 L712.4,935.6 L714.9,934.8 L717.3,935.1 L719.8,937.5 L722.2,941.0 L724.7,943.0 L727.2,942.3 L729.7,940.1 L732.1,938.1 L734.2,936.4 L736.2,934.9 L738.3,934.6 L740.6,936.7 L743.1,940.1 L745.7,942.5 L748.5,943.2 L751.5,943.1 L754.4,942.5 L756.8,942.2 L759.1,941.5 L761.8,939.6 L765.3,935.0 L769.3,929.2 L772.9,925.7 L775.6,926.4 L777.9,929.4 L780.3,932.7 L783.1,936.5 L786.0,940.6 L789.0,942.5 L791.9,940.6 L794.8,936.5 L797.6,932.7 L800.1,930.0 L802.4,927.7 L805.0,925.7 L808.3,924.1 L811.8,922.9 L814.9,922.3 L817.2,922.6 L819.2,923.6 L821.1,924.8 L823.2,926.3 L825.3,928.1 L827.3,929.0 L828.9,927.9 L830.4,926.0 L832.2,924.8 L834.4,925.4 L836.9,926.8 L839.6,927.0 L842.7,925.2 L846.1,922.4 L849.5,919.4 L853.0,916.0 L856.5,912.4 L859.4,910.9 L861.3,912.9 L862.7,917.0 L864.3,920.4 L866.5,921.9 L869.0,922.8 L871.7,924.1 L874.9,926.4 L878.3,929.0 L881.6,931.6 L884.7,934.3 L887.6,937.1 L890.3,939.0 L892.8,939.5 L895.0,939.3 L896.5,939.0 L896.5,961.0 L895.0,961.1 L892.8,961.0 L890.3,960.1 L887.6,957.9 L884.7,954.8 L881.6,951.6 L878.3,948.6 L874.9,945.5 L871.7,942.8 L869.0,941.2 L866.5,940.0 L864.3,938.1 L862.7,934.5 L861.3,930.2 L859.4,927.9 L856.5,929.1 L853.0,932.2 L849.5,935.2 L846.1,937.7 L842.7,940.1 L839.6,941.4 L836.9,940.9 L834.4,939.4 L832.2,938.8 L830.4,940.0 L828.9,941.9 L827.3,943.0 L825.3,942.1 L823.2,940.3 L821.1,938.8 L819.2,937.6 L817.2,936.6 L814.9,936.3 L811.8,936.9 L808.3,938.1 L805.0,939.7 L802.4,941.7 L800.1,944.0 L797.6,946.7 L794.8,950.5 L791.9,954.6 L789.0,956.5 L786.0,954.6 L783.1,950.5 L780.3,946.7 L777.9,943.4 L775.6,940.4 L772.9,939.7 L769.3,943.2 L765.3,949.0 L761.8,953.6 L759.1,955.5 L756.8,956.2 L754.4,956.5 L751.5,957.1 L748.5,957.2 L745.7,956.5 L743.1,954.1 L740.6,950.7 L738.3,948.6 L736.2,948.9 L734.2,950.4 L732.1,952.1 L729.7,954.1 L727.2,956.3 L724.7,957.0 L722.2,955.0 L719.8,951.5 L717.3,949.1 L714.9,948.8 L712.4,949.6 L709.9,951.6 L707.2,955.9 L704.4,961.3 L701.2,964.5 L697.3,963.3 L692.9,959.9 L688.9,956.5 L685.3,954.0 L682.0,951.5 L679.0,949.1 L676.4,946.5 L674.1,943.9 L671.6,942.2 L668.4,941.5 L664.9,941.7 L661.7,943.0 L659.1,946.0 L656.7,950.2 L654.3,954.1 L651.5,957.4 L648.5,960.5 L645.6,962.0 L642.7,961.2 L639.8,959.0 L637.0,956.5 L634.2,953.8 L631.4,950.9 L628.3,949.1 L624.7,949.6 L620.9,951.2 L617.2,952.8 L613.7,954.2 L610.4,955.5 L607.3,956.1 L604.6,955.3 L602.1,953.9 L599.9,952.8 L598.1,952.7 L596.6,953.1 L595.1,953.3 L593.3,953.1 L591.5,952.9 L590.0,952.8 L589.0,953.1 L588.2,953.6 L587.1,953.7 L585.5,953.3 L583.5,952.5 L581.2,951.3 L578.7,949.2 L576.0,946.6 L573.3,944.4 L570.6,942.8 L568.0,941.6 L565.4,940.4 L562.9,939.1 L560.6,937.8 L558.5,937.5 L556.7,938.4 L555.1,940.3 L553.5,942.4 L551.9,944.8 L550.2,947.3 L548.6,949.3 L547.0,950.0 L545.4,950.1 L543.7,950.9 L541.7,953.1 L539.7,955.9 L537.7,958.2 L535.8,959.4 L533.9,960.0 L531.8,960.8 L529.4,962.4 L526.7,964.2 L523.9,965.1 L520.7,964.4 L517.2,962.8 L514.0,961.2 L511.2,959.9 L508.6,958.6 L506.1,957.6 L503.4,957.5 L500.7,957.8 L498.2,957.2 L495.8,955.1 L493.5,952.2 L491.3,949.3 L489.0,946.6 L486.7,944.0 L484.3,942.4 L481.7,942.5 L479.0,943.6 L476.4,944.4 L474.3,944.5 L472.5,944.4 L470.5,943.8 L468.3,942.5 L465.9,940.8 L463.6,939.4 L461.2,938.6 L458.8,938.1 L456.7,938.4 L454.9,939.8 L453.3,942.0 L451.7,944.4 L450.1,947.0 L448.6,949.8 L446.8,952.3 L444.6,954.3 L442.2,956.0 L439.8,956.8 L437.5,956.4 L435.2,955.0 L432.9,953.7 L430.9,952.4 L428.9,951.1 L427.0,950.3 L425.0,950.3 L423.0,950.8 L421.1,951.7 L419.4,953.0 L417.9,954.6 L416.1,956.2 L413.9,957.9 L411.5,959.5 L409.2,960.8 L407.3,961.7 L405.5,962.3 L403.3,962.2 L400.2,961.1 L396.7,959.3 L393.4,957.6 L390.6,956.4 L388.0,955.4 L385.5,954.3 L383.0,952.8 L380.6,951.2 L378.6,950.3 L377.1,950.5 L375.9,951.3 L374.6,952.3 L373.0,953.9 L371.3,955.8 L369.7,957.1 L368.0,957.0 L366.4,956.3 L364.7,955.5 L362.6,954.9 L360.4,954.3 L358.8,953.9 Z" fill="#ee7a50" fill-opacity="0.5" stroke="none"/>
<path d="M411.8,31.4 L414.2,29.4 L417.6,26.7 L421.0,25.7 L423.6,27.6 L426.3,31.0 L429.5,34.2 L433.8,36.8 L438.8,39.2 L443.8,40.8 L448.4,41.7 L453.0,41.8 L458.0,40.8 L464.0,37.5 L470.4,33.1 L476.6,30.5 L482.2,31.8 L487.4,35.0 L492.2,37.1 L496.5,36.8 L500.2,35.4 L503.7,34.2 L506.4,33.2 L508.9,32.3 L512.2,32.8 L517.0,36.1 L522.7,40.8 L527.9,43.7 L532.2,42.9 L536.1,40.3 L540.0,38.5 L544.0,38.4 L547.8,39.0 L551.4,39.9 L554.6,41.4 L557.4,43.2 L560.0,44.2 L561.9,43.6 L563.4,42.2 L565.7,41.4 L569.0,42.0 L573.1,43.3 L577.1,43.7 L580.9,42.1 L584.7,39.7 L588.5,37.9 L592.2,37.4 L595.9,37.5 L599.9,37.9 L604.3,38.6 L609.1,39.6 L614.1,40.8 L619.7,42.5 L625.7,44.4 L631.3,45.6 L636.4,45.9 L641.3,45.6 L645.5,44.8 L648.6,43.7 L651.1,42.3 L654.1,39.9 L658.2,35.7 L662.8,30.6 L666.9,27.7 L670.1,29.1 L672.9,32.7 L675.5,35.1 L677.9,35.0 L680.2,33.7 L682.6,32.2 L685.4,30.4 L688.4,28.3 L691.1,27.1 L693.2,27.3 L694.9,28.3 L696.8,30.0 L699.0,32.6 L701.3,35.8 L704.0,37.9 L707.1,38.0 L710.5,37.1 L714.0,36.5 L717.3,37.2 L720.6,38.3 L723.9,38.5 L727.4,37.1 L730.8,34.8 L733.9,32.8 L736.3,31.0 L738.5,29.4 L741.0,29.4 L744.5,32.4 L748.4,36.9 L752.5,39.9 L756.7,39.7 L761.1,38.0 L765.3,37.1 L769.2,38.0 L773.0,39.8 L776.7,41.4 L780.0,42.9 L783.2,44.3 L786.7,44.2 L790.6,41.5 L794.8,37.3 L799.5,33.4 L805.1,29.7 L811.2,26.3 L816.6,24.8 L820.8,27.1 L824.4,31.3 L828.0,33.4 L831.9,30.6 L835.8,25.6 L839.4,22.8 L842.5,24.3 L845.2,27.9 L848.0,31.4 L850.8,34.6 L853.7,37.6 L856.5,38.5 L859.4,35.6 L862.2,30.7 L865.1,27.1 L867.8,26.7 L870.6,27.7 L873.7,27.7 L877.4,25.1 L881.5,21.5 L885.1,20.0 L887.8,22.5 L890.1,27.1 L892.2,30.5 L894.2,31.3 L895.9,30.9 L897.0,30.5" fill="none" stroke="#263492" stroke-width="3.9" stroke-linejoin="round" stroke-linecap="butt"/>
<path d="M185.7,69.9 L189.0,70.2 L193.7,70.5 L198.5,70.5 L203.2,69.7 L208.0,68.6 L212.8,67.0 L217.6,64.6 L222.5,61.8 L227.0,59.9 L231.2,60.0 L235.0,61.0 L238.4,61.3 L241.3,59.7 L243.8,57.4 L246.4,56.2 L249.4,57.3 L252.5,59.5 L255.6,61.3 L258.3,62.1 L261.1,62.5 L264.1,62.8 L267.8,62.7 L271.7,62.4 L275.5,62.8 L278.9,64.6 L282.2,67.1 L285.5,68.5 L288.6,67.3 L291.6,65.0 L295.5,64.2 L301.0,66.6 L307.3,70.5 L312.6,73.3 L316.0,73.5 L318.4,72.5 L321.1,72.2 L324.8,73.6 L328.9,75.6 L332.5,77.0 L335.2,77.0 L337.5,76.4 L341.1,76.2 L347.0,77.1 L354.2,78.3 L361.1,78.4 L367.2,76.4 L373.0,73.3 L378.2,70.5 L382.5,68.3 L386.2,66.4 L389.6,65.6 L392.4,66.5 L395.0,68.4 L398.1,69.9 L402.7,70.4 L407.9,70.4 L412.4,69.9 L415.7,68.1 L418.3,65.8 L421.0,64.8 L423.6,66.0 L426.2,68.6 L429.5,71.3 L433.8,74.3 L438.8,77.4 L443.8,79.0 L448.4,78.2 L453.0,75.9 L458.0,73.3 L463.9,70.4 L470.3,67.4 L476.6,65.6 L482.3,66.1 L487.9,67.9 L493.7,69.9 L499.8,71.8 L506.2,74.0 L512.2,76.2 L517.8,78.7 L523.0,81.4 L527.9,82.7 L532.0,81.7 L535.7,79.4 L540.0,77.9 L545.3,78.2 L551.2,79.2 L557.1,79.9 L562.6,79.4 L568.1,78.5 L574.2,77.9 L581.4,77.8 L589.2,78.0 L597.0,77.9 L604.6,77.0 L612.2,75.9 L619.8,75.6 L627.9,76.9 L635.9,78.9 L642.7,79.9 L647.3,79.1 L650.6,77.4 L654.1,75.0 L658.5,71.2 L663.0,66.7 L666.9,64.2 L669.4,65.5 L671.3,68.9 L674.0,71.3 L678.1,71.1 L683.1,69.9 L688.3,69.9 L693.8,72.3 L699.6,75.9 L705.4,78.4 L711.0,79.2 L716.7,79.1 L722.5,78.4 L728.8,77.0 L735.3,75.0 L741.0,74.2 L745.3,75.4 L748.8,77.8 L752.5,79.9 L756.4,81.2 L760.4,82.3 L765.3,82.7 L771.6,82.5 L778.8,81.6 L785.2,79.9 L790.3,76.9 L794.8,73.1 L799.5,69.9 L805.2,67.8 L811.2,66.3 L816.6,65.6 L820.8,66.5 L824.4,68.2 L828.0,68.5 L831.9,65.4 L835.8,60.8 L839.4,57.9 L842.4,58.3 L845.1,60.4 L848.0,62.8 L851.3,65.4 L854.7,68.4 L858.0,69.9 L860.9,68.7 L863.7,66.1 L866.5,64.2 L869.3,63.9 L872.1,64.3 L875.1,64.2 L878.2,62.7 L881.5,60.8 L885.1,59.9 L889.3,61.0 L893.9,63.2 L897.0,64.8" fill="none" stroke="#b05e86" stroke-width="3.9" stroke-linejoin="round" stroke-linecap="butt"/>
<path d="M445.2,109.0 L449.3,109.4 L455.1,110.0 L460.9,109.8 L466.3,107.8 L471.8,105.0 L476.6,103.5 L480.0,104.9 L482.9,107.7 L486.5,109.8 L492.0,110.2 L498.3,109.9 L503.7,109.8 L506.9,110.0 L509.1,110.3 L512.2,111.2 L517.0,113.5 L522.7,116.3 L527.9,117.8 L532.0,116.7 L535.7,114.2 L540.0,112.7 L545.3,113.2 L551.2,114.6 L557.1,115.5 L562.6,115.0 L568.1,113.9 L574.2,113.2 L581.4,113.7 L589.2,114.7 L597.0,114.9 L604.6,113.5 L612.2,111.4 L619.8,110.4 L627.9,112.0 L635.9,114.7 L642.7,116.1 L647.3,115.0 L650.6,112.5 L654.1,109.8 L658.3,106.7 L662.8,103.2 L666.9,101.3 L670.3,102.0 L673.4,104.2 L676.9,105.5 L680.9,104.7 L685.3,103.1 L689.7,102.7 L693.9,105.1 L698.2,108.8 L702.5,111.2 L707.3,111.0 L712.2,109.4 L716.8,108.4 L720.8,108.9 L724.5,109.8 L728.2,109.8 L732.0,107.4 L735.8,104.1 L739.6,102.7 L743.2,105.2 L746.8,109.5 L751.0,112.7 L756.3,112.8 L762.2,111.7 L768.1,111.2 L773.9,112.9 L779.8,115.2 L785.2,115.5 L790.1,111.7 L794.6,105.8 L799.5,101.3 L805.2,99.1 L811.2,98.2 L816.6,98.4 L820.8,100.8 L824.4,104.2 L828.0,105.5 L831.9,102.2 L835.8,96.6 L839.4,93.3 L842.5,94.3 L845.2,97.6 L848.0,100.7 L850.8,103.5 L853.7,106.1 L856.5,107.0 L859.3,104.5 L862.0,100.2 L865.1,97.0 L868.8,96.3 L872.8,96.8 L876.5,97.0 L879.6,95.8 L882.4,94.3 L885.1,94.1 L887.6,96.4 L890.0,100.0 L892.2,102.7 L894.2,103.3 L895.9,103.0 L897.0,102.7" fill="none" stroke="#4032a2" stroke-width="3.9" stroke-linejoin="round" stroke-linecap="butt"/>
<path d="M595.6,151.3 L598.1,151.4 L601.8,151.3 L605.6,150.8 L609.4,149.1 L613.4,147.0 L617.0,145.6 L620.0,145.8 L622.6,146.8 L625.6,147.9 L629.2,149.0 L633.3,150.3 L637.0,151.3 L639.9,152.3 L642.6,153.0 L645.5,152.8 L649.2,151.2 L653.1,148.7 L656.9,145.6 L660.5,141.2 L663.8,136.2 L666.9,133.7 L669.4,136.0 L671.7,140.8 L674.0,144.2 L676.8,144.6 L679.8,143.5 L682.6,142.2 L685.1,140.5 L687.4,138.5 L689.7,137.6 L692.1,138.5 L694.5,140.5 L696.8,142.8 L699.1,145.8 L701.4,149.2 L704.0,151.3 L706.9,151.3 L710.2,150.0 L714.0,149.0 L718.4,149.4 L723.4,150.1 L728.2,149.9 L732.7,147.7 L737.0,144.7 L741.0,143.3 L744.5,145.1 L747.7,148.5 L751.0,151.3 L754.7,152.9 L758.6,153.8 L762.4,154.2 L766.2,153.4 L770.0,152.1 L773.8,151.3 L777.5,152.5 L781.2,154.3 L785.2,154.2 L789.9,150.2 L795.0,144.3 L799.5,139.9 L803.3,139.1 L806.5,139.8 L809.5,139.9 L811.9,138.0 L814.0,135.4 L816.6,134.2 L820.1,136.5 L824.1,140.1 L828.0,141.3 L831.9,137.1 L835.8,130.4 L839.4,126.2 L842.5,127.1 L845.2,130.5 L848.0,134.2 L850.8,138.3 L853.7,142.8 L856.5,145.1 L859.4,143.4 L862.2,139.5 L865.1,136.5 L868.0,135.8 L870.9,135.9 L873.7,135.6 L876.0,133.8 L878.1,131.5 L880.8,130.8 L884.5,133.3 L888.7,137.5 L892.2,140.5 L894.5,141.0 L896.0,140.5 L897.0,139.9" fill="none" stroke="#804c92" stroke-width="3.9" stroke-linejoin="round" stroke-linecap="butt"/>
<path d="M401.0,175.6 L404.1,176.4 L408.4,177.5 L412.4,177.6 L415.4,175.1 L418.0,171.5 L421.0,169.9 L424.5,172.1 L428.4,176.2 L432.4,179.8 L436.1,182.2 L439.8,184.0 L443.8,185.0 L448.1,185.3 L452.8,184.9 L458.0,183.3 L464.1,179.4 L470.6,174.3 L476.6,171.3 L480.9,172.2 L484.6,175.1 L489.4,177.6 L496.5,178.2 L504.8,178.3 L512.2,179.3 L518.1,182.2 L523.2,186.0 L527.9,188.4 L532.2,188.2 L536.1,186.6 L540.0,185.6 L544.0,185.7 L547.8,186.3 L551.4,187.0 L554.6,187.8 L557.4,188.7 L560.0,189.0 L561.9,188.1 L563.4,186.6 L565.7,185.6 L569.1,185.6 L573.2,186.1 L577.1,186.1 L580.3,185.0 L583.5,183.4 L587.1,182.7 L591.4,184.1 L596.3,186.5 L601.3,187.8 L606.4,186.8 L611.6,184.6 L617.0,183.3 L622.8,183.6 L628.8,184.6 L634.1,185.6 L638.3,186.3 L641.9,187.0 L645.5,187.0 L649.4,186.1 L653.2,184.6 L656.9,182.7 L660.4,179.8 L663.7,176.6 L666.9,174.7 L669.6,175.7 L672.2,178.1 L675.5,179.3 L680.1,177.8 L685.3,175.1 L689.7,173.6 L692.6,174.1 L694.7,175.7 L696.8,177.6 L699.1,179.8 L701.4,182.3 L704.0,184.1 L707.0,184.6 L710.4,184.3 L714.0,184.1 L717.5,184.7 L721.3,185.3 L725.4,185.0 L730.0,182.6 L734.9,179.2 L739.6,177.6 L744.0,179.5 L748.2,183.1 L752.5,185.6 L756.5,185.1 L760.5,183.5 L765.3,182.7 L771.6,184.2 L778.8,186.4 L785.2,187.0 L790.3,184.2 L794.8,179.6 L799.5,175.6 L805.2,172.3 L811.2,169.5 L816.6,168.4 L820.8,170.8 L824.4,174.9 L828.0,177.0 L831.9,174.7 L835.8,170.4 L839.4,167.9 L842.5,168.8 L845.2,171.4 L848.0,174.1 L850.8,177.1 L853.7,180.1 L856.5,181.3 L859.3,179.1 L862.1,175.1 L865.1,171.9 L868.3,170.9 L871.7,170.7 L875.1,169.9 L878.5,167.0 L881.9,163.6 L885.1,162.2 L887.7,164.7 L890.1,169.3 L892.2,172.7 L894.2,173.5 L895.9,173.1 L897.0,172.7" fill="none" stroke="#3e30a6" stroke-width="3.9" stroke-linejoin="round" stroke-linecap="butt"/>
<path d="M413.0,199.4 L415.1,199.4 L418.2,199.6 L421.0,200.5 L422.9,202.6 L424.6,205.5 L426.7,208.5 L429.3,211.9 L432.3,215.4 L435.2,218.5 L438.0,221.2 L440.7,223.4 L443.8,224.2 L447.5,222.6 L451.5,219.5 L455.2,217.1 L458.1,216.5 L460.8,216.5 L463.7,215.6 L467.4,212.5 L471.4,208.5 L475.1,205.7 L478.4,205.3 L481.3,206.2 L483.7,207.1 L485.3,207.9 L486.5,208.8 L488.0,209.1 L490.0,207.7 L492.3,205.6 L495.1,205.1 L498.8,207.6 L503.0,211.7 L506.5,214.8 L508.5,215.4 L509.8,215.0 L512.2,215.6 L516.8,218.9 L522.6,223.2 L527.9,225.6 L532.3,224.2 L536.4,220.9 L540.0,218.5 L543.1,218.3 L545.8,219.0 L548.6,219.9 L551.5,221.0 L554.4,222.3 L557.1,222.8 L559.5,221.6 L561.7,219.7 L564.2,218.5 L567.3,219.0 L570.7,220.3 L574.2,221.3 L577.7,221.4 L581.3,221.1 L585.6,221.3 L591.0,222.9 L596.9,225.0 L602.7,225.6 L608.3,223.3 L613.7,219.4 L618.4,217.1 L622.0,217.5 L625.0,219.3 L628.4,221.3 L632.8,223.9 L637.8,226.7 L642.7,227.9 L647.6,226.6 L652.5,223.7 L656.9,219.9 L660.7,214.3 L663.9,207.7 L666.9,204.2 L669.2,206.6 L671.2,211.9 L674.0,215.6 L678.5,215.5 L683.8,213.7 L688.3,212.8 L691.1,213.6 L693.2,215.2 L695.4,217.1 L698.0,219.6 L700.8,222.4 L704.0,224.2 L708.0,224.1 L712.5,223.0 L716.8,222.2 L720.7,222.7 L724.4,223.6 L728.2,223.3 L732.5,220.5 L736.9,216.7 L741.0,214.8 L744.5,216.8 L747.7,220.9 L751.0,224.2 L754.6,225.8 L758.4,226.7 L762.4,227.1 L767.1,226.6 L772.2,225.5 L776.7,225.1 L780.2,226.3 L783.3,228.1 L786.7,227.9 L790.8,223.8 L795.2,217.7 L799.5,212.8 L803.6,210.5 L807.5,209.5 L810.9,208.5 L813.5,207.0 L815.6,205.5 L818.0,205.1 L821.1,207.1 L824.5,210.2 L828.0,211.4 L831.9,208.2 L835.9,203.2 L839.4,200.0 L842.0,200.5 L844.1,203.0 L846.6,205.7 L849.7,208.5 L853.2,211.6 L856.5,212.8 L859.5,210.6 L862.3,206.5 L865.1,203.4 L868.0,202.4 L870.9,202.4 L873.7,202.2 L876.1,201.3 L878.4,200.2 L880.8,200.5 L883.6,203.7 L886.5,208.2 L889.3,211.4 L892.2,211.7 L895.1,210.8 L897.0,209.9" fill="none" stroke="#845092" stroke-width="3.9" stroke-linejoin="round" stroke-linecap="butt"/>
<path d="M292.1,233.6 L294.0,235.0 L296.7,237.1 L299.8,239.9 L303.0,244.1 L306.4,249.0 L309.7,252.7 L312.7,254.3 L315.6,254.6 L318.3,254.7 L320.8,254.8 L323.1,254.6 L325.4,254.7 L327.7,255.6 L330.1,256.8 L332.5,257.6 L334.9,257.4 L337.4,256.8 L341.1,256.4 L347.0,257.0 L354.2,257.9 L361.1,257.6 L367.2,255.0 L373.1,251.2 L378.2,248.4 L382.0,247.4 L385.1,247.3 L388.2,247.9 L391.5,249.2 L394.9,251.1 L398.1,252.7 L401.1,253.7 L404.0,254.5 L406.7,254.7 L409.2,254.5 L411.5,253.8 L413.8,252.7 L416.0,250.6 L418.0,248.1 L420.4,247.0 L423.1,248.3 L426.1,250.8 L429.5,253.6 L433.5,256.5 L437.9,259.6 L442.3,261.3 L446.8,260.5 L451.2,258.3 L455.2,256.4 L458.2,255.9 L460.8,255.7 L463.7,254.7 L467.4,252.0 L471.4,248.6 L475.1,246.2 L478.1,245.8 L480.7,246.4 L483.7,247.0 L487.1,247.0 L490.8,246.9 L495.1,247.0 L500.4,247.1 L506.4,247.3 L512.2,248.4 L517.7,251.4 L523.0,255.2 L527.9,257.6 L532.1,257.1 L535.9,255.3 L540.0,254.1 L544.8,254.8 L549.8,256.2 L554.3,257.0 L557.6,256.4 L560.4,255.3 L562.8,254.7 L564.8,255.5 L566.4,256.8 L568.5,257.0 L571.5,254.9 L574.9,251.7 L578.5,249.9 L582.1,250.5 L585.9,252.5 L589.9,254.7 L593.9,257.2 L598.1,260.0 L602.7,262.1 L608.2,263.0 L614.2,263.2 L619.8,263.3 L624.9,263.3 L629.7,263.2 L634.1,263.3 L637.9,264.1 L641.4,265.1 L645.5,265.0 L651.0,262.6 L657.1,259.2 L662.6,257.0 L666.5,257.6 L669.8,259.3 L674.0,259.8 L680.5,257.3 L687.9,253.4 L694.0,251.3 L697.7,252.8 L700.1,256.1 L702.5,258.4 L705.3,258.4 L708.0,257.4 L711.1,256.4 L714.7,255.7 L718.7,255.1 L722.5,254.7 L725.9,255.3 L729.2,256.2 L732.5,255.6 L735.9,251.5 L739.3,245.9 L742.5,242.7 L745.4,244.2 L748.1,248.0 L751.0,251.3 L754.3,253.6 L757.7,255.5 L761.0,255.6 L764.2,252.2 L767.3,247.1 L770.4,244.2 L773.5,245.6 L776.6,249.3 L779.5,252.7 L782.3,255.5 L785.1,258.0 L788.1,258.4 L791.5,255.4 L795.2,250.4 L799.5,246.2 L805.0,243.6 L811.1,241.9 L816.6,241.3 L820.8,243.1 L824.4,246.0 L828.0,247.0 L831.9,243.7 L835.8,238.6 L839.4,235.6 L842.5,237.1 L845.2,240.9 L848.0,244.2 L850.8,246.3 L853.7,247.9 L856.5,248.4 L859.3,247.1 L862.1,244.6 L865.1,242.7 L868.3,242.5 L871.7,242.8 L875.1,242.2 L878.5,239.1 L881.9,235.1 L885.1,232.8 L887.7,233.8 L890.1,236.5 L892.2,238.5 L894.2,238.6 L895.9,238.1 L897.0,237.6" fill="none" stroke="#7a4c96" stroke-width="3.9" stroke-linejoin="round" stroke-linecap="butt"/>
<path d="M525.0,297.6 L527.8,295.9 L531.7,293.4 L535.0,291.4 L537.0,290.2 L538.5,289.6 L540.0,289.1 L541.6,288.7 L543.2,288.5 L545.0,288.5 L547.0,288.8 L549.2,289.3 L551.4,289.9 L553.7,291.0 L556.1,292.2 L558.5,292.8 L560.8,292.1 L563.0,290.7 L565.7,289.9 L569.2,290.9 L573.2,292.5 L577.1,292.8 L580.5,290.0 L583.8,285.9 L587.1,283.4 L590.4,284.0 L593.8,286.3 L597.0,288.5 L599.9,290.6 L602.6,292.6 L605.6,293.7 L609.3,292.8 L613.3,291.0 L617.0,289.9 L620.1,290.5 L622.8,291.7 L625.6,292.8 L628.4,293.4 L631.1,293.8 L634.1,294.2 L637.3,295.1 L640.7,295.9 L644.1,295.6 L647.3,293.9 L650.5,291.0 L654.1,287.1 L658.3,280.5 L662.9,272.9 L666.9,269.1 L669.6,272.4 L671.7,279.4 L674.0,285.1 L677.2,287.4 L680.7,288.3 L684.0,288.5 L686.9,287.7 L689.7,286.2 L692.6,286.2 L695.8,289.3 L699.2,293.9 L702.5,297.1 L705.8,297.2 L709.0,296.0 L712.5,295.6 L716.5,298.0 L720.8,301.3 L725.4,302.2 L730.6,298.1 L736.1,291.7 L741.0,287.9 L744.8,289.5 L747.9,293.7 L751.0,297.1 L754.2,298.6 L757.5,299.3 L761.0,299.4 L765.1,298.3 L769.5,296.5 L773.8,295.6 L778.1,297.3 L782.4,299.8 L786.7,299.9 L790.9,295.4 L795.1,288.5 L799.5,282.8 L804.2,279.4 L809.0,277.2 L813.8,276.5 L818.6,278.9 L823.5,282.7 L828.0,284.2 L832.2,280.6 L836.0,274.6 L839.4,270.8 L842.2,271.7 L844.6,274.7 L846.6,277.1 L848.1,277.5 L849.3,277.3 L850.8,277.7 L853.0,279.8 L855.5,282.7 L858.0,284.2 L860.3,283.2 L862.6,281.0 L865.1,279.4 L867.7,279.8 L870.5,280.9 L873.7,280.5 L877.4,276.6 L881.5,271.2 L885.1,268.0 L887.8,269.2 L890.1,272.5 L892.2,274.8 L894.2,274.7 L895.9,273.7 L897.0,272.8" fill="none" stroke="#6c4499" stroke-width="3.9" stroke-linejoin="round" stroke-linecap="butt"/>
<path d="M520.8,328.4 L522.6,329.3 L525.1,330.5 L527.9,330.7 L530.8,329.3 L533.9,326.9 L536.4,325.0 L537.9,324.1 L538.9,323.6 L540.0,323.3 L541.6,323.1 L543.3,323.2 L545.0,323.3 L546.5,323.4 L548.1,323.6 L550.0,324.2 L552.6,325.7 L555.7,327.5 L558.5,328.4 L561.0,327.4 L563.2,325.5 L565.7,324.2 L568.5,324.1 L571.5,324.8 L574.2,325.6 L576.2,326.9 L577.9,328.5 L579.9,329.0 L582.4,327.2 L585.2,324.3 L588.5,323.3 L592.4,326.3 L596.9,331.2 L601.3,334.1 L605.6,333.2 L610.0,330.3 L614.1,327.9 L618.1,326.9 L621.8,326.4 L625.6,326.2 L629.5,326.1 L633.4,326.4 L637.0,327.0 L639.9,328.5 L642.6,330.4 L645.5,330.7 L649.2,328.7 L653.1,325.3 L656.9,321.3 L660.5,315.8 L663.8,309.7 L666.9,307.1 L669.4,310.6 L671.5,317.6 L674.0,323.3 L677.2,326.1 L680.7,327.7 L684.0,328.4 L686.9,327.8 L689.7,326.4 L692.6,326.2 L695.8,328.6 L699.2,332.2 L702.5,334.7 L705.8,334.6 L709.0,333.4 L712.5,332.7 L716.5,334.2 L720.8,336.3 L725.4,336.4 L730.6,332.1 L736.1,325.7 L741.0,322.2 L744.8,324.4 L747.9,329.5 L751.0,333.6 L754.2,335.3 L757.5,336.0 L761.0,335.6 L765.1,332.9 L769.5,329.1 L773.8,327.0 L778.1,329.1 L782.4,332.9 L786.7,334.1 L790.9,330.2 L795.1,323.6 L799.5,318.5 L804.2,316.0 L809.0,314.8 L813.8,314.8 L818.6,316.9 L823.5,320.3 L828.0,321.3 L832.2,317.4 L836.0,311.1 L839.4,307.1 L842.2,307.7 L844.6,310.5 L846.6,312.8 L848.0,312.9 L849.2,312.3 L850.8,312.8 L853.4,315.5 L856.4,319.2 L859.4,321.3 L862.3,320.1 L865.3,317.4 L867.9,315.6 L869.8,316.7 L871.3,318.7 L873.7,318.5 L877.6,313.3 L882.4,306.0 L886.5,301.3 L889.4,302.4 L891.7,306.2 L893.6,309.0 L895.2,309.3 L896.3,308.5 L897.0,307.9" fill="none" stroke="#6c4499" stroke-width="3.9" stroke-linejoin="round" stroke-linecap="butt"/>
<path d="M382.5,338.0 L384.2,339.9 L386.8,342.8 L389.6,345.7 L392.2,348.6 L395.0,351.7 L398.1,354.2 L401.8,356.2 L405.8,357.7 L409.5,358.5 L412.7,357.9 L415.6,356.5 L418.7,356.2 L422.1,358.1 L425.8,361.0 L429.5,363.7 L433.2,365.8 L436.9,367.6 L440.9,368.5 L445.3,368.1 L450.1,366.8 L455.2,364.8 L460.9,361.7 L466.9,358.0 L472.3,355.1 L476.5,353.9 L480.1,353.6 L483.7,352.8 L487.5,350.7 L491.3,348.2 L495.1,347.1 L498.6,348.4 L502.1,351.2 L506.5,354.2 L512.8,357.9 L520.0,361.8 L526.5,364.2 L531.8,363.7 L536.4,361.6 L540.0,359.9 L542.2,359.6 L543.5,359.6 L545.0,359.9 L546.8,360.5 L548.8,361.3 L551.4,361.9 L554.7,362.0 L558.5,361.8 L562.8,361.9 L567.9,362.8 L573.4,363.9 L578.5,364.2 L582.6,362.7 L586.2,360.3 L589.9,359.1 L594.0,360.3 L598.3,362.7 L602.7,364.2 L607.5,364.0 L612.4,362.9 L617.0,361.9 L621.1,361.4 L624.9,361.0 L628.4,360.8 L631.4,360.9 L634.1,361.2 L637.0,361.9 L640.2,363.6 L643.6,365.7 L646.9,366.5 L650.3,365.1 L653.7,362.4 L656.9,359.9 L659.9,357.7 L662.7,355.6 L665.5,355.1 L668.2,357.5 L671.0,361.6 L674.0,364.8 L677.7,366.2 L681.7,366.8 L685.4,367.1 L688.5,367.1 L691.2,366.8 L694.0,367.1 L696.7,368.7 L699.5,370.8 L702.5,372.2 L706.1,371.9 L710.0,370.9 L714.0,370.5 L717.6,371.7 L721.2,373.6 L725.4,374.2 L730.5,372.2 L736.1,369.1 L741.0,367.1 L744.8,367.5 L747.9,369.0 L751.0,370.5 L754.2,371.7 L757.5,372.9 L761.0,372.8 L765.1,370.3 L769.5,366.6 L773.8,364.2 L778.1,365.1 L782.4,367.3 L786.7,367.6 L791.0,364.1 L795.2,358.6 L799.5,354.2 L803.7,352.0 L807.8,350.9 L812.3,350.5 L817.5,351.6 L823.0,353.5 L828.0,354.2 L832.2,352.3 L836.0,349.2 L839.4,347.1 L842.5,347.0 L845.2,347.9 L848.0,349.4 L850.8,351.7 L853.7,354.5 L856.5,356.2 L859.4,355.8 L862.2,354.4 L865.1,353.4 L867.8,354.1 L870.5,355.4 L873.7,355.1 L877.8,351.5 L882.5,346.4 L886.5,342.8 L889.4,342.5 L891.7,343.8 L893.6,344.8 L895.2,344.8 L896.3,344.5 L897.0,344.3" fill="none" stroke="#6c4499" stroke-width="3.9" stroke-linejoin="round" stroke-linecap="butt"/>
<path d="M712.0,397.0 L713.9,399.3 L716.7,402.5 L719.7,405.6 L722.4,408.2 L725.3,410.6 L728.2,412.1 L731.2,412.6 L734.1,412.3 L736.8,411.3 L738.8,408.7 L740.5,405.4 L742.5,403.6 L745.1,404.6 L748.1,407.1 L751.0,409.3 L753.9,410.8 L756.7,412.1 L759.6,412.1 L762.4,410.2 L765.3,407.0 L768.1,404.1 L771.1,401.8 L774.1,399.7 L776.7,398.4 L778.8,398.2 L780.6,398.7 L782.4,399.9 L784.1,402.7 L785.8,406.2 L788.1,407.6 L791.6,404.9 L795.8,400.1 L799.5,396.2 L802.2,394.4 L804.4,393.5 L806.6,392.2 L809.1,389.4 L811.5,386.3 L813.8,384.8 L815.8,386.5 L817.7,389.9 L819.5,392.2 L821.0,391.9 L822.4,390.6 L823.7,389.9 L824.9,391.4 L826.1,393.5 L828.0,393.3 L831.5,388.0 L835.8,380.3 L839.4,375.6 L841.8,377.6 L843.4,382.7 L845.1,385.6 L847.0,383.1 L848.9,378.4 L850.8,376.2 L852.7,378.9 L854.6,384.1 L856.5,388.5 L858.2,391.0 L859.9,392.8 L862.2,394.2 L865.8,395.6 L870.0,396.6 L873.7,396.2 L876.4,393.5 L878.7,389.4 L880.8,384.8 L882.8,378.7 L884.6,372.0 L886.5,368.5 L888.4,370.7 L890.3,376.0 L892.2,379.9 L894.0,380.3 L895.8,379.3 L897.0,378.5" fill="none" stroke="#6c4499" stroke-width="3.9" stroke-linejoin="round" stroke-linecap="butt"/>
<path d="M349.7,481.3 L352.4,482.2 L356.2,483.3 L359.6,483.6 L362.2,482.6 L364.4,480.8 L366.8,479.0 L369.5,477.0 L372.4,475.0 L375.3,474.2 L378.2,475.7 L381.0,478.4 L383.9,480.8 L386.6,482.0 L389.4,483.0 L392.4,484.2 L396.1,486.3 L400.1,488.6 L403.8,489.9 L406.9,489.1 L409.6,487.3 L412.4,485.6 L415.2,484.4 L418.1,483.4 L421.0,482.8 L423.8,482.9 L426.7,483.4 L429.5,483.6 L432.3,483.4 L435.1,482.9 L438.1,481.9 L441.3,480.0 L444.8,477.5 L448.0,475.1 L450.9,472.4 L453.7,469.7 L456.6,468.5 L459.9,470.1 L463.3,473.1 L466.6,475.1 L469.5,474.8 L472.3,473.5 L475.1,472.2 L478.1,471.4 L481.0,470.7 L483.7,469.9 L485.7,469.0 L487.5,468.0 L489.4,467.1 L491.7,465.8 L494.2,464.5 L496.5,464.2 L498.5,465.8 L500.3,468.4 L502.2,470.5 L504.4,471.3 L506.7,471.6 L509.4,472.2 L512.5,473.9 L515.9,475.9 L519.3,477.1 L522.9,476.6 L526.5,475.3 L529.3,474.2 L530.6,473.7 L531.1,473.4 L532.2,473.3 L534.4,473.8 L537.2,474.6 L540.0,475.1 L542.8,475.0 L545.7,474.6 L548.6,474.2 L551.4,473.7 L554.3,473.1 L557.1,472.8 L560.0,473.0 L562.8,473.4 L565.7,473.3 L568.5,472.3 L571.4,470.9 L574.2,469.9 L577.1,470.4 L579.9,471.4 L582.8,471.3 L585.8,468.7 L588.9,464.9 L591.9,462.8 L594.6,464.0 L597.2,466.9 L599.9,469.9 L602.7,472.9 L605.6,476.0 L608.4,477.9 L611.3,478.0 L614.1,477.0 L617.0,475.6 L619.8,474.0 L622.7,472.1 L625.6,470.5 L628.4,469.1 L631.1,468.1 L634.1,468.5 L637.4,471.6 L640.8,476.1 L644.1,479.0 L647.0,478.9 L649.8,477.2 L652.6,475.6 L655.4,474.3 L658.2,473.1 L661.2,472.8 L664.5,474.0 L668.0,476.1 L671.2,477.9 L673.7,478.9 L675.9,479.6 L678.3,480.8 L681.0,482.9 L683.9,485.4 L686.9,487.0 L690.1,486.9 L693.6,485.7 L696.8,484.8 L699.7,484.5 L702.5,484.5 L705.4,483.6 L708.6,480.8 L712.0,477.3 L715.4,475.6 L718.7,477.7 L721.9,481.6 L725.4,484.2 L729.2,484.2 L733.2,482.9 L736.8,481.3 L739.4,479.7 L741.5,477.8 L743.9,476.2 L747.0,475.3 L750.3,474.8 L753.9,474.2 L757.6,473.6 L761.5,473.0 L765.3,471.3 L768.8,467.2 L772.2,462.2 L775.3,459.9 L777.8,463.0 L780.1,468.9 L782.4,474.2 L785.0,478.2 L787.7,481.6 L790.4,482.8 L793.0,480.3 L795.7,475.5 L798.1,471.3 L800.0,468.5 L801.7,466.2 L803.8,464.8 L806.5,464.6 L809.5,465.4 L812.3,466.5 L814.8,468.2 L817.0,470.2 L819.5,471.3 L822.2,471.0 L825.1,469.8 L828.0,468.5 L831.0,467.5 L833.9,466.4 L836.6,464.8 L838.6,462.5 L840.3,459.6 L842.3,456.2 L844.8,451.3 L847.6,445.8 L850.3,442.8 L852.4,444.3 L854.3,448.3 L856.5,452.2 L859.2,455.3 L862.2,458.3 L865.1,461.4 L867.9,464.6 L870.8,467.7 L873.7,470.5 L876.6,472.7 L879.5,474.6 L882.2,475.6 L884.7,475.5 L887.0,474.6 L889.3,474.2 L892.1,474.9 L895.0,476.2 L897.0,477.1" fill="none" stroke="#d96864" stroke-width="4.2" stroke-linejoin="round" stroke-linecap="butt"/>
<path d="M425.2,521.3 L428.3,521.9 L432.6,522.7 L436.6,522.7 L439.6,521.6 L442.2,519.8 L445.2,517.0 L448.8,512.1 L452.8,506.2 L456.6,502.7 L460.0,503.6 L463.2,506.8 L466.6,509.3 L470.3,510.1 L474.1,510.2 L478.0,509.8 L482.0,508.8 L486.0,507.2 L489.4,505.6 L491.7,503.7 L493.3,501.9 L495.1,501.3 L497.3,503.0 L499.6,506.0 L502.2,508.4 L505.4,509.5 L508.9,510.0 L512.2,510.4 L515.1,511.1 L517.8,511.6 L520.8,511.3 L524.5,509.3 L528.5,506.5 L532.2,504.7 L535.0,505.1 L537.5,506.6 L540.0,507.6 L542.8,507.5 L545.7,507.0 L548.6,506.4 L551.4,505.7 L554.3,505.0 L557.1,504.7 L560.0,505.3 L562.8,506.3 L565.7,507.0 L568.5,507.0 L571.4,506.6 L574.2,506.4 L577.1,506.8 L579.9,507.3 L582.8,507.0 L585.8,504.9 L588.9,502.0 L591.9,500.7 L594.6,502.6 L597.2,506.0 L599.9,509.3 L602.7,511.9 L605.6,514.3 L608.4,515.6 L611.3,515.0 L614.1,513.3 L617.0,511.3 L619.8,508.8 L622.7,506.0 L625.6,504.1 L628.4,503.7 L631.1,504.2 L634.1,505.6 L637.4,508.5 L640.9,512.4 L644.1,515.0 L646.7,515.0 L648.9,513.7 L651.2,513.3 L653.5,514.9 L655.9,517.4 L658.3,519.0 L661.0,518.7 L663.8,517.4 L666.9,516.1 L670.6,514.6 L674.6,512.9 L678.3,512.7 L681.3,515.2 L684.0,519.1 L686.9,521.8 L690.1,522.3 L693.6,521.6 L696.8,520.7 L699.8,519.9 L702.6,519.0 L705.4,517.8 L708.1,515.7 L710.9,513.4 L714.0,512.7 L717.5,515.3 L721.5,519.6 L725.4,522.7 L729.1,523.2 L732.8,522.4 L736.8,521.3 L741.3,520.0 L746.2,518.5 L751.0,517.0 L755.9,515.9 L760.8,514.9 L765.3,512.7 L769.0,507.6 L772.3,501.3 L775.3,498.4 L777.8,501.8 L780.1,508.4 L782.4,514.1 L785.0,517.9 L787.7,520.7 L790.4,521.3 L792.9,518.3 L795.5,513.1 L798.1,508.4 L800.9,505.1 L803.8,502.3 L806.6,500.7 L809.6,501.0 L812.5,502.5 L815.2,504.1 L817.2,505.8 L819.0,507.6 L820.9,508.4 L823.1,507.7 L825.5,506.1 L828.0,504.7 L830.9,504.4 L833.9,504.3 L836.6,503.6 L838.6,501.8 L840.3,499.4 L842.3,496.2 L844.8,490.8 L847.6,484.7 L850.3,481.3 L852.4,482.8 L854.3,487.0 L856.5,491.3 L859.2,495.1 L862.2,499.0 L865.1,502.7 L867.8,506.4 L870.6,509.8 L873.7,512.7 L877.2,514.6 L881.1,515.9 L885.1,517.0 L889.5,518.1 L893.9,519.1 L897.0,519.8" fill="none" stroke="#f08848" stroke-width="4.2" stroke-linejoin="round" stroke-linecap="butt"/>
<path d="M448.0,531.9 L449.9,531.9 L452.6,532.0 L455.2,532.8 L457.1,534.8 L458.9,537.5 L460.9,539.9 L463.0,542.0 L465.4,543.8 L468.0,545.1 L471.2,545.6 L474.7,545.6 L478.0,545.1 L480.9,544.0 L483.7,542.3 L486.5,539.9 L489.4,535.7 L492.3,530.6 L495.1,527.9 L497.4,529.6 L499.5,533.7 L502.2,537.1 L506.2,538.9 L510.9,540.1 L515.1,540.5 L518.3,539.8 L521.0,538.2 L523.6,536.5 L526.1,534.1 L528.4,531.6 L530.7,530.8 L533.3,533.4 L535.9,537.9 L537.9,541.3 L538.7,542.7 L539.0,543.0 L540.0,542.8 L542.4,542.1 L545.5,541.0 L548.6,539.9 L551.3,538.6 L554.0,537.3 L557.1,537.1 L560.8,538.8 L564.8,541.5 L568.5,543.3 L571.7,543.2 L574.5,542.1 L577.1,541.3 L579.1,541.9 L580.7,542.9 L582.8,542.8 L585.6,540.2 L588.8,536.6 L591.9,534.8 L594.6,536.2 L597.2,539.5 L599.9,542.8 L602.7,546.1 L605.6,549.5 L608.4,551.3 L611.3,550.6 L614.1,548.3 L617.0,545.6 L619.8,542.5 L622.7,539.1 L625.6,536.5 L628.4,535.2 L631.1,534.9 L634.1,535.6 L637.4,538.5 L640.9,542.5 L644.1,545.1 L646.6,544.5 L648.8,542.5 L651.2,541.3 L653.9,542.1 L656.8,543.7 L659.8,545.1 L663.0,545.8 L666.5,546.4 L669.8,547.1 L672.7,547.8 L675.5,548.6 L678.3,549.9 L681.1,552.5 L683.9,555.7 L686.9,557.6 L690.1,557.1 L693.5,555.4 L696.8,553.6 L700.3,552.5 L703.7,551.3 L706.8,549.9 L709.4,547.3 L711.6,544.3 L714.0,543.3 L716.7,546.1 L719.6,550.8 L722.5,554.8 L725.3,556.9 L728.0,558.4 L731.1,559.3 L734.7,559.7 L738.6,559.5 L742.5,559.3 L746.3,559.1 L750.1,558.7 L753.9,558.5 L757.7,558.5 L761.6,558.6 L765.3,558.5 L768.8,557.8 L772.2,556.9 L775.3,556.5 L777.9,556.8 L780.1,557.6 L782.4,558.5 L784.7,559.6 L787.0,560.7 L789.5,560.5 L792.3,557.9 L795.3,553.9 L798.1,549.9 L800.6,546.0 L802.9,542.0 L805.2,539.4 L807.6,538.6 L810.0,539.0 L812.3,539.9 L814.5,541.4 L816.5,543.3 L818.9,544.2 L821.8,543.2 L824.9,541.2 L828.0,539.9 L831.0,540.4 L833.9,541.5 L836.6,541.3 L839.1,538.9 L841.4,535.3 L843.7,531.4 L845.9,526.6 L848.0,521.7 L850.3,519.4 L852.8,521.8 L855.4,526.8 L858.0,531.4 L860.3,534.0 L862.6,536.1 L865.1,538.5 L867.8,541.8 L870.7,545.4 L873.7,548.5 L876.6,551.0 L879.5,553.0 L882.2,554.2 L884.7,554.2 L887.0,553.3 L889.3,552.8 L892.1,552.9 L895.0,553.3 L897.0,553.6" fill="none" stroke="#f89a40" stroke-width="4.2" stroke-linejoin="round" stroke-linecap="butt"/>
<path d="M209.9,559.3 L211.7,558.5 L214.3,557.3 L217.1,555.6 L219.9,553.1 L222.9,550.1 L225.6,547.9 L227.8,547.5 L229.6,548.0 L231.3,547.9 L232.9,546.3 L234.4,544.1 L236.2,543.3 L238.3,545.2 L240.5,548.5 L242.7,551.3 L244.6,553.0 L246.4,554.2 L248.4,554.8 L250.7,554.2 L253.2,552.9 L255.6,551.9 L257.5,551.8 L259.3,552.1 L261.3,552.2 L263.6,552.4 L266.1,552.4 L268.4,551.3 L270.2,548.5 L271.7,544.4 L273.2,539.9 L274.8,534.1 L276.3,527.8 L277.8,524.2 L279.3,524.9 L280.8,528.3 L282.6,532.8 L284.9,538.7 L287.4,545.6 L289.8,551.3 L291.7,554.7 L293.4,556.7 L295.5,558.5 L298.1,560.3 L301.1,561.9 L304.0,562.7 L306.8,562.7 L309.5,562.0 L312.6,560.5 L316.3,557.2 L320.3,553.2 L324.0,550.8 L327.2,551.3 L330.0,553.5 L332.5,555.6 L334.5,557.1 L336.1,558.6 L338.3,559.9 L341.3,561.1 L344.7,562.2 L348.2,562.7 L351.6,562.4 L355.0,561.5 L358.2,560.5 L361.3,559.3 L364.2,558.0 L366.2,557.0" fill="none" stroke="#f89a40" stroke-width="4.2" stroke-linejoin="round" stroke-linecap="butt"/>
<path d="M769.6,567.0 L771.5,565.8 L774.3,564.3 L776.7,564.2 L778.3,566.2 L779.6,569.6 L781.0,574.1 L782.3,580.4 L783.7,587.8 L785.2,594.1 L787.0,599.3 L788.9,603.5 L791.0,604.9 L793.2,602.4 L795.7,597.2 L798.1,591.3 L800.5,584.1 L802.8,576.3 L805.2,571.3 L807.6,571.3 L810.1,574.1 L812.3,577.0 L814.3,579.2 L816.2,581.3 L818.0,582.7 L820.0,582.4 L821.9,581.2 L823.7,581.3 L825.3,584.1 L826.6,588.2 L828.0,590.7 L829.4,589.6 L830.8,587.0 L832.3,585.6 L834.1,587.5 L836.0,590.7 L838.0,591.3 L839.9,586.9 L841.7,579.8 L843.7,572.7 L846.0,565.6 L848.5,558.4 L850.8,554.2 L852.8,554.7 L854.7,558.2 L856.5,562.2 L858.3,565.8 L860.1,569.8 L862.2,574.1 L864.9,579.1 L867.9,584.4 L870.8,588.4 L873.3,590.3 L875.7,591.1 L877.9,591.8 L879.9,593.5 L881.8,595.3 L883.6,595.5 L885.5,592.7 L887.3,588.3 L889.3,585.6 L892.0,586.3 L895.0,588.8 L897.0,590.7" fill="none" stroke="#f7c040" stroke-width="4.2" stroke-linejoin="round" stroke-linecap="butt"/>
<path d="M764.6,608.4 L765.7,609.8 L767.2,611.9 L768.7,614.1 L769.8,617.0 L770.9,620.0 L771.9,621.5 L773.0,619.9 L774.1,616.7 L775.2,615.0 L776.3,615.9 L777.4,618.1 L778.5,620.7 L779.6,623.2 L780.7,626.0 L781.7,628.9 L782.8,631.8 L783.9,634.7 L785.0,637.0 L786.4,638.5 L787.8,639.3 L789.1,639.5 L790.2,639.3 L791.3,638.5 L792.4,636.2 L793.7,631.3 L795.1,624.7 L796.5,619.0 L797.6,615.1 L798.6,612.1 L799.7,609.2 L800.9,606.2 L802.0,603.3 L803.3,601.9 L804.8,602.5 L806.3,604.6 L807.9,606.8 L809.5,608.9 L811.2,611.1 L812.8,613.3 L814.2,615.3 L815.5,617.1 L816.9,619.0 L818.5,621.3 L820.1,623.6 L821.8,625.6 L823.5,627.2 L825.1,628.5 L826.7,628.9 L828.1,627.6 L829.5,625.3 L830.8,624.0 L832.2,624.3 L833.5,625.4 L834.9,626.4 L836.2,627.6 L837.6,628.7 L839.0,628.0 L840.3,624.7 L841.7,619.5 L843.1,614.1 L844.5,608.7 L845.9,602.9 L847.1,597.8 L848.2,593.1 L849.1,589.0 L850.1,587.2 L851.3,588.7 L852.5,592.3 L853.7,596.2 L854.8,599.8 L855.9,603.7 L857.0,606.8 L857.8,609.0 L858.6,610.5 L859.4,610.9 L860.4,608.7 L861.5,605.3 L862.7,604.7 L864.0,609.2 L865.4,616.4 L866.8,622.3 L868.1,625.4 L869.4,627.1 L870.9,628.0 L872.4,628.2 L874.1,627.6 L875.8,627.2 L877.4,627.7 L879.1,628.4 L880.7,628.0 L882.1,625.8 L883.4,622.5 L884.8,619.0 L886.1,614.9 L887.5,610.6 L888.8,608.4 L890.0,610.2 L891.0,614.2 L892.1,617.4 L893.6,618.6 L895.1,618.9 L896.2,619.0" fill="none" stroke="#e06c62" stroke-width="4.2" stroke-linejoin="round" stroke-linecap="butt"/>
<path d="M722.9,668.9 L724.4,668.1 L726.6,666.9 L728.6,665.6 L730.3,664.3 L731.9,662.8 L733.5,661.6 L735.2,660.6 L736.8,659.9 L738.4,659.9 L740.1,661.5 L741.8,663.7 L743.3,664.8 L744.8,663.7 L746.1,661.5 L747.4,659.1 L748.7,656.5 L750.1,653.8 L751.5,652.6 L753.1,654.1 L754.7,657.0 L756.4,659.1 L758.0,659.2 L759.6,658.3 L761.3,657.5 L763.2,656.9 L765.2,656.3 L767.0,655.8 L768.8,656.1 L770.5,656.5 L771.9,655.8 L773.0,652.7 L773.9,648.4 L774.9,646.0 L776.0,647.0 L777.3,649.9 L778.5,653.4 L779.6,657.4 L780.6,662.0 L781.7,665.6 L783.0,667.5 L784.3,668.3 L785.8,668.9 L787.7,669.9 L789.8,670.6 L791.6,670.6 L792.8,669.6 L793.8,667.8 L794.8,664.8 L795.8,659.9 L796.8,653.8 L798.1,648.5 L799.9,644.4 L801.9,641.1 L803.8,639.5 L805.3,640.2 L806.5,642.6 L807.9,645.2 L809.5,648.0 L811.2,651.1 L812.8,653.4 L814.2,654.4 L815.5,654.6 L816.9,655.0 L818.5,656.0 L820.1,657.1 L821.8,658.3 L823.5,659.6 L825.1,660.9 L826.7,661.6 L828.1,661.0 L829.4,659.9 L830.8,659.1 L832.4,659.6 L834.0,660.5 L835.7,659.9 L837.4,656.9 L839.0,652.5 L840.6,647.7 L842.0,642.7 L843.3,637.3 L844.7,632.1 L846.3,626.5 L848.0,621.1 L849.6,618.2 L851.1,619.6 L852.4,623.4 L853.7,627.2 L854.9,630.2 L856.0,633.1 L857.0,635.4 L857.8,637.0 L858.6,637.9 L859.4,637.9 L860.4,635.5 L861.5,632.1 L862.7,631.3 L864.0,635.4 L865.4,642.1 L866.8,648.5 L868.1,654.2 L869.4,659.7 L870.9,663.2 L872.4,663.6 L874.1,662.2 L875.8,660.7 L877.4,660.0 L879.1,659.3 L880.7,658.3 L882.1,657.0 L883.4,655.4 L884.8,653.4 L886.1,650.0 L887.5,646.1 L888.8,644.4 L890.0,646.8 L891.0,651.3 L892.1,655.0 L893.6,656.8 L895.1,657.7 L896.2,658.3" fill="none" stroke="#dc6a64" stroke-width="4.2" stroke-linejoin="round" stroke-linecap="butt"/>
<path d="M299.5,697.9 L301.4,697.6 L304.1,697.2 L306.8,697.2 L309.2,698.0 L311.7,699.1 L314.1,699.6 L316.2,698.8 L318.3,697.3 L320.2,696.5 L321.9,696.9 L323.5,697.9 L325.0,698.4 L326.3,697.6 L327.4,696.3 L328.7,695.5 L330.1,695.9 L331.7,696.7 L333.5,696.5 L335.7,693.5 L338.0,689.4 L340.3,687.5 L342.6,689.6 L344.8,693.8 L346.9,697.2 L348.9,698.3 L350.9,698.6 L353.0,698.9 L355.3,700.3 L357.8,701.7 L360.3,701.3 L362.8,697.5 L365.4,691.8 L367.6,687.5 L369.3,685.9 L370.7,685.6 L372.0,685.0 L373.3,683.0 L374.6,680.7 L376.1,680.2 L378.1,683.2 L380.2,687.9 L382.2,691.1 L383.8,690.5 L385.1,688.2 L386.6,687.5 L388.3,689.8 L390.1,693.6 L391.9,697.2 L393.8,700.2 L395.8,702.9 L398.0,704.5 L400.7,704.6 L403.7,703.6 L406.5,702.1 L409.1,700.1 L411.5,697.6 L413.8,694.8 L415.9,690.8 L417.9,686.4 L419.9,684.3 L422.2,686.3 L424.7,690.6 L427.2,694.0 L430.1,695.3 L433.0,695.6 L435.7,695.5 L437.9,694.7 L439.8,693.4 L441.8,692.3 L444.2,692.2 L446.7,692.4 L449.1,691.6 L451.3,688.4 L453.3,684.2 L455.2,681.9 L456.9,682.9 L458.4,685.8 L460.1,688.7 L462.0,691.2 L464.1,693.6 L466.2,694.8 L468.2,693.8 L470.3,691.6 L472.2,689.9 L473.9,689.8 L475.4,690.2 L477.1,689.9 L479.5,688.0 L482.1,685.4 L484.4,683.8 L486.2,684.3 L487.7,685.8 L489.3,686.7 L490.9,686.2 L492.4,685.2 L494.1,685.0 L496.0,686.9 L498.1,689.7 L500.2,691.1 L502.6,689.5 L505.0,686.5 L507.5,685.0 L509.9,686.6 L512.3,689.8 L514.8,692.3 L517.5,693.5 L520.4,694.2 L523.3,694.8 L526.7,695.2 L530.2,695.6 L533.1,696.0 L535.0,696.8 L536.4,697.6 L537.9,697.2 L539.9,694.5 L542.0,690.6 L544.0,687.5 L546.0,686.3 L547.9,685.9 L550.1,685.0 L552.8,682.2 L555.7,678.8 L558.6,677.7 L561.5,681.0 L564.3,686.5 L567.1,691.1 L570.2,693.4 L573.2,694.8 L575.7,696.0 L577.2,697.5 L578.1,698.7 L579.3,698.4 L581.2,695.8 L583.3,691.7 L585.4,687.5 L587.3,682.5 L589.1,677.5 L590.7,675.3 L592.2,678.3 L593.5,684.3 L594.9,689.4 L596.5,692.4 L598.1,694.6 L599.9,696.3 L601.9,698.0 L604.0,699.2 L606.1,699.8 L608.1,699.6 L610.1,698.8 L612.2,698.1 L614.5,698.2 L617.0,698.4 L619.7,697.3 L622.9,693.7 L626.4,688.9 L629.5,685.7 L631.8,685.4 L633.7,686.8 L635.7,688.9 L638.1,692.6 L640.7,697.0 L643.1,699.3 L645.2,697.6 L647.2,693.7 L649.3,690.7 L651.7,689.5 L654.2,689.1 L656.7,688.9 L659.1,689.1 L661.5,689.5 L664.1,689.9 L667.3,690.0 L670.6,690.0 L674.0,690.7 L677.3,692.6 L680.6,695.1 L683.9,696.8 L687.2,697.1 L690.5,696.5 L693.8,695.6 L697.2,694.6 L700.6,693.4 L703.7,691.9 L706.3,689.4 L708.7,686.6 L711.1,685.7 L713.6,688.5 L716.0,693.1 L718.5,696.8 L721.0,698.6 L723.5,699.3 L725.9,699.3 L728.4,698.3 L730.8,696.5 L733.3,694.9 L736.2,693.6 L739.3,692.6 L742.0,691.9 L744.3,692.1 L746.3,692.6 L748.2,692.4 L749.7,690.5 L751.1,687.7 L753.1,685.7 L756.0,685.3 L759.4,685.7 L763.0,685.7 L766.8,684.5 L770.7,682.9 L774.1,683.3 L776.5,687.2 L778.3,692.9 L780.3,697.3 L782.6,699.6 L785.0,700.5 L787.7,699.3 L791.0,694.8 L794.5,688.2 L797.6,682.5 L799.9,678.3 L801.9,674.9 L803.8,673.4 L805.9,674.9 L808.0,678.3 L810.0,680.8 L811.6,680.6 L813.1,679.5 L814.9,679.5 L817.2,682.3 L819.8,686.3 L822.3,689.4 L824.9,690.9 L827.4,691.6 L829.7,691.9 L831.6,691.8 L833.1,691.2 L834.7,690.7 L836.3,690.8 L838.0,691.0 L839.6,689.4 L841.2,684.8 L842.9,678.5 L844.6,672.1 L846.3,665.6 L848.2,659.2 L850.0,655.3 L851.9,655.8 L853.7,658.9 L855.7,661.7 L857.8,663.1 L859.9,664.2 L861.9,666.7 L863.6,671.5 L865.2,677.6 L866.8,683.3 L868.4,688.5 L869.9,693.4 L871.7,696.3 L873.9,696.4 L876.4,694.5 L879.2,692.4 L882.4,690.2 L885.8,687.8 L889.0,686.5 L892.0,687.3 L894.6,689.2 L896.5,690.7" fill="none" stroke="#c8607a" stroke-width="4.2" stroke-linejoin="round" stroke-linecap="butt"/>
<path d="M599.4,716.1 L600.6,718.7 L602.5,722.2 L604.8,725.3 L607.8,727.0 L611.3,728.3 L614.7,729.5 L617.8,731.2 L620.7,732.8 L623.4,733.4 L625.6,732.1 L627.6,729.7 L629.5,727.7 L631.6,726.7 L633.6,726.1 L635.7,726.5 L638.2,728.3 L640.8,731.1 L643.1,733.4 L644.9,735.1 L646.4,736.5 L648.1,736.9 L650.0,736.2 L652.1,734.7 L654.3,731.9 L656.5,726.9 L659.0,720.6 L661.7,716.6 L664.8,716.4 L668.3,718.4 L671.6,721.1 L674.4,724.1 L677.2,727.9 L680.2,731.4 L683.8,734.6 L687.6,737.6 L691.3,740.1 L694.8,742.3 L698.2,743.9 L701.2,743.8 L703.8,740.9 L706.2,736.1 L708.6,731.4 L711.5,726.6 L714.4,721.9 L717.3,719.6 L719.8,721.6 L722.2,726.1 L724.7,729.5 L727.4,730.1 L730.3,729.6 L733.3,729.5 L736.5,730.3 L739.9,731.5 L743.2,732.7 L746.5,733.9 L749.8,735.0 L753.1,735.2 L756.4,734.5 L759.6,733.0 L763.0,729.5 L766.8,721.4 L770.6,711.3 L774.1,706.2 L776.8,710.5 L779.1,719.8 L781.5,727.7 L784.4,732.8 L787.4,736.5 L790.2,737.6 L792.8,734.7 L795.2,729.2 L797.6,724.0 L800.0,719.9 L802.5,716.2 L805.0,714.1 L807.9,714.9 L810.9,717.4 L813.7,719.6 L815.9,720.7 L817.8,721.6 L819.8,722.8 L822.3,725.0 L824.8,727.5 L827.3,729.0 L829.3,728.6 L831.2,727.1 L833.4,725.3 L836.2,724.0 L839.2,722.5 L842.1,719.1 L844.8,711.3 L847.5,701.5 L850.0,695.6 L852.5,697.0 L854.8,702.3 L856.9,706.7 L858.6,708.2 L860.1,708.9 L861.9,710.4 L864.1,713.8 L866.5,717.9 L869.3,721.6 L872.4,724.2 L875.8,726.3 L879.2,727.7 L882.6,728.0 L885.9,727.5 L889.0,727.7 L892.0,729.4 L894.6,731.7 L896.5,733.4" fill="none" stroke="#dc6866" stroke-width="4.2" stroke-linejoin="round" stroke-linecap="butt"/>
<path d="M599.4,759.2 L601.5,758.1 L604.5,756.7 L607.3,756.0 L609.5,756.4 L611.6,757.5 L613.5,758.4 L615.2,758.7 L616.8,758.9 L618.4,759.7 L620.0,761.4 L621.6,763.6 L623.4,765.8 L625.3,768.1 L627.4,770.4 L629.5,772.0 L631.6,772.2 L633.6,771.7 L635.7,771.5 L638.1,772.8 L640.7,774.5 L643.1,774.5 L645.3,771.0 L647.4,765.7 L649.3,761.6 L651.1,760.0 L652.7,759.6 L654.3,759.7 L655.6,760.5 L656.8,761.8 L658.0,761.6 L659.2,758.2 L660.3,753.2 L661.7,750.3 L663.2,751.4 L664.9,754.5 L666.6,757.2 L668.2,758.0 L669.7,758.4 L671.6,759.7 L673.9,762.8 L676.5,767.0 L679.0,770.8 L681.1,774.1 L683.1,777.2 L685.2,778.9 L687.3,778.4 L689.4,776.6 L691.3,775.7 L693.0,776.7 L694.6,778.6 L696.3,780.7 L698.2,783.3 L700.3,786.1 L702.5,786.8 L704.8,784.1 L707.3,779.2 L709.9,774.5 L712.4,769.9 L714.9,765.4 L717.3,763.4 L719.4,765.7 L721.4,770.4 L723.5,774.5 L725.5,777.0 L727.6,778.8 L729.6,779.4 L731.7,778.2 L733.8,775.8 L735.8,773.3 L737.9,770.7 L739.9,768.1 L742.0,766.6 L744.1,767.1 L746.1,768.6 L748.2,769.5 L750.2,768.7 L752.3,767.2 L754.4,766.6 L756.4,768.4 L758.4,771.2 L760.5,772.0 L763.0,770.1 L765.5,766.2 L767.9,759.7 L770.1,746.7 L772.1,731.0 L774.1,722.8 L776.0,728.3 L778.0,741.3 L780.3,753.5 L783.4,763.3 L786.9,772.2 L790.2,777.0 L792.8,774.9 L795.2,768.6 L797.6,762.1 L800.1,756.2 L802.5,750.1 L805.0,746.1 L807.5,745.1 L810.1,746.1 L812.4,747.8 L814.5,750.3 L816.4,753.5 L818.6,756.0 L821.3,757.0 L824.3,757.3 L827.3,757.2 L830.2,756.8 L833.2,756.2 L835.9,755.2 L838.1,754.7 L840.0,754.0 L842.1,751.0 L844.7,742.6 L847.5,732.0 L850.0,726.5 L852.0,731.1 L853.8,740.8 L855.7,748.5 L857.7,751.1 L859.7,751.7 L861.9,752.2 L864.2,753.7 L866.8,755.1 L869.3,756.0 L871.8,755.4 L874.4,754.2 L876.7,754.7 L878.4,758.5 L879.9,763.9 L881.6,768.3 L883.9,770.7 L886.5,772.1 L889.0,773.3 L891.8,774.6 L894.5,775.7 L896.5,776.5" fill="none" stroke="#f38a48" stroke-width="4.2" stroke-linejoin="round" stroke-linecap="butt"/>
<path d="M494.0,805.6 L494.8,806.2 L496.0,807.1 L497.2,808.1 L498.3,809.7 L499.3,811.4 L500.5,812.0 L501.6,810.8 L502.9,808.5 L504.3,806.2 L506.2,803.8 L508.2,801.4 L510.2,800.0 L511.9,800.2 L513.6,801.4 L515.3,803.0 L517.0,804.6 L518.6,806.6 L520.5,808.8 L522.8,811.8 L525.3,815.0 L527.6,816.5 L529.7,815.2 L531.6,812.3 L533.4,809.4 L535.2,807.2 L536.9,805.1 L538.6,803.0 L540.2,800.6 L541.8,798.3 L543.5,796.9 L545.6,797.5 L547.7,799.1 L549.6,799.5 L550.8,797.6 L551.8,794.5 L552.8,791.3 L554.1,787.9 L555.4,784.3 L556.7,782.3 L557.8,782.7 L558.8,784.5 L559.9,786.8 L561.4,789.5 L562.9,792.6 L564.4,794.8 L565.8,795.6 L567.1,795.5 L568.3,795.2 L569.6,794.5 L570.8,793.5 L572.2,793.5 L573.8,795.5 L575.6,798.5 L577.4,800.8 L579.1,801.5 L580.8,801.4 L582.5,801.0 L584.4,800.5 L586.2,799.8 L587.7,798.7 L588.7,797.1 L589.3,795.2 L590.0,793.8 L591.0,793.1 L592.1,792.9 L593.1,793.3 L594.1,794.4 L595.1,796.0 L596.1,797.4 L597.2,798.5 L598.3,799.3 L599.9,799.7 L602.1,799.4 L604.7,798.7 L607.3,798.0 L609.8,797.5 L612.2,797.0 L614.7,796.7 L617.1,797.1 L619.5,797.7 L622.1,797.2 L625.4,794.0 L628.9,789.8 L632.0,788.1 L634.3,791.1 L636.2,796.6 L638.2,801.7 L640.5,805.8 L643.0,809.5 L645.6,811.1 L648.4,809.5 L651.4,805.9 L654.3,801.7 L656.8,796.5 L659.2,790.7 L661.7,786.8 L664.1,785.9 L666.6,786.9 L669.1,789.3 L671.6,793.7 L674.0,799.5 L676.5,804.1 L679.0,806.6 L681.4,807.8 L683.9,808.6 L686.3,808.6 L688.6,808.1 L691.3,808.6 L694.9,811.6 L698.9,815.5 L702.5,817.0 L705.2,814.2 L707.5,809.0 L709.9,804.1 L712.3,799.9 L714.8,796.0 L717.3,794.8 L719.7,798.2 L722.1,804.3 L724.7,808.6 L727.5,809.4 L730.5,808.4 L733.3,806.6 L735.9,803.3 L738.3,799.1 L740.8,796.7 L743.3,798.1 L745.8,801.3 L748.2,803.7 L750.3,803.9 L752.3,803.3 L754.4,802.9 L756.4,803.6 L758.4,804.5 L760.5,804.1 L763.0,801.9 L765.5,798.4 L767.9,794.3 L770.1,787.9 L772.0,780.9 L774.1,778.2 L776.5,783.1 L778.9,792.3 L781.5,800.4 L784.4,806.2 L787.4,811.0 L790.2,812.8 L792.8,810.2 L795.2,804.7 L797.6,799.2 L800.0,794.1 L802.4,789.1 L805.0,785.6 L808.3,784.7 L811.9,785.4 L814.9,786.3 L816.8,787.1 L818.2,788.2 L819.8,789.8 L822.1,792.6 L824.6,795.9 L827.3,798.0 L830.1,798.0 L833.2,796.7 L835.9,794.8 L838.1,792.3 L840.0,789.2 L842.1,785.6 L844.7,780.7 L847.5,775.2 L850.0,772.0 L852.0,772.8 L853.8,775.8 L855.7,778.2 L857.7,778.6 L859.7,778.5 L861.9,779.4 L864.2,782.7 L866.8,787.0 L869.3,790.6 L871.8,792.2 L874.3,793.0 L876.7,794.3 L878.8,796.8 L880.9,799.7 L882.9,801.7 L884.9,801.7 L886.9,800.8 L889.0,800.4 L891.7,801.4 L894.5,803.0 L896.5,804.1" fill="none" stroke="#ea7858" stroke-width="4.2" stroke-linejoin="round" stroke-linecap="butt"/>
<path d="M446.8,834.6 L447.8,834.5 L449.2,834.2 L450.7,833.3 L452.1,831.3 L453.7,828.7 L455.2,826.6 L456.7,825.8 L458.3,825.6 L459.7,824.9 L461.0,823.1 L462.2,820.9 L463.6,819.8 L465.2,821.0 L466.9,823.4 L468.8,824.9 L470.9,824.5 L473.2,823.2 L475.2,822.4 L476.9,822.5 L478.3,823.1 L479.8,823.7 L481.2,823.5 L482.6,823.3 L484.3,824.3 L486.2,827.2 L488.4,831.4 L490.8,835.9 L493.5,841.4 L496.5,847.3 L499.2,851.4 L501.3,852.6 L503.1,852.1 L505.0,851.2 L507.0,850.1 L509.2,848.7 L511.4,848.2 L514.0,849.2 L516.7,851.1 L519.2,852.7 L521.4,854.1 L523.5,855.3 L525.7,855.3 L528.3,853.4 L531.0,850.3 L533.4,847.6 L535.3,845.7 L537.0,844.1 L538.6,842.4 L540.2,840.1 L541.8,837.8 L543.5,835.9 L545.6,835.3 L547.7,835.2 L549.6,834.6 L550.8,833.2 L551.7,831.4 L552.8,829.5 L554.3,827.1 L555.9,824.7 L557.3,823.7 L558.4,825.0 L559.4,827.7 L560.6,830.1 L562.2,831.9 L564.0,833.3 L565.7,834.0 L567.3,833.4 L568.8,832.0 L570.3,830.8 L571.8,829.9 L573.3,829.3 L574.8,829.5 L576.1,830.8 L577.4,832.9 L578.7,834.6 L579.9,835.8 L581.2,836.6 L582.5,837.0 L584.3,836.7 L586.2,836.0 L587.7,835.3 L588.7,834.8 L589.3,834.4 L590.0,833.8 L591.0,832.9 L592.0,831.8 L593.1,831.4 L594.3,832.0 L595.6,833.2 L596.8,834.4 L597.6,835.4 L598.5,836.4 L599.9,836.8 L602.4,836.2 L605.4,835.0 L608.5,833.8 L611.4,832.6 L614.2,831.4 L617.2,831.3 L620.4,833.2 L623.7,836.2 L627.1,838.7 L630.4,840.0 L633.8,840.8 L637.0,841.7 L640.0,843.4 L642.9,845.1 L645.6,845.7 L648.2,844.5 L650.6,842.0 L653.0,838.7 L655.4,833.8 L657.9,828.0 L660.4,823.9 L663.2,822.6 L666.2,823.0 L669.1,824.4 L672.0,827.0 L674.9,830.6 L677.7,833.8 L680.6,836.1 L683.4,838.1 L686.4,840.0 L689.7,841.7 L693.2,843.3 L696.3,844.9 L698.5,847.0 L700.3,849.1 L702.5,849.9 L705.2,848.3 L708.2,845.3 L711.1,842.5 L713.7,839.6 L716.2,836.9 L718.5,835.8 L720.6,837.7 L722.6,841.2 L724.7,843.7 L727.1,844.2 L729.6,843.7 L732.1,842.5 L734.5,839.9 L737.0,836.7 L739.5,835.0 L742.2,836.3 L745.0,839.1 L748.2,841.2 L752.0,842.1 L756.3,842.2 L760.5,841.2 L764.7,837.9 L769.0,833.5 L772.9,830.8 L776.4,832.1 L779.6,835.2 L782.8,836.8 L786.1,834.8 L789.4,831.3 L792.7,828.4 L796.1,826.7 L799.6,825.6 L802.5,825.2 L804.5,825.7 L805.8,827.0 L807.5,827.6 L809.6,826.6 L812.1,825.1 L814.9,825.2 L818.4,828.8 L822.4,834.1 L826.0,837.5 L829.0,837.6 L831.8,835.7 L834.7,832.6 L838.0,827.7 L841.4,821.5 L844.6,816.5 L847.1,813.5 L849.5,811.7 L852.0,810.3 L855.0,808.8 L858.3,807.8 L861.4,808.6 L864.0,812.2 L866.5,817.5 L869.3,822.7 L872.8,827.4 L876.8,831.9 L880.4,835.0 L883.5,836.0 L886.3,835.6 L889.0,835.0 L891.9,834.8 L894.6,834.5 L896.5,834.3" fill="none" stroke="#f8bc40" stroke-width="4.2" stroke-linejoin="round" stroke-linecap="butt"/>
<path d="M611.0,874.1 L612.5,873.5 L614.6,872.8 L617.2,872.1 L620.3,871.6 L623.8,871.3 L627.1,871.6 L629.8,873.1 L632.3,875.2 L634.5,877.1 L636.3,878.3 L637.8,879.4 L639.4,880.8 L641.3,883.1 L643.3,885.7 L645.6,887.0 L648.4,885.9 L651.4,883.5 L654.3,880.8 L656.8,877.6 L659.2,874.0 L661.7,871.6 L664.1,871.2 L666.5,871.8 L669.1,872.6 L671.8,873.3 L674.6,874.1 L677.7,875.1 L681.4,876.2 L685.3,877.5 L688.9,879.0 L691.7,881.1 L694.0,883.5 L696.3,885.7 L698.4,888.2 L700.3,890.5 L702.5,890.7 L704.8,887.3 L707.3,881.8 L709.9,876.6 L712.3,871.6 L714.8,866.8 L717.3,864.7 L719.8,867.5 L722.3,872.9 L724.7,876.6 L726.8,876.7 L728.9,875.1 L730.9,873.4 L732.9,871.3 L734.9,869.1 L737.1,868.4 L739.5,870.8 L742.0,874.7 L744.5,877.6 L746.5,877.9 L748.4,877.1 L750.6,876.6 L753.3,877.9 L756.3,879.5 L759.3,878.3 L762.3,871.4 L765.2,861.8 L767.9,855.3 L770.1,854.7 L772.1,857.3 L774.1,861.0 L776.5,865.9 L779.0,871.9 L781.5,877.1 L784.0,881.1 L786.4,884.2 L789.0,885.0 L791.8,882.2 L794.8,877.1 L797.6,872.1 L800.1,868.1 L802.4,864.2 L805.0,861.0 L808.3,858.4 L811.8,856.4 L814.9,855.3 L817.3,855.7 L819.3,857.0 L821.1,858.5 L822.8,860.5 L824.4,862.7 L826.0,863.5 L827.6,861.3 L829.2,857.8 L831.0,856.1 L832.9,858.2 L835.0,862.0 L837.1,864.7 L839.5,864.9 L842.0,864.0 L844.6,862.7 L847.4,861.6 L850.5,860.3 L853.2,858.5 L855.6,856.4 L857.7,853.9 L859.4,851.1 L860.4,847.2 L861.0,843.1 L861.9,841.2 L863.2,843.5 L864.9,847.9 L866.8,851.9 L869.1,853.8 L871.7,855.2 L874.2,857.3 L876.7,861.1 L879.2,865.6 L881.6,869.2 L884.1,870.9 L886.6,871.6 L889.0,872.1 L891.8,872.7 L894.5,873.1 L896.5,873.4" fill="none" stroke="#c8627a" stroke-width="4.2" stroke-linejoin="round" stroke-linecap="butt"/>
<path d="M712.3,899.8 L713.9,900.9 L716.2,902.5 L718.5,904.8 L720.5,908.5 L722.5,912.8 L724.7,915.4 L727.1,914.8 L729.7,912.5 L732.1,910.4 L734.2,908.9 L736.2,907.5 L738.3,907.2 L740.7,909.0 L743.2,911.9 L745.7,914.1 L748.2,915.0 L750.6,915.2 L753.1,915.4 L755.6,916.2 L758.1,917.0 L760.5,916.1 L763.0,912.2 L765.6,906.7 L767.9,901.8 L770.1,897.8 L772.1,894.5 L774.1,893.1 L776.2,894.6 L778.3,898.0 L780.3,901.8 L782.0,905.9 L783.5,910.5 L785.2,914.1 L787.6,916.6 L790.2,918.2 L792.7,918.6 L794.8,917.3 L796.8,914.8 L798.8,911.7 L800.9,907.4 L803.1,902.6 L805.0,899.3 L806.7,899.1 L808.3,900.4 L810.0,901.3 L811.9,900.5 L814.0,899.2 L816.1,898.8 L818.3,900.1 L820.4,902.4 L822.3,904.8 L823.7,907.7 L824.8,910.9 L826.0,912.2 L827.6,909.8 L829.3,905.6 L831.0,903.0 L832.6,904.0 L834.2,906.5 L835.9,908.0 L837.8,907.5 L839.9,906.1 L842.1,903.8 L844.5,899.9 L847.1,895.1 L849.5,891.4 L851.7,890.3 L853.7,890.3 L855.7,889.4 L857.8,885.5 L859.9,880.8 L861.9,879.5 L863.5,885.2 L865.0,894.4 L866.8,901.3 L869.2,903.4 L871.8,903.2 L874.2,903.0 L876.0,903.3 L877.5,903.6 L879.2,904.8 L881.1,907.5 L883.2,911.1 L885.3,914.1 L887.4,916.2 L889.6,917.8 L891.5,918.6 L893.4,918.3 L895.2,917.4 L896.5,916.6" fill="none" stroke="#f8c440" stroke-width="4.2" stroke-linejoin="round" stroke-linecap="butt"/>
<path d="M358.8,943.1 L360.4,943.8 L362.6,944.9 L364.7,945.9 L366.4,947.0 L368.0,948.1 L369.7,948.4 L371.3,947.5 L373.0,945.9 L374.6,944.5 L375.9,943.5 L377.1,942.7 L378.6,942.5 L380.6,943.4 L383.0,945.0 L385.5,946.5 L388.0,947.6 L390.6,948.6 L393.4,949.8 L396.7,951.5 L400.2,953.3 L403.3,954.4 L405.5,954.5 L407.3,953.9 L409.2,953.0 L411.5,951.7 L413.9,950.1 L416.1,948.4 L417.9,946.8 L419.4,945.2 L421.1,943.9 L423.0,943.0 L425.0,942.5 L427.0,942.5 L428.9,943.3 L430.9,944.6 L432.9,945.9 L435.2,947.2 L437.5,948.6 L439.8,949.0 L442.2,948.2 L444.6,946.5 L446.8,944.5 L448.6,942.0 L450.1,939.2 L451.7,936.6 L453.3,934.2 L454.9,932.0 L456.7,930.6 L458.8,930.3 L461.2,930.8 L463.6,931.6 L465.9,933.0 L468.3,934.7 L470.5,936.0 L472.5,936.6 L474.3,936.7 L476.4,936.6 L479.0,935.8 L481.7,934.7 L484.3,934.6 L486.7,936.2 L489.0,938.8 L491.3,941.5 L493.5,944.4 L495.8,947.3 L498.2,949.4 L500.7,950.0 L503.4,949.7 L506.1,949.8 L508.6,950.8 L511.2,952.1 L514.0,953.4 L517.2,955.0 L520.7,956.6 L523.9,957.3 L526.7,956.4 L529.4,954.6 L531.8,953.0 L533.9,952.2 L535.8,951.6 L537.7,950.4 L539.7,948.1 L541.7,945.3 L543.7,943.1 L545.4,942.3 L547.0,942.2 L548.6,941.5 L550.2,939.5 L551.9,937.0 L553.5,934.6 L555.1,932.5 L556.7,930.6 L558.5,929.7 L560.6,930.0 L562.9,931.3 L565.4,932.6 L568.0,933.8 L570.6,935.0 L573.3,936.6 L576.0,938.8 L578.7,941.4 L581.2,943.5 L583.5,944.7 L585.5,945.5 L587.1,945.9 L588.2,945.8 L589.0,945.3 L590.0,945.0 L591.5,945.1 L593.3,945.3 L595.1,945.5 L596.6,945.3 L598.1,944.9 L599.9,945.0 L602.1,946.1 L604.6,947.5 L607.3,948.3 L610.4,947.7 L613.7,946.4 L617.2,945.0 L620.9,943.4 L624.7,941.8 L628.3,941.3 L631.4,943.1 L634.2,946.0 L637.0,948.7 L639.8,951.2 L642.7,953.4 L645.6,954.2 L648.5,952.7 L651.5,949.6 L654.3,946.3 L656.7,942.4 L659.1,938.2 L661.7,935.2 L664.9,933.9 L668.4,933.7 L671.6,934.4 L674.1,936.1 L676.4,938.7 L679.0,941.3 L682.0,943.7 L685.3,946.2 L688.9,948.7 L692.9,952.1 L697.3,955.5 L701.2,956.7 L704.4,953.5 L707.2,948.1 L709.9,943.8 L712.4,941.8 L714.9,941.0 L717.3,941.3 L719.8,943.7 L722.2,947.2 L724.7,949.2 L727.2,948.5 L729.7,946.3 L732.1,944.3 L734.2,942.6 L736.2,941.1 L738.3,940.8 L740.6,942.9 L743.1,946.3 L745.7,948.7 L748.5,949.4 L751.5,949.3 L754.4,948.7 L756.8,948.4 L759.1,947.7 L761.8,945.8 L765.3,941.2 L769.3,935.4 L772.9,931.9 L775.6,932.6 L777.9,935.6 L780.3,938.9 L783.1,942.7 L786.0,946.8 L789.0,948.7 L791.9,946.8 L794.8,942.7 L797.6,938.9 L800.1,936.2 L802.4,933.9 L805.0,931.9 L808.3,930.3 L811.8,929.1 L814.9,928.5 L817.2,928.8 L819.2,929.8 L821.1,931.0 L823.2,932.5 L825.3,934.3 L827.3,935.2 L828.9,934.1 L830.4,932.2 L832.2,931.0 L834.4,931.6 L836.9,933.0 L839.6,933.4 L842.7,931.8 L846.1,929.2 L849.5,926.5 L853.0,923.3 L856.5,919.9 L859.4,918.6 L861.3,920.8 L862.7,924.9 L864.3,928.5 L866.5,930.2 L869.0,931.2 L871.7,932.7 L874.9,935.1 L878.3,938.0 L881.6,940.8 L884.7,943.8 L887.6,946.7 L890.3,948.7 L892.8,949.5 L895.0,949.4 L896.5,949.2" fill="none" stroke="#ee7a50" stroke-width="4.2" stroke-linejoin="round" stroke-linecap="butt"/>
</g>
<rect x="169.5" y="12.5" width="743.5" height="959.5" fill="none" stroke="#000" stroke-width="2"/>
<line x1="169.5" y1="427" x2="913.0" y2="427" stroke="#000" stroke-width="2"/>
<line x1="226.4" y1="972.0" x2="226.4" y2="962.5" stroke="#000" stroke-width="2"/>
<line x1="226.4" y1="12.5" x2="226.4" y2="22.0" stroke="#000" stroke-width="2"/>
<text x="224.5" y="1007" font-size="29" text-anchor="middle">1900</text>
<line x1="340.9" y1="972.0" x2="340.9" y2="962.5" stroke="#000" stroke-width="2"/>
<line x1="340.9" y1="12.5" x2="340.9" y2="22.0" stroke="#000" stroke-width="2"/>
<text x="338.5" y="1007" font-size="29" text-anchor="middle">1920</text>
<line x1="455.4" y1="972.0" x2="455.4" y2="962.5" stroke="#000" stroke-width="2"/>
<line x1="455.4" y1="12.5" x2="455.4" y2="22.0" stroke="#000" stroke-width="2"/>
<text x="452.5" y="1007" font-size="29" text-anchor="middle">1940</text>
<line x1="570.0" y1="972.0" x2="570.0" y2="962.5" stroke="#000" stroke-width="2"/>
<line x1="570.0" y1="12.5" x2="570.0" y2="22.0" stroke="#000" stroke-width="2"/>
<text x="566.5" y="1007" font-size="29" text-anchor="middle">1960</text>
<line x1="684.5" y1="972.0" x2="684.5" y2="962.5" stroke="#000" stroke-width="2"/>
<line x1="684.5" y1="12.5" x2="684.5" y2="22.0" stroke="#000" stroke-width="2"/>
<text x="680.5" y="1007" font-size="29" text-anchor="middle">1980</text>
<line x1="799.0" y1="972.0" x2="799.0" y2="962.5" stroke="#000" stroke-width="2"/>
<line x1="799.0" y1="12.5" x2="799.0" y2="22.0" stroke="#000" stroke-width="2"/>
<text x="794.5" y="1007" font-size="29" text-anchor="middle">2000</text>
<text x="908.5" y="1007" font-size="29" text-anchor="middle">2020</text>
<line x1="169.5" y1="972.0" x2="179.0" y2="972.0" stroke="#000" stroke-width="2"/>
<line x1="913.0" y1="972.0" x2="903.5" y2="972.0" stroke="#000" stroke-width="2"/>
<text x="157.5" y="981.1" font-size="29" text-anchor="end">0</text>
<line x1="169.5" y1="822.0" x2="179.0" y2="822.0" stroke="#000" stroke-width="2"/>
<line x1="913.0" y1="822.0" x2="903.5" y2="822.0" stroke="#000" stroke-width="2"/>
<text x="157.5" y="831.1" font-size="29" text-anchor="end">25</text>
<line x1="169.5" y1="672.0" x2="179.0" y2="672.0" stroke="#000" stroke-width="2"/>
<line x1="913.0" y1="672.0" x2="903.5" y2="672.0" stroke="#000" stroke-width="2"/>
<text x="157.5" y="681.1" font-size="29" text-anchor="end">50</text>
<line x1="169.5" y1="522.0" x2="179.0" y2="522.0" stroke="#000" stroke-width="2"/>
<line x1="913.0" y1="522.0" x2="903.5" y2="522.0" stroke="#000" stroke-width="2"/>
<text x="157.5" y="531.1" font-size="29" text-anchor="end">75</text>
<line x1="169.5" y1="372.0" x2="179.0" y2="372.0" stroke="#000" stroke-width="2"/>
<line x1="913.0" y1="372.0" x2="903.5" y2="372.0" stroke="#000" stroke-width="2"/>
<text x="157.5" y="381.1" font-size="29" text-anchor="end">100</text>
<line x1="169.5" y1="222.0" x2="179.0" y2="222.0" stroke="#000" stroke-width="2"/>
<line x1="913.0" y1="222.0" x2="903.5" y2="222.0" stroke="#000" stroke-width="2"/>
<text x="157.5" y="231.1" font-size="29" text-anchor="end">125</text>
<line x1="169.5" y1="72.0" x2="179.0" y2="72.0" stroke="#000" stroke-width="2"/>
<line x1="913.0" y1="72.0" x2="903.5" y2="72.0" stroke="#000" stroke-width="2"/>
<text x="157.5" y="81.1" font-size="29" text-anchor="end">150</text>
<text x="182.8" y="404.7" font-size="29">Cape Hatteras</text>
<text transform="translate(86,541) rotate(-90)" font-size="29" text-anchor="middle">Annual amplitude (cm) (arbitrary offset)</text>
<text x="920.4" y="37.7" font-size="29">25. Woods Hole</text>
<text x="920.4" y="73.6" font-size="29">24. New York</text>
<text x="920.4" y="109.4" font-size="29">23. New London</text>
<text x="920.4" y="145.2" font-size="29">22. Bridgeport</text>
<text x="920.4" y="181.1" font-size="29">21. Newport</text>
<text x="920.4" y="216.9" font-size="29">20. Sandy Hook</text>
<text x="920.4" y="252.8" font-size="29">19. Atlantic City</text>
<text x="920.4" y="288.7" font-size="29">18. Lewes</text>
<text x="920.4" y="324.5" font-size="29">17. Kiptopeke Beach</text>
<text x="920.4" y="360.4" font-size="29">16. Hampton Road</text>
<text x="920.4" y="396.2" font-size="29">15. Duck Pier</text>
<text x="920.4" y="476.6" font-size="29">14. Charleston</text>
<text x="920.4" y="512.4" font-size="29">13. Fort Pulaski</text>
<text x="920.4" y="548.2" font-size="29">12. Fernandina Beach</text>
<text x="920.4" y="584.1" font-size="29">11. Trident Pier</text>
<text x="920.4" y="620.0" font-size="29">10. Virginia Key</text>
<text x="920.4" y="655.8" font-size="29">9. Vaca Key</text>
<text x="920.4" y="691.6" font-size="29">8. Key West</text>
<text x="920.4" y="727.5" font-size="29">7. Naples</text>
<text x="920.4" y="763.4" font-size="29">6. Fort Myers</text>
<text x="920.4" y="799.2" font-size="29">5. St. Petersburg</text>
<text x="920.4" y="835.0" font-size="29">4. Cedar Key</text>
<text x="920.4" y="870.9" font-size="29">3. Apalachicola</text>
<text x="920.4" y="906.8" font-size="29">2. Panama City</text>
<text x="928.5" y="942.6" font-size="29">1. Pensacola</text>
<rect x="168.40" y="1032.5" width="46.94" height="29.7" fill="#05283d"/>
<rect x="214.94" y="1032.5" width="46.94" height="29.7" fill="#0f2f66"/>
<rect x="261.48" y="1032.5" width="46.94" height="29.7" fill="#283592"/>
<rect x="308.01" y="1032.5" width="46.94" height="29.7" fill="#4836a0"/>
<rect x="354.55" y="1032.5" width="46.94" height="29.7" fill="#624196"/>
<rect x="401.09" y="1032.5" width="46.94" height="29.7" fill="#7a4d8f"/>
<rect x="447.62" y="1032.5" width="46.94" height="29.7" fill="#8f578c"/>
<rect x="494.16" y="1032.5" width="46.94" height="29.7" fill="#a85e84"/>
<rect x="540.70" y="1032.5" width="46.94" height="29.7" fill="#be637e"/>
<rect x="587.24" y="1032.5" width="46.94" height="29.7" fill="#d36e70"/>
<rect x="633.77" y="1032.5" width="46.94" height="29.7" fill="#e9785b"/>
<rect x="680.31" y="1032.5" width="46.94" height="29.7" fill="#f68c46"/>
<rect x="726.85" y="1032.5" width="46.94" height="29.7" fill="#faa03c"/>
<rect x="773.39" y="1032.5" width="46.94" height="29.7" fill="#fcba42"/>
<rect x="819.92" y="1032.5" width="46.94" height="29.7" fill="#f5d24b"/>
<rect x="866.46" y="1032.5" width="46.94" height="29.7" fill="#eaec5a"/>
<rect x="168.4" y="1032.5" width="744.6" height="29.7" fill="none" stroke="#000" stroke-width="2"/>
<text x="168.7" y="1095.6" font-size="29" text-anchor="middle">4</text>
<line x1="354.6" y1="1062.2" x2="354.6" y2="1052.7" stroke="#000" stroke-width="2"/>
<text x="353.7" y="1095.6" font-size="29" text-anchor="middle">6</text>
<line x1="540.7" y1="1062.2" x2="540.7" y2="1052.7" stroke="#000" stroke-width="2"/>
<text x="538.7" y="1095.6" font-size="29" text-anchor="middle">8</text>
<line x1="726.9" y1="1062.2" x2="726.9" y2="1052.7" stroke="#000" stroke-width="2"/>
<text x="723.7" y="1095.6" font-size="29" text-anchor="middle">10</text>
<text x="908.7" y="1095.6" font-size="29" text-anchor="middle">12</text>
<text x="540.6" y="1144" font-size="29" text-anchor="middle">Mean annual amplitude (cm)</text>
<text x="-1.4" y="1230.6" font-size="41.5" font-weight="bold">b</text>
<rect x="48.90" y="2295.00" width="48.90" height="48.90" fill="#fcfcfc"/>
<rect x="97.80" y="2246.10" width="48.90" height="48.90" fill="#fcfcfc"/>
<rect x="146.70" y="2197.20" width="48.90" height="48.90" fill="#fcfcfc"/>
<rect x="195.60" y="2148.30" width="48.90" height="48.90" fill="#fcfcfc"/>
<rect x="244.50" y="2099.40" width="48.90" height="48.90" fill="#fcfcfc"/>
<rect x="293.40" y="2050.50" width="48.90" height="48.90" fill="#fcfcfc"/>
<rect x="342.30" y="2001.60" width="48.90" height="48.90" fill="#fcfcfc"/>
<rect x="391.20" y="1952.70" width="48.90" height="48.90" fill="#fcfcfc"/>
<rect x="440.10" y="1903.80" width="48.90" height="48.90" fill="#fcfcfc"/>
<rect x="489.00" y="1854.90" width="48.90" height="48.90" fill="#fcfcfc"/>
<rect x="537.90" y="1806.00" width="48.90" height="48.90" fill="#fcfcfc"/>
<rect x="586.80" y="1757.10" width="48.90" height="48.90" fill="#fcfcfc"/>
<rect x="635.70" y="1708.20" width="48.90" height="48.90" fill="#fcfcfc"/>
<rect x="684.60" y="1659.30" width="48.90" height="48.90" fill="#fcfcfc"/>
<rect x="733.50" y="1610.40" width="48.90" height="48.90" fill="#fcfcfc"/>
<rect x="782.40" y="1561.50" width="48.90" height="48.90" fill="#fcfcfc"/>
<rect x="831.30" y="1512.60" width="48.90" height="48.90" fill="#fcfcfc"/>
<rect x="880.20" y="1463.70" width="48.90" height="48.90" fill="#fcfcfc"/>
<rect x="929.10" y="1414.80" width="48.90" height="48.90" fill="#fcfcfc"/>
<rect x="978.00" y="1365.90" width="48.90" height="48.90" fill="#fcfcfc"/>
<rect x="1026.90" y="1317.00" width="48.90" height="48.90" fill="#fcfcfc"/>
<rect x="1075.80" y="1268.10" width="48.90" height="48.90" fill="#fcfcfc"/>
<rect x="1124.70" y="1219.20" width="48.90" height="48.90" fill="#fcfcfc"/>
<rect x="685.50" y="1709.10" width="47.10" height="47.10" fill="#67001f"/>
<rect x="734.40" y="1709.10" width="47.10" height="47.10" fill="#930e26"/>
<rect x="783.30" y="1709.10" width="47.10" height="47.10" fill="#870a24"/>
<rect x="832.20" y="1709.10" width="47.10" height="47.10" fill="#960f27"/>
<rect x="881.10" y="1709.10" width="47.10" height="47.10" fill="#c43b3c"/>
<rect x="930.00" y="1709.10" width="47.10" height="47.10" fill="#d6604d"/>
<rect x="978.90" y="1709.10" width="48.40" height="47.10" fill="#c43b3c"/>
<rect x="1026.50" y="1709.10" width="49.70" height="47.10" fill="#dc6e57"/>
<rect x="1075.40" y="1709.10" width="49.70" height="47.10" fill="#dc6e57"/>
<rect x="1124.30" y="1709.10" width="49.70" height="47.10" fill="#ba2832"/>
<rect x="1173.20" y="1709.10" width="49.30" height="47.10" fill="#f19e7d"/>
<rect x="734.40" y="1660.20" width="47.10" height="47.10" fill="#67001f"/>
<rect x="783.30" y="1660.20" width="47.10" height="47.10" fill="#700320"/>
<rect x="832.20" y="1660.20" width="47.10" height="47.10" fill="#840924"/>
<rect x="881.10" y="1660.20" width="47.10" height="47.10" fill="#b61f2e"/>
<rect x="930.00" y="1660.20" width="47.10" height="47.10" fill="#bf3338"/>
<rect x="978.90" y="1660.20" width="48.40" height="47.10" fill="#c6413e"/>
<rect x="1026.50" y="1660.20" width="49.70" height="47.10" fill="#d05548"/>
<rect x="1075.40" y="1660.20" width="49.70" height="47.10" fill="#cb4942"/>
<rect x="1124.30" y="1660.20" width="49.70" height="47.10" fill="#960f27"/>
<rect x="1173.20" y="1660.20" width="49.30" height="47.10" fill="#f5aa89"/>
<rect x="783.30" y="1611.30" width="47.10" height="47.10" fill="#67001f"/>
<rect x="832.20" y="1611.30" width="47.10" height="47.10" fill="#700320"/>
<rect x="881.10" y="1611.30" width="47.10" height="47.10" fill="#840924"/>
<rect x="930.00" y="1611.30" width="47.10" height="47.10" fill="#ae172a"/>
<rect x="978.90" y="1611.30" width="48.40" height="47.10" fill="#a51429"/>
<rect x="1026.50" y="1611.30" width="49.70" height="47.10" fill="#c2383a"/>
<rect x="1075.40" y="1611.30" width="49.70" height="47.10" fill="#b61f2e"/>
<rect x="1124.30" y="1611.30" width="49.70" height="47.10" fill="#960f27"/>
<rect x="1173.20" y="1611.30" width="49.30" height="47.10" fill="#dc6e57"/>
<rect x="832.20" y="1562.40" width="47.10" height="47.10" fill="#67001f"/>
<rect x="881.10" y="1562.40" width="47.10" height="47.10" fill="#ab162a"/>
<rect x="930.00" y="1562.40" width="47.10" height="47.10" fill="#7f0823"/>
<rect x="978.90" y="1562.40" width="48.40" height="47.10" fill="#8a0b25"/>
<rect x="1026.50" y="1562.40" width="49.70" height="47.10" fill="#991027"/>
<rect x="1075.40" y="1562.40" width="49.70" height="47.10" fill="#960f27"/>
<rect x="1124.30" y="1562.40" width="49.70" height="47.10" fill="#6d0220"/>
<rect x="1173.20" y="1562.40" width="49.30" height="47.10" fill="#c6413e"/>
<rect x="881.10" y="1513.50" width="47.10" height="47.10" fill="#67001f"/>
<rect x="930.00" y="1513.50" width="47.10" height="47.10" fill="#c43b3c"/>
<rect x="978.90" y="1513.50" width="48.40" height="47.10" fill="#bf3338"/>
<rect x="1026.50" y="1513.50" width="49.70" height="47.10" fill="#dc6e57"/>
<rect x="1075.40" y="1513.50" width="49.70" height="47.10" fill="#cb4942"/>
<rect x="1124.30" y="1513.50" width="49.70" height="47.10" fill="#c2383a"/>
<rect x="1173.20" y="1513.50" width="49.30" height="47.10" fill="#de735c"/>
<rect x="930.00" y="1464.60" width="47.10" height="47.10" fill="#67001f"/>
<rect x="978.90" y="1464.60" width="48.40" height="47.10" fill="#870a24"/>
<rect x="1026.50" y="1464.60" width="49.70" height="47.10" fill="#760521"/>
<rect x="1075.40" y="1464.60" width="49.70" height="47.10" fill="#6d0220"/>
<rect x="1124.30" y="1464.60" width="49.70" height="47.10" fill="#6d0220"/>
<rect x="1173.20" y="1464.60" width="49.30" height="47.10" fill="#b1182b"/>
<rect x="978.90" y="1414.40" width="48.40" height="48.40" fill="#67001f"/>
<rect x="1026.50" y="1414.40" width="49.70" height="48.40" fill="#930e26"/>
<rect x="1075.40" y="1414.40" width="49.70" height="48.40" fill="#840924"/>
<rect x="1124.30" y="1414.40" width="49.70" height="48.40" fill="#930e26"/>
<rect x="1173.20" y="1414.40" width="49.30" height="48.40" fill="#8a0b25"/>
<rect x="1026.50" y="1365.50" width="49.70" height="49.70" fill="#67001f"/>
<rect x="1075.40" y="1365.50" width="49.70" height="49.70" fill="#6d0220"/>
<rect x="1124.30" y="1365.50" width="49.70" height="49.70" fill="#840924"/>
<rect x="1173.20" y="1365.50" width="49.30" height="49.70" fill="#ab162a"/>
<rect x="1075.40" y="1316.60" width="49.70" height="49.70" fill="#67001f"/>
<rect x="1124.30" y="1316.60" width="49.70" height="49.70" fill="#840924"/>
<rect x="1173.20" y="1316.60" width="49.30" height="49.70" fill="#991027"/>
<rect x="1124.30" y="1267.70" width="49.70" height="49.70" fill="#67001f"/>
<rect x="1173.20" y="1267.70" width="49.30" height="49.70" fill="#c6413e"/>
<rect x="1173.20" y="1219.20" width="49.30" height="49.30" fill="#67001f"/>
<rect x="0.00" y="2393.70" width="48.00" height="48.00" fill="#67001f"/>
<rect x="49.80" y="2393.70" width="47.10" height="48.00" fill="#ab162a"/>
<rect x="98.70" y="2393.70" width="47.10" height="48.00" fill="#930e26"/>
<rect x="147.60" y="2393.70" width="47.10" height="48.00" fill="#bf3338"/>
<rect x="196.50" y="2393.70" width="47.10" height="48.00" fill="#991027"/>
<rect x="245.40" y="2393.70" width="47.10" height="48.00" fill="#c43b3c"/>
<rect x="294.30" y="2393.70" width="47.10" height="48.00" fill="#b82531"/>
<rect x="343.20" y="2393.70" width="47.10" height="48.00" fill="#f19e7d"/>
<rect x="392.10" y="2393.70" width="47.10" height="48.00" fill="#f8bb9e"/>
<rect x="441.00" y="2393.70" width="47.10" height="48.00" fill="#f8f4f2"/>
<rect x="489.90" y="2393.70" width="47.10" height="48.00" fill="#f5aa89"/>
<rect x="538.80" y="2393.70" width="47.10" height="48.00" fill="#e27b62"/>
<rect x="587.70" y="2393.70" width="47.10" height="48.00" fill="#bf3338"/>
<rect x="636.60" y="2393.70" width="47.10" height="48.00" fill="#bf3338"/>
<rect x="685.50" y="2393.70" width="47.10" height="48.00" fill="#e0ecf3"/>
<rect x="734.40" y="2393.70" width="47.10" height="48.00" fill="#fdddcb"/>
<rect x="783.30" y="2393.70" width="47.10" height="48.00" fill="#f7f6f6"/>
<rect x="832.20" y="2393.70" width="47.10" height="48.00" fill="#f7f6f6"/>
<rect x="881.10" y="2393.70" width="47.10" height="48.00" fill="#f8f4f2"/>
<rect x="930.00" y="2393.70" width="47.10" height="48.00" fill="#f7f6f6"/>
<rect x="978.90" y="2393.70" width="48.40" height="48.00" fill="#b3d6e8"/>
<rect x="1026.50" y="2393.70" width="49.70" height="48.00" fill="#e0ecf3"/>
<rect x="1075.40" y="2393.70" width="49.70" height="48.00" fill="#e4eef4"/>
<rect x="1124.30" y="2393.70" width="49.70" height="48.00" fill="#f7f6f6"/>
<rect x="1173.20" y="2393.70" width="49.30" height="48.00" fill="#529dc8"/>
<rect x="49.80" y="2344.80" width="47.10" height="47.10" fill="#67001f"/>
<rect x="98.70" y="2344.80" width="47.10" height="47.10" fill="#bf3338"/>
<rect x="147.60" y="2344.80" width="47.10" height="47.10" fill="#dc6e57"/>
<rect x="196.50" y="2344.80" width="47.10" height="47.10" fill="#ab162a"/>
<rect x="245.40" y="2344.80" width="47.10" height="47.10" fill="#d86551"/>
<rect x="294.30" y="2344.80" width="47.10" height="47.10" fill="#b1182b"/>
<rect x="343.20" y="2344.80" width="47.10" height="47.10" fill="#f19e7d"/>
<rect x="392.10" y="2344.80" width="47.10" height="47.10" fill="#f5aa89"/>
<rect x="441.00" y="2344.80" width="47.10" height="47.10" fill="#fbd0b9"/>
<rect x="489.90" y="2344.80" width="47.10" height="47.10" fill="#d6604d"/>
<rect x="538.80" y="2344.80" width="47.10" height="47.10" fill="#e48066"/>
<rect x="587.70" y="2344.80" width="47.10" height="47.10" fill="#d6604d"/>
<rect x="636.60" y="2344.80" width="47.10" height="47.10" fill="#de735c"/>
<rect x="685.50" y="2344.80" width="47.10" height="47.10" fill="#90c4dd"/>
<rect x="734.40" y="2344.80" width="47.10" height="47.10" fill="#7bb6d6"/>
<rect x="783.30" y="2344.80" width="47.10" height="47.10" fill="#62a7ce"/>
<rect x="832.20" y="2344.80" width="47.10" height="47.10" fill="#81bad8"/>
<rect x="881.10" y="2344.80" width="47.10" height="47.10" fill="#529dc8"/>
<rect x="930.00" y="2344.80" width="47.10" height="47.10" fill="#9dcbe1"/>
<rect x="978.90" y="2344.80" width="48.40" height="47.10" fill="#4393c3"/>
<rect x="1026.50" y="2344.80" width="49.70" height="47.10" fill="#90c4dd"/>
<rect x="1075.40" y="2344.80" width="49.70" height="47.10" fill="#75b2d4"/>
<rect x="1124.30" y="2344.80" width="49.70" height="47.10" fill="#75b2d4"/>
<rect x="1173.20" y="2344.80" width="49.30" height="47.10" fill="#246aae"/>
<rect x="98.70" y="2295.90" width="47.10" height="47.10" fill="#67001f"/>
<rect x="147.60" y="2295.90" width="47.10" height="47.10" fill="#d86551"/>
<rect x="196.50" y="2295.90" width="47.10" height="47.10" fill="#c6413e"/>
<rect x="245.40" y="2295.90" width="47.10" height="47.10" fill="#e8896c"/>
<rect x="294.30" y="2295.90" width="47.10" height="47.10" fill="#d6604d"/>
<rect x="343.20" y="2295.90" width="47.10" height="47.10" fill="#fcd5bf"/>
<rect x="392.10" y="2295.90" width="47.10" height="47.10" fill="#fae9df"/>
<rect x="441.00" y="2295.90" width="47.10" height="47.10" fill="#e0ecf3"/>
<rect x="489.90" y="2295.90" width="47.10" height="47.10" fill="#f9ebe3"/>
<rect x="538.80" y="2295.90" width="47.10" height="47.10" fill="#f9c6ac"/>
<rect x="587.70" y="2295.90" width="47.10" height="47.10" fill="#f3a481"/>
<rect x="636.60" y="2295.90" width="47.10" height="47.10" fill="#eb9172"/>
<rect x="685.50" y="2295.90" width="47.10" height="47.10" fill="#e0ecf3"/>
<rect x="734.40" y="2295.90" width="47.10" height="47.10" fill="#fdddcb"/>
<rect x="783.30" y="2295.90" width="47.10" height="47.10" fill="#fae9df"/>
<rect x="832.20" y="2295.90" width="47.10" height="47.10" fill="#f8f1ed"/>
<rect x="881.10" y="2295.90" width="47.10" height="47.10" fill="#fdddcb"/>
<rect x="930.00" y="2295.90" width="47.10" height="47.10" fill="#fbe6da"/>
<rect x="978.90" y="2295.90" width="48.40" height="47.10" fill="#e4eef4"/>
<rect x="1026.50" y="2295.90" width="49.70" height="47.10" fill="#f7f6f6"/>
<rect x="1075.40" y="2295.90" width="49.70" height="47.10" fill="#f8f1ed"/>
<rect x="1124.30" y="2295.90" width="49.70" height="47.10" fill="#f8f1ed"/>
<rect x="1173.20" y="2295.90" width="49.30" height="47.10" fill="#b1d5e7"/>
<rect x="147.60" y="2247.00" width="47.10" height="47.10" fill="#67001f"/>
<rect x="196.50" y="2247.00" width="47.10" height="47.10" fill="#b82531"/>
<rect x="245.40" y="2247.00" width="47.10" height="47.10" fill="#de735c"/>
<rect x="294.30" y="2247.00" width="47.10" height="47.10" fill="#c6413e"/>
<rect x="343.20" y="2247.00" width="47.10" height="47.10" fill="#d6604d"/>
<rect x="392.10" y="2247.00" width="47.10" height="47.10" fill="#d86551"/>
<rect x="441.00" y="2247.00" width="47.10" height="47.10" fill="#f5aa89"/>
<rect x="489.90" y="2247.00" width="47.10" height="47.10" fill="#f5aa89"/>
<rect x="538.80" y="2247.00" width="47.10" height="47.10" fill="#ee9677"/>
<rect x="587.70" y="2247.00" width="47.10" height="47.10" fill="#d6604d"/>
<rect x="636.60" y="2247.00" width="47.10" height="47.10" fill="#c6413e"/>
<rect x="685.50" y="2247.00" width="47.10" height="47.10" fill="#ecf2f5"/>
<rect x="734.40" y="2247.00" width="47.10" height="47.10" fill="#fbd0b9"/>
<rect x="783.30" y="2247.00" width="47.10" height="47.10" fill="#fae7dc"/>
<rect x="832.20" y="2247.00" width="47.10" height="47.10" fill="#f9efe9"/>
<rect x="881.10" y="2247.00" width="47.10" height="47.10" fill="#eff3f5"/>
<rect x="930.00" y="2247.00" width="47.10" height="47.10" fill="#f7f6f6"/>
<rect x="978.90" y="2247.00" width="48.40" height="47.10" fill="#a7d0e4"/>
<rect x="1026.50" y="2247.00" width="49.70" height="47.10" fill="#ddebf2"/>
<rect x="1075.40" y="2247.00" width="49.70" height="47.10" fill="#e4eef4"/>
<rect x="1124.30" y="2247.00" width="49.70" height="47.10" fill="#f7f6f6"/>
<rect x="1173.20" y="2247.00" width="49.30" height="47.10" fill="#3f8ec0"/>
<rect x="196.50" y="2198.10" width="47.10" height="47.10" fill="#67001f"/>
<rect x="245.40" y="2198.10" width="47.10" height="47.10" fill="#991027"/>
<rect x="294.30" y="2198.10" width="47.10" height="47.10" fill="#840924"/>
<rect x="343.20" y="2198.10" width="47.10" height="47.10" fill="#cf5246"/>
<rect x="392.10" y="2198.10" width="47.10" height="47.10" fill="#c6413e"/>
<rect x="441.00" y="2198.10" width="47.10" height="47.10" fill="#de735c"/>
<rect x="489.90" y="2198.10" width="47.10" height="47.10" fill="#b1182b"/>
<rect x="538.80" y="2198.10" width="47.10" height="47.10" fill="#cf5246"/>
<rect x="587.70" y="2198.10" width="47.10" height="47.10" fill="#a21328"/>
<rect x="636.60" y="2198.10" width="47.10" height="47.10" fill="#930e26"/>
<rect x="685.50" y="2198.10" width="47.10" height="47.10" fill="#f3f5f6"/>
<rect x="734.40" y="2198.10" width="47.10" height="47.10" fill="#fbe4d6"/>
<rect x="783.30" y="2198.10" width="47.10" height="47.10" fill="#f8f1ed"/>
<rect x="832.20" y="2198.10" width="47.10" height="47.10" fill="#f7f6f6"/>
<rect x="881.10" y="2198.10" width="47.10" height="47.10" fill="#f9efe9"/>
<rect x="930.00" y="2198.10" width="47.10" height="47.10" fill="#e4eef4"/>
<rect x="978.90" y="2198.10" width="48.40" height="47.10" fill="#a5cee3"/>
<rect x="1026.50" y="2198.10" width="49.70" height="47.10" fill="#d4e6f1"/>
<rect x="1075.40" y="2198.10" width="49.70" height="47.10" fill="#d4e6f1"/>
<rect x="1124.30" y="2198.10" width="49.70" height="47.10" fill="#e4eef4"/>
<rect x="1173.20" y="2198.10" width="49.30" height="47.10" fill="#3f8ec0"/>
<rect x="245.40" y="2149.20" width="47.10" height="47.10" fill="#67001f"/>
<rect x="294.30" y="2149.20" width="47.10" height="47.10" fill="#b61f2e"/>
<rect x="343.20" y="2149.20" width="47.10" height="47.10" fill="#f5aa89"/>
<rect x="392.10" y="2149.20" width="47.10" height="47.10" fill="#f7b596"/>
<rect x="441.00" y="2149.20" width="47.10" height="47.10" fill="#f9efe9"/>
<rect x="489.90" y="2149.20" width="47.10" height="47.10" fill="#d6604d"/>
<rect x="538.80" y="2149.20" width="47.10" height="47.10" fill="#e48066"/>
<rect x="587.70" y="2149.20" width="47.10" height="47.10" fill="#b82531"/>
<rect x="636.60" y="2149.20" width="47.10" height="47.10" fill="#b1182b"/>
<rect x="685.50" y="2149.20" width="47.10" height="47.10" fill="#b3d6e8"/>
<rect x="734.40" y="2149.20" width="47.10" height="47.10" fill="#ecf2f5"/>
<rect x="783.30" y="2149.20" width="47.10" height="47.10" fill="#d4e6f1"/>
<rect x="832.20" y="2149.20" width="47.10" height="47.10" fill="#b1d5e7"/>
<rect x="881.10" y="2149.20" width="47.10" height="47.10" fill="#e0ecf3"/>
<rect x="930.00" y="2149.20" width="47.10" height="47.10" fill="#9dcbe1"/>
<rect x="978.90" y="2149.20" width="48.40" height="47.10" fill="#4393c3"/>
<rect x="1026.50" y="2149.20" width="49.70" height="47.10" fill="#81bad8"/>
<rect x="1075.40" y="2149.20" width="49.70" height="47.10" fill="#6bacd1"/>
<rect x="1124.30" y="2149.20" width="49.70" height="47.10" fill="#9dcbe1"/>
<rect x="1173.20" y="2149.20" width="49.30" height="47.10" fill="#0d3f76"/>
<rect x="294.30" y="2100.30" width="47.10" height="47.10" fill="#67001f"/>
<rect x="343.20" y="2100.30" width="47.10" height="47.10" fill="#cf5246"/>
<rect x="392.10" y="2100.30" width="47.10" height="47.10" fill="#bd2d35"/>
<rect x="441.00" y="2100.30" width="47.10" height="47.10" fill="#cf5246"/>
<rect x="489.90" y="2100.30" width="47.10" height="47.10" fill="#991027"/>
<rect x="538.80" y="2100.30" width="47.10" height="47.10" fill="#d6604d"/>
<rect x="587.70" y="2100.30" width="47.10" height="47.10" fill="#b1182b"/>
<rect x="636.60" y="2100.30" width="47.10" height="47.10" fill="#a21328"/>
<rect x="685.50" y="2100.30" width="47.10" height="47.10" fill="#d8e9f1"/>
<rect x="734.40" y="2100.30" width="47.10" height="47.10" fill="#ecf2f5"/>
<rect x="783.30" y="2100.30" width="47.10" height="47.10" fill="#e0ecf3"/>
<rect x="832.20" y="2100.30" width="47.10" height="47.10" fill="#cae1ee"/>
<rect x="881.10" y="2100.30" width="47.10" height="47.10" fill="#ddebf2"/>
<rect x="930.00" y="2100.30" width="47.10" height="47.10" fill="#b1d5e7"/>
<rect x="978.90" y="2100.30" width="48.40" height="47.10" fill="#529dc8"/>
<rect x="1026.50" y="2100.30" width="49.70" height="47.10" fill="#a5cee3"/>
<rect x="1075.40" y="2100.30" width="49.70" height="47.10" fill="#a5cee3"/>
<rect x="1124.30" y="2100.30" width="49.70" height="47.10" fill="#b3d6e8"/>
<rect x="1173.20" y="2100.30" width="49.30" height="47.10" fill="#2065ab"/>
<rect x="343.20" y="2051.40" width="47.10" height="47.10" fill="#67001f"/>
<rect x="392.10" y="2051.40" width="47.10" height="47.10" fill="#7c0722"/>
<rect x="441.00" y="2051.40" width="47.10" height="47.10" fill="#930e26"/>
<rect x="489.90" y="2051.40" width="47.10" height="47.10" fill="#bf3338"/>
<rect x="538.80" y="2051.40" width="47.10" height="47.10" fill="#d6604d"/>
<rect x="587.70" y="2051.40" width="47.10" height="47.10" fill="#bf3338"/>
<rect x="636.60" y="2051.40" width="47.10" height="47.10" fill="#bf3338"/>
<rect x="685.50" y="2051.40" width="47.10" height="47.10" fill="#d4e6f1"/>
<rect x="734.40" y="2051.40" width="47.10" height="47.10" fill="#e4eef4"/>
<rect x="783.30" y="2051.40" width="47.10" height="47.10" fill="#d4e6f1"/>
<rect x="832.20" y="2051.40" width="47.10" height="47.10" fill="#d1e5f0"/>
<rect x="881.10" y="2051.40" width="47.10" height="47.10" fill="#b1d5e7"/>
<rect x="930.00" y="2051.40" width="47.10" height="47.10" fill="#90c4dd"/>
<rect x="978.90" y="2051.40" width="48.40" height="47.10" fill="#4393c3"/>
<rect x="1026.50" y="2051.40" width="49.70" height="47.10" fill="#71b0d3"/>
<rect x="1075.40" y="2051.40" width="49.70" height="47.10" fill="#90c4dd"/>
<rect x="1124.30" y="2051.40" width="49.70" height="47.10" fill="#a5cee3"/>
<rect x="1173.20" y="2051.40" width="49.30" height="47.10" fill="#1e61a5"/>
<rect x="392.10" y="2002.50" width="47.10" height="47.10" fill="#67001f"/>
<rect x="441.00" y="2002.50" width="47.10" height="47.10" fill="#8a0b25"/>
<rect x="489.90" y="2002.50" width="47.10" height="47.10" fill="#b82531"/>
<rect x="538.80" y="2002.50" width="47.10" height="47.10" fill="#d6604d"/>
<rect x="587.70" y="2002.50" width="47.10" height="47.10" fill="#d6604d"/>
<rect x="636.60" y="2002.50" width="47.10" height="47.10" fill="#c43b3c"/>
<rect x="685.50" y="2002.50" width="47.10" height="47.10" fill="#eff3f5"/>
<rect x="734.40" y="2002.50" width="47.10" height="47.10" fill="#e4eef4"/>
<rect x="783.30" y="2002.50" width="47.10" height="47.10" fill="#e0ecf3"/>
<rect x="832.20" y="2002.50" width="47.10" height="47.10" fill="#e0ecf3"/>
<rect x="881.10" y="2002.50" width="47.10" height="47.10" fill="#acd2e5"/>
<rect x="930.00" y="2002.50" width="47.10" height="47.10" fill="#b1d5e7"/>
<rect x="978.90" y="2002.50" width="48.40" height="47.10" fill="#8ac0db"/>
<rect x="1026.50" y="2002.50" width="49.70" height="47.10" fill="#b1d5e7"/>
<rect x="1075.40" y="2002.50" width="49.70" height="47.10" fill="#b1d5e7"/>
<rect x="1124.30" y="2002.50" width="49.70" height="47.10" fill="#b8d8e9"/>
<rect x="1173.20" y="2002.50" width="49.30" height="47.10" fill="#3c8abe"/>
<rect x="441.00" y="1953.60" width="47.10" height="47.10" fill="#67001f"/>
<rect x="489.90" y="1953.60" width="47.10" height="47.10" fill="#bd2d35"/>
<rect x="538.80" y="1953.60" width="47.10" height="47.10" fill="#eb9172"/>
<rect x="587.70" y="1953.60" width="47.10" height="47.10" fill="#eb9172"/>
<rect x="636.60" y="1953.60" width="47.10" height="47.10" fill="#de735c"/>
<rect x="685.50" y="1953.60" width="47.10" height="47.10" fill="#c5dfec"/>
<rect x="734.40" y="1953.60" width="47.10" height="47.10" fill="#98c8e0"/>
<rect x="783.30" y="1953.60" width="47.10" height="47.10" fill="#98c8e0"/>
<rect x="832.20" y="1953.60" width="47.10" height="47.10" fill="#90c4dd"/>
<rect x="881.10" y="1953.60" width="47.10" height="47.10" fill="#71b0d3"/>
<rect x="930.00" y="1953.60" width="47.10" height="47.10" fill="#3f8ec0"/>
<rect x="978.90" y="1953.60" width="48.40" height="47.10" fill="#2b73b3"/>
<rect x="1026.50" y="1953.60" width="49.70" height="47.10" fill="#4f9bc7"/>
<rect x="1075.40" y="1953.60" width="49.70" height="47.10" fill="#529dc8"/>
<rect x="1124.30" y="1953.60" width="49.70" height="47.10" fill="#3c8abe"/>
<rect x="1173.20" y="1953.60" width="49.30" height="47.10" fill="#2b73b3"/>
<rect x="489.90" y="1904.70" width="47.10" height="47.10" fill="#67001f"/>
<rect x="538.80" y="1904.70" width="47.10" height="47.10" fill="#db6b55"/>
<rect x="587.70" y="1904.70" width="47.10" height="47.10" fill="#bd2d35"/>
<rect x="636.60" y="1904.70" width="47.10" height="47.10" fill="#b1182b"/>
<rect x="685.50" y="1904.70" width="47.10" height="47.10" fill="#3f8ec0"/>
<rect x="734.40" y="1904.70" width="47.10" height="47.10" fill="#1e61a5"/>
<rect x="783.30" y="1904.70" width="47.10" height="47.10" fill="#2065ab"/>
<rect x="832.20" y="1904.70" width="47.10" height="47.10" fill="#1e61a5"/>
<rect x="881.10" y="1904.70" width="47.10" height="47.10" fill="#246aae"/>
<rect x="930.00" y="1904.70" width="47.10" height="47.10" fill="#0d3f76"/>
<rect x="978.90" y="1904.70" width="48.40" height="47.10" fill="#053061"/>
<rect x="1026.50" y="1904.70" width="49.70" height="47.10" fill="#15508d"/>
<rect x="1075.40" y="1904.70" width="49.70" height="47.10" fill="#0a3b70"/>
<rect x="1124.30" y="1904.70" width="49.70" height="47.10" fill="#073467"/>
<rect x="1173.20" y="1904.70" width="49.30" height="47.10" fill="#053061"/>
<rect x="538.80" y="1855.80" width="47.10" height="47.10" fill="#67001f"/>
<rect x="587.70" y="1855.80" width="47.10" height="47.10" fill="#ab162a"/>
<rect x="636.60" y="1855.80" width="47.10" height="47.10" fill="#bd2d35"/>
<rect x="685.50" y="1855.80" width="47.10" height="47.10" fill="#fdddcb"/>
<rect x="734.40" y="1855.80" width="47.10" height="47.10" fill="#fcd5bf"/>
<rect x="783.30" y="1855.80" width="47.10" height="47.10" fill="#f8f4f2"/>
<rect x="832.20" y="1855.80" width="47.10" height="47.10" fill="#fbe6da"/>
<rect x="881.10" y="1855.80" width="47.10" height="47.10" fill="#d4e6f1"/>
<rect x="930.00" y="1855.80" width="47.10" height="47.10" fill="#f9efe9"/>
<rect x="978.90" y="1855.80" width="48.40" height="47.10" fill="#b8d8e9"/>
<rect x="1026.50" y="1855.80" width="49.70" height="47.10" fill="#f8f1ed"/>
<rect x="1075.40" y="1855.80" width="49.70" height="47.10" fill="#f7f6f6"/>
<rect x="1124.30" y="1855.80" width="49.70" height="47.10" fill="#fce0d0"/>
<rect x="1173.20" y="1855.80" width="49.30" height="47.10" fill="#6bacd1"/>
<rect x="587.70" y="1806.90" width="47.10" height="47.10" fill="#67001f"/>
<rect x="636.60" y="1806.90" width="47.10" height="47.10" fill="#7c0722"/>
<rect x="685.50" y="1806.90" width="47.10" height="47.10" fill="#ecf2f5"/>
<rect x="734.40" y="1806.90" width="47.10" height="47.10" fill="#fae9df"/>
<rect x="783.30" y="1806.90" width="47.10" height="47.10" fill="#e7f0f4"/>
<rect x="832.20" y="1806.90" width="47.10" height="47.10" fill="#e4eef4"/>
<rect x="881.10" y="1806.90" width="47.10" height="47.10" fill="#d4e6f1"/>
<rect x="930.00" y="1806.90" width="47.10" height="47.10" fill="#cae1ee"/>
<rect x="978.90" y="1806.90" width="48.40" height="47.10" fill="#71b0d3"/>
<rect x="1026.50" y="1806.90" width="49.70" height="47.10" fill="#bddbea"/>
<rect x="1075.40" y="1806.90" width="49.70" height="47.10" fill="#acd2e5"/>
<rect x="1124.30" y="1806.90" width="49.70" height="47.10" fill="#ddebf2"/>
<rect x="1173.20" y="1806.90" width="49.30" height="47.10" fill="#1e61a5"/>
<rect x="636.60" y="1758.00" width="47.10" height="47.10" fill="#67001f"/>
<rect x="685.50" y="1758.00" width="47.10" height="47.10" fill="#f8f1ed"/>
<rect x="734.40" y="1758.00" width="47.10" height="47.10" fill="#fcd5bf"/>
<rect x="783.30" y="1758.00" width="47.10" height="47.10" fill="#fae9df"/>
<rect x="832.20" y="1758.00" width="47.10" height="47.10" fill="#f7f6f6"/>
<rect x="881.10" y="1758.00" width="47.10" height="47.10" fill="#f8f1ed"/>
<rect x="930.00" y="1758.00" width="47.10" height="47.10" fill="#d4e6f1"/>
<rect x="978.90" y="1758.00" width="48.40" height="47.10" fill="#90c4dd"/>
<rect x="1026.50" y="1758.00" width="49.70" height="47.10" fill="#bddbea"/>
<rect x="1075.40" y="1758.00" width="49.70" height="47.10" fill="#b8d8e9"/>
<rect x="1124.30" y="1758.00" width="49.70" height="47.10" fill="#e7f0f4"/>
<rect x="1173.20" y="1758.00" width="49.30" height="47.10" fill="#246aae"/>
<circle cx="709.05" cy="1732.65" r="4" fill="#000"/>
<circle cx="757.95" cy="1732.65" r="4" fill="#000"/>
<circle cx="806.85" cy="1732.65" r="4" fill="#000"/>
<circle cx="855.75" cy="1732.65" r="4" fill="#000"/>
<circle cx="904.65" cy="1732.65" r="4" fill="#000"/>
<circle cx="953.55" cy="1732.65" r="4" fill="#000"/>
<circle cx="1002.45" cy="1732.65" r="4" fill="#000"/>
<circle cx="1051.35" cy="1732.65" r="4" fill="#000"/>
<circle cx="1100.25" cy="1732.65" r="4" fill="#000"/>
<circle cx="1149.15" cy="1732.65" r="4" fill="#000"/>
<circle cx="1198.05" cy="1732.65" r="4" fill="#000"/>
<circle cx="757.95" cy="1683.75" r="4" fill="#000"/>
<circle cx="806.85" cy="1683.75" r="4" fill="#000"/>
<circle cx="855.75" cy="1683.75" r="4" fill="#000"/>
<circle cx="904.65" cy="1683.75" r="4" fill="#000"/>
<circle cx="953.55" cy="1683.75" r="4" fill="#000"/>
<circle cx="1002.45" cy="1683.75" r="4" fill="#000"/>
<circle cx="1051.35" cy="1683.75" r="4" fill="#000"/>
<circle cx="1100.25" cy="1683.75" r="4" fill="#000"/>
<circle cx="1149.15" cy="1683.75" r="4" fill="#000"/>
<circle cx="806.85" cy="1634.85" r="4" fill="#000"/>
<circle cx="855.75" cy="1634.85" r="4" fill="#000"/>
<circle cx="904.65" cy="1634.85" r="4" fill="#000"/>
<circle cx="953.55" cy="1634.85" r="4" fill="#000"/>
<circle cx="1002.45" cy="1634.85" r="4" fill="#000"/>
<circle cx="1051.35" cy="1634.85" r="4" fill="#000"/>
<circle cx="1100.25" cy="1634.85" r="4" fill="#000"/>
<circle cx="1149.15" cy="1634.85" r="4" fill="#000"/>
<circle cx="1198.05" cy="1634.85" r="4" fill="#000"/>
<circle cx="855.75" cy="1585.95" r="4" fill="#000"/>
<circle cx="904.65" cy="1585.95" r="4" fill="#000"/>
<circle cx="953.55" cy="1585.95" r="4" fill="#000"/>
<circle cx="1002.45" cy="1585.95" r="4" fill="#000"/>
<circle cx="1051.35" cy="1585.95" r="4" fill="#000"/>
<circle cx="1100.25" cy="1585.95" r="4" fill="#000"/>
<circle cx="1149.15" cy="1585.95" r="4" fill="#000"/>
<circle cx="1198.05" cy="1585.95" r="4" fill="#000"/>
<circle cx="904.65" cy="1537.05" r="4" fill="#000"/>
<circle cx="953.55" cy="1537.05" r="4" fill="#000"/>
<circle cx="1002.45" cy="1537.05" r="4" fill="#000"/>
<circle cx="1051.35" cy="1537.05" r="4" fill="#000"/>
<circle cx="1100.25" cy="1537.05" r="4" fill="#000"/>
<circle cx="1149.15" cy="1537.05" r="4" fill="#000"/>
<circle cx="1198.05" cy="1537.05" r="4" fill="#000"/>
<circle cx="953.55" cy="1488.15" r="4" fill="#000"/>
<circle cx="1002.45" cy="1488.15" r="4" fill="#000"/>
<circle cx="1051.35" cy="1488.15" r="4" fill="#000"/>
<circle cx="1100.25" cy="1488.15" r="4" fill="#000"/>
<circle cx="1149.15" cy="1488.15" r="4" fill="#000"/>
<circle cx="1198.05" cy="1488.15" r="4" fill="#000"/>
<circle cx="1002.45" cy="1439.25" r="4" fill="#000"/>
<circle cx="1051.35" cy="1439.25" r="4" fill="#000"/>
<circle cx="1100.25" cy="1439.25" r="4" fill="#000"/>
<circle cx="1149.15" cy="1439.25" r="4" fill="#000"/>
<circle cx="1198.05" cy="1439.25" r="4" fill="#000"/>
<circle cx="1051.35" cy="1390.35" r="4" fill="#000"/>
<circle cx="1100.25" cy="1390.35" r="4" fill="#000"/>
<circle cx="1149.15" cy="1390.35" r="4" fill="#000"/>
<circle cx="1198.05" cy="1390.35" r="4" fill="#000"/>
<circle cx="1100.25" cy="1341.45" r="4" fill="#000"/>
<circle cx="1149.15" cy="1341.45" r="4" fill="#000"/>
<circle cx="1198.05" cy="1341.45" r="4" fill="#000"/>
<circle cx="1149.15" cy="1292.55" r="4" fill="#000"/>
<circle cx="1198.05" cy="1292.55" r="4" fill="#000"/>
<circle cx="1198.05" cy="1243.65" r="4" fill="#000"/>
<circle cx="24.45" cy="2417.25" r="4" fill="#000"/>
<circle cx="73.35" cy="2417.25" r="4" fill="#000"/>
<circle cx="122.25" cy="2417.25" r="4" fill="#000"/>
<circle cx="171.15" cy="2417.25" r="4" fill="#000"/>
<circle cx="220.05" cy="2417.25" r="4" fill="#000"/>
<circle cx="268.95" cy="2417.25" r="4" fill="#000"/>
<circle cx="317.85" cy="2417.25" r="4" fill="#000"/>
<circle cx="366.75" cy="2417.25" r="4" fill="#000"/>
<circle cx="415.65" cy="2417.25" r="4" fill="#000"/>
<circle cx="513.45" cy="2417.25" r="4" fill="#000"/>
<circle cx="562.35" cy="2417.25" r="4" fill="#000"/>
<circle cx="611.25" cy="2417.25" r="4" fill="#000"/>
<circle cx="660.15" cy="2417.25" r="4" fill="#000"/>
<circle cx="73.35" cy="2368.35" r="4" fill="#000"/>
<circle cx="122.25" cy="2368.35" r="4" fill="#000"/>
<circle cx="171.15" cy="2368.35" r="4" fill="#000"/>
<circle cx="220.05" cy="2368.35" r="4" fill="#000"/>
<circle cx="268.95" cy="2368.35" r="4" fill="#000"/>
<circle cx="317.85" cy="2368.35" r="4" fill="#000"/>
<circle cx="366.75" cy="2368.35" r="4" fill="#000"/>
<circle cx="415.65" cy="2368.35" r="4" fill="#000"/>
<circle cx="513.45" cy="2368.35" r="4" fill="#000"/>
<circle cx="562.35" cy="2368.35" r="4" fill="#000"/>
<circle cx="611.25" cy="2368.35" r="4" fill="#000"/>
<circle cx="660.15" cy="2368.35" r="4" fill="#000"/>
<circle cx="122.25" cy="2319.45" r="4" fill="#000"/>
<circle cx="171.15" cy="2319.45" r="4" fill="#000"/>
<circle cx="220.05" cy="2319.45" r="4" fill="#000"/>
<circle cx="268.95" cy="2319.45" r="4" fill="#000"/>
<circle cx="317.85" cy="2319.45" r="4" fill="#000"/>
<circle cx="366.75" cy="2319.45" r="4" fill="#000"/>
<circle cx="611.25" cy="2319.45" r="4" fill="#000"/>
<circle cx="660.15" cy="2319.45" r="4" fill="#000"/>
<circle cx="904.65" cy="2319.45" r="4" fill="#000"/>
<circle cx="171.15" cy="2270.55" r="4" fill="#000"/>
<circle cx="220.05" cy="2270.55" r="4" fill="#000"/>
<circle cx="268.95" cy="2270.55" r="4" fill="#000"/>
<circle cx="317.85" cy="2270.55" r="4" fill="#000"/>
<circle cx="366.75" cy="2270.55" r="4" fill="#000"/>
<circle cx="415.65" cy="2270.55" r="4" fill="#000"/>
<circle cx="464.55" cy="2270.55" r="4" fill="#000"/>
<circle cx="513.45" cy="2270.55" r="4" fill="#000"/>
<circle cx="562.35" cy="2270.55" r="4" fill="#000"/>
<circle cx="611.25" cy="2270.55" r="4" fill="#000"/>
<circle cx="660.15" cy="2270.55" r="4" fill="#000"/>
<circle cx="220.05" cy="2221.65" r="4" fill="#000"/>
<circle cx="268.95" cy="2221.65" r="4" fill="#000"/>
<circle cx="317.85" cy="2221.65" r="4" fill="#000"/>
<circle cx="366.75" cy="2221.65" r="4" fill="#000"/>
<circle cx="415.65" cy="2221.65" r="4" fill="#000"/>
<circle cx="464.55" cy="2221.65" r="4" fill="#000"/>
<circle cx="513.45" cy="2221.65" r="4" fill="#000"/>
<circle cx="562.35" cy="2221.65" r="4" fill="#000"/>
<circle cx="611.25" cy="2221.65" r="4" fill="#000"/>
<circle cx="660.15" cy="2221.65" r="4" fill="#000"/>
<circle cx="268.95" cy="2172.75" r="4" fill="#000"/>
<circle cx="317.85" cy="2172.75" r="4" fill="#000"/>
<circle cx="366.75" cy="2172.75" r="4" fill="#000"/>
<circle cx="415.65" cy="2172.75" r="4" fill="#000"/>
<circle cx="513.45" cy="2172.75" r="4" fill="#000"/>
<circle cx="562.35" cy="2172.75" r="4" fill="#000"/>
<circle cx="611.25" cy="2172.75" r="4" fill="#000"/>
<circle cx="660.15" cy="2172.75" r="4" fill="#000"/>
<circle cx="317.85" cy="2123.85" r="4" fill="#000"/>
<circle cx="366.75" cy="2123.85" r="4" fill="#000"/>
<circle cx="415.65" cy="2123.85" r="4" fill="#000"/>
<circle cx="464.55" cy="2123.85" r="4" fill="#000"/>
<circle cx="513.45" cy="2123.85" r="4" fill="#000"/>
<circle cx="562.35" cy="2123.85" r="4" fill="#000"/>
<circle cx="611.25" cy="2123.85" r="4" fill="#000"/>
<circle cx="660.15" cy="2123.85" r="4" fill="#000"/>
<circle cx="366.75" cy="2074.95" r="4" fill="#000"/>
<circle cx="415.65" cy="2074.95" r="4" fill="#000"/>
<circle cx="464.55" cy="2074.95" r="4" fill="#000"/>
<circle cx="513.45" cy="2074.95" r="4" fill="#000"/>
<circle cx="562.35" cy="2074.95" r="4" fill="#000"/>
<circle cx="611.25" cy="2074.95" r="4" fill="#000"/>
<circle cx="660.15" cy="2074.95" r="4" fill="#000"/>
<circle cx="415.65" cy="2026.05" r="4" fill="#000"/>
<circle cx="464.55" cy="2026.05" r="4" fill="#000"/>
<circle cx="513.45" cy="2026.05" r="4" fill="#000"/>
<circle cx="562.35" cy="2026.05" r="4" fill="#000"/>
<circle cx="611.25" cy="2026.05" r="4" fill="#000"/>
<circle cx="660.15" cy="2026.05" r="4" fill="#000"/>
<circle cx="464.55" cy="1977.15" r="4" fill="#000"/>
<circle cx="513.45" cy="1977.15" r="4" fill="#000"/>
<circle cx="562.35" cy="1977.15" r="4" fill="#000"/>
<circle cx="611.25" cy="1977.15" r="4" fill="#000"/>
<circle cx="660.15" cy="1977.15" r="4" fill="#000"/>
<circle cx="513.45" cy="1928.25" r="4" fill="#000"/>
<circle cx="562.35" cy="1928.25" r="4" fill="#000"/>
<circle cx="611.25" cy="1928.25" r="4" fill="#000"/>
<circle cx="660.15" cy="1928.25" r="4" fill="#000"/>
<circle cx="562.35" cy="1879.35" r="4" fill="#000"/>
<circle cx="611.25" cy="1879.35" r="4" fill="#000"/>
<circle cx="660.15" cy="1879.35" r="4" fill="#000"/>
<circle cx="611.25" cy="1830.45" r="4" fill="#000"/>
<circle cx="660.15" cy="1830.45" r="4" fill="#000"/>
<circle cx="660.15" cy="1781.55" r="4" fill="#000"/>
<path d="M684.6,2441.7 L684.6,1757.1 L1222.7,1757.1" fill="none" stroke="#000" stroke-width="2.2"/>
<text x="825.5" y="1794.7" font-size="29">Cape Hatteras</text>
<line x1="0" y1="2441.7" x2="1223.7" y2="2441.7" stroke="#000" stroke-width="2"/>
<line x1="1222.7" y1="1219.2" x2="1222.7" y2="2442.7" stroke="#000" stroke-width="2"/>
<line x1="24.45" y1="2441.7" x2="24.45" y2="2431.7" stroke="#000" stroke-width="2"/>
<text x="24.45" y="2476" font-size="29" text-anchor="middle">1</text>
<line x1="1222.7" y1="2417.25" x2="1212.7" y2="2417.25" stroke="#000" stroke-width="2"/>
<text x="1231.5" y="2426.65" font-size="29">1</text>
<line x1="73.35" y1="2441.7" x2="73.35" y2="2431.7" stroke="#000" stroke-width="2"/>
<text x="73.35" y="2476" font-size="29" text-anchor="middle">2</text>
<line x1="1222.7" y1="2368.35" x2="1212.7" y2="2368.35" stroke="#000" stroke-width="2"/>
<text x="1231.5" y="2377.75" font-size="29">2</text>
<line x1="122.25" y1="2441.7" x2="122.25" y2="2431.7" stroke="#000" stroke-width="2"/>
<text x="122.25" y="2476" font-size="29" text-anchor="middle">3</text>
<line x1="1222.7" y1="2319.45" x2="1212.7" y2="2319.45" stroke="#000" stroke-width="2"/>
<text x="1231.5" y="2328.85" font-size="29">3</text>
<line x1="171.15" y1="2441.7" x2="171.15" y2="2431.7" stroke="#000" stroke-width="2"/>
<text x="171.15" y="2476" font-size="29" text-anchor="middle">4</text>
<line x1="1222.7" y1="2270.55" x2="1212.7" y2="2270.55" stroke="#000" stroke-width="2"/>
<text x="1231.5" y="2279.95" font-size="29">4</text>
<line x1="220.05" y1="2441.7" x2="220.05" y2="2431.7" stroke="#000" stroke-width="2"/>
<text x="220.05" y="2476" font-size="29" text-anchor="middle">5</text>
<line x1="1222.7" y1="2221.65" x2="1212.7" y2="2221.65" stroke="#000" stroke-width="2"/>
<text x="1231.5" y="2231.05" font-size="29">5</text>
<line x1="268.95" y1="2441.7" x2="268.95" y2="2431.7" stroke="#000" stroke-width="2"/>
<text x="268.95" y="2476" font-size="29" text-anchor="middle">6</text>
<line x1="1222.7" y1="2172.75" x2="1212.7" y2="2172.75" stroke="#000" stroke-width="2"/>
<text x="1231.5" y="2182.15" font-size="29">6</text>
<line x1="317.85" y1="2441.7" x2="317.85" y2="2431.7" stroke="#000" stroke-width="2"/>
<text x="317.85" y="2476" font-size="29" text-anchor="middle">7</text>
<line x1="1222.7" y1="2123.85" x2="1212.7" y2="2123.85" stroke="#000" stroke-width="2"/>
<text x="1231.5" y="2133.25" font-size="29">7</text>
<line x1="366.75" y1="2441.7" x2="366.75" y2="2431.7" stroke="#000" stroke-width="2"/>
<text x="366.75" y="2476" font-size="29" text-anchor="middle">8</text>
<line x1="1222.7" y1="2074.95" x2="1212.7" y2="2074.95" stroke="#000" stroke-width="2"/>
<text x="1231.5" y="2084.35" font-size="29">8</text>
<line x1="415.65" y1="2441.7" x2="415.65" y2="2431.7" stroke="#000" stroke-width="2"/>
<text x="415.65" y="2476" font-size="29" text-anchor="middle">9</text>
<line x1="1222.7" y1="2026.05" x2="1212.7" y2="2026.05" stroke="#000" stroke-width="2"/>
<text x="1231.5" y="2035.45" font-size="29">9</text>
<line x1="464.55" y1="2441.7" x2="464.55" y2="2431.7" stroke="#000" stroke-width="2"/>
<text x="464.55" y="2476" font-size="29" text-anchor="middle">10</text>
<line x1="1222.7" y1="1977.15" x2="1212.7" y2="1977.15" stroke="#000" stroke-width="2"/>
<text x="1231.5" y="1986.55" font-size="29">10</text>
<line x1="513.45" y1="2441.7" x2="513.45" y2="2431.7" stroke="#000" stroke-width="2"/>
<text x="513.45" y="2476" font-size="29" text-anchor="middle">11</text>
<line x1="1222.7" y1="1928.25" x2="1212.7" y2="1928.25" stroke="#000" stroke-width="2"/>
<text x="1231.5" y="1937.65" font-size="29">11</text>
<line x1="562.35" y1="2441.7" x2="562.35" y2="2431.7" stroke="#000" stroke-width="2"/>
<text x="562.35" y="2476" font-size="29" text-anchor="middle">12</text>
<line x1="1222.7" y1="1879.35" x2="1212.7" y2="1879.35" stroke="#000" stroke-width="2"/>
<text x="1231.5" y="1888.75" font-size="29">12</text>
<line x1="611.25" y1="2441.7" x2="611.25" y2="2431.7" stroke="#000" stroke-width="2"/>
<text x="611.25" y="2476" font-size="29" text-anchor="middle">13</text>
<line x1="1222.7" y1="1830.45" x2="1212.7" y2="1830.45" stroke="#000" stroke-width="2"/>
<text x="1231.5" y="1839.85" font-size="29">13</text>
<line x1="660.15" y1="2441.7" x2="660.15" y2="2431.7" stroke="#000" stroke-width="2"/>
<text x="660.15" y="2476" font-size="29" text-anchor="middle">14</text>
<line x1="1222.7" y1="1781.55" x2="1212.7" y2="1781.55" stroke="#000" stroke-width="2"/>
<text x="1231.5" y="1790.95" font-size="29">14</text>
<line x1="709.05" y1="2441.7" x2="709.05" y2="2431.7" stroke="#000" stroke-width="2"/>
<text x="709.05" y="2476" font-size="29" text-anchor="middle">15</text>
<line x1="1222.7" y1="1732.65" x2="1212.7" y2="1732.65" stroke="#000" stroke-width="2"/>
<text x="1231.5" y="1742.05" font-size="29">15</text>
<line x1="757.95" y1="2441.7" x2="757.95" y2="2431.7" stroke="#000" stroke-width="2"/>
<text x="757.95" y="2476" font-size="29" text-anchor="middle">16</text>
<line x1="1222.7" y1="1683.75" x2="1212.7" y2="1683.75" stroke="#000" stroke-width="2"/>
<text x="1231.5" y="1693.15" font-size="29">16</text>
<line x1="806.85" y1="2441.7" x2="806.85" y2="2431.7" stroke="#000" stroke-width="2"/>
<text x="806.85" y="2476" font-size="29" text-anchor="middle">17</text>
<line x1="1222.7" y1="1634.85" x2="1212.7" y2="1634.85" stroke="#000" stroke-width="2"/>
<text x="1231.5" y="1644.25" font-size="29">17</text>
<line x1="855.75" y1="2441.7" x2="855.75" y2="2431.7" stroke="#000" stroke-width="2"/>
<text x="855.75" y="2476" font-size="29" text-anchor="middle">18</text>
<line x1="1222.7" y1="1585.95" x2="1212.7" y2="1585.95" stroke="#000" stroke-width="2"/>
<text x="1231.5" y="1595.35" font-size="29">18</text>
<line x1="904.65" y1="2441.7" x2="904.65" y2="2431.7" stroke="#000" stroke-width="2"/>
<text x="904.65" y="2476" font-size="29" text-anchor="middle">19</text>
<line x1="1222.7" y1="1537.05" x2="1212.7" y2="1537.05" stroke="#000" stroke-width="2"/>
<text x="1231.5" y="1546.45" font-size="29">19</text>
<line x1="953.55" y1="2441.7" x2="953.55" y2="2431.7" stroke="#000" stroke-width="2"/>
<text x="953.55" y="2476" font-size="29" text-anchor="middle">20</text>
<line x1="1222.7" y1="1488.15" x2="1212.7" y2="1488.15" stroke="#000" stroke-width="2"/>
<text x="1231.5" y="1497.55" font-size="29">20</text>
<line x1="1002.45" y1="2441.7" x2="1002.45" y2="2431.7" stroke="#000" stroke-width="2"/>
<text x="1002.45" y="2476" font-size="29" text-anchor="middle">21</text>
<line x1="1222.7" y1="1439.25" x2="1212.7" y2="1439.25" stroke="#000" stroke-width="2"/>
<text x="1231.5" y="1448.65" font-size="29">21</text>
<line x1="1051.35" y1="2441.7" x2="1051.35" y2="2431.7" stroke="#000" stroke-width="2"/>
<text x="1051.35" y="2476" font-size="29" text-anchor="middle">22</text>
<line x1="1222.7" y1="1390.35" x2="1212.7" y2="1390.35" stroke="#000" stroke-width="2"/>
<text x="1231.5" y="1399.75" font-size="29">22</text>
<line x1="1100.25" y1="2441.7" x2="1100.25" y2="2431.7" stroke="#000" stroke-width="2"/>
<text x="1100.25" y="2476" font-size="29" text-anchor="middle">23</text>
<line x1="1222.7" y1="1341.45" x2="1212.7" y2="1341.45" stroke="#000" stroke-width="2"/>
<text x="1231.5" y="1350.85" font-size="29">23</text>
<line x1="1149.15" y1="2441.7" x2="1149.15" y2="2431.7" stroke="#000" stroke-width="2"/>
<text x="1149.15" y="2476" font-size="29" text-anchor="middle">24</text>
<line x1="1222.7" y1="1292.55" x2="1212.7" y2="1292.55" stroke="#000" stroke-width="2"/>
<text x="1231.5" y="1301.95" font-size="29">24</text>
<line x1="1198.05" y1="2441.7" x2="1198.05" y2="2431.7" stroke="#000" stroke-width="2"/>
<text x="1198.05" y="2476" font-size="29" text-anchor="middle">25</text>
<line x1="1222.7" y1="1243.65" x2="1212.7" y2="1243.65" stroke="#000" stroke-width="2"/>
<text x="1231.5" y="1253.05" font-size="29">25</text>
<text x="611.5" y="2518.6" font-size="29" text-anchor="middle">Tide gauge #</text>
<text transform="translate(1308.8,1832.5) rotate(-90)" font-size="29" text-anchor="middle">Tide gauge #</text>
<defs><linearGradient id="rdbu" x1="0" y1="1" x2="0" y2="0">
<stop offset="0.000" stop-color="#053061"/>
<stop offset="0.050" stop-color="#124984"/>
<stop offset="0.100" stop-color="#2065ab"/>
<stop offset="0.150" stop-color="#327cb7"/>
<stop offset="0.200" stop-color="#4393c3"/>
<stop offset="0.250" stop-color="#6bacd1"/>
<stop offset="0.300" stop-color="#90c4dd"/>
<stop offset="0.350" stop-color="#b1d5e7"/>
<stop offset="0.400" stop-color="#d1e5f0"/>
<stop offset="0.450" stop-color="#e4eef4"/>
<stop offset="0.500" stop-color="#f7f6f6"/>
<stop offset="0.550" stop-color="#fae9df"/>
<stop offset="0.600" stop-color="#fddbc7"/>
<stop offset="0.650" stop-color="#f8bfa4"/>
<stop offset="0.700" stop-color="#f3a481"/>
<stop offset="0.750" stop-color="#e48066"/>
<stop offset="0.800" stop-color="#d6604d"/>
<stop offset="0.850" stop-color="#c43b3c"/>
<stop offset="0.900" stop-color="#b1182b"/>
<stop offset="0.950" stop-color="#8a0b25"/>
<stop offset="1.000" stop-color="#67001f"/>
</linearGradient></defs>
<rect x="258.6" y="1391.0" width="44.4" height="576.0" fill="url(#rdbu)" stroke="#000" stroke-width="2"/>
<text x="247" y="1976.0" font-size="29" text-anchor="end">0.0</text>
<line x1="258.6" y1="1851.8" x2="268.6" y2="1851.8" stroke="#000" stroke-width="2"/>
<text x="247" y="1860.8" font-size="29" text-anchor="end">0.2</text>
<line x1="258.6" y1="1736.6" x2="268.6" y2="1736.6" stroke="#000" stroke-width="2"/>
<text x="247" y="1745.6" font-size="29" text-anchor="end">0.4</text>
<line x1="258.6" y1="1621.4" x2="268.6" y2="1621.4" stroke="#000" stroke-width="2"/>
<text x="247" y="1630.4" font-size="29" text-anchor="end">0.6</text>
<line x1="258.6" y1="1506.2" x2="268.6" y2="1506.2" stroke="#000" stroke-width="2"/>
<text x="247" y="1515.2" font-size="29" text-anchor="end">0.8</text>
<text x="247" y="1400.0" font-size="29" text-anchor="end">1.0</text>
<text transform="translate(188.5,1673.5) rotate(-90)" font-size="29" text-anchor="middle">Correlation</text>
</svg></body></html>
